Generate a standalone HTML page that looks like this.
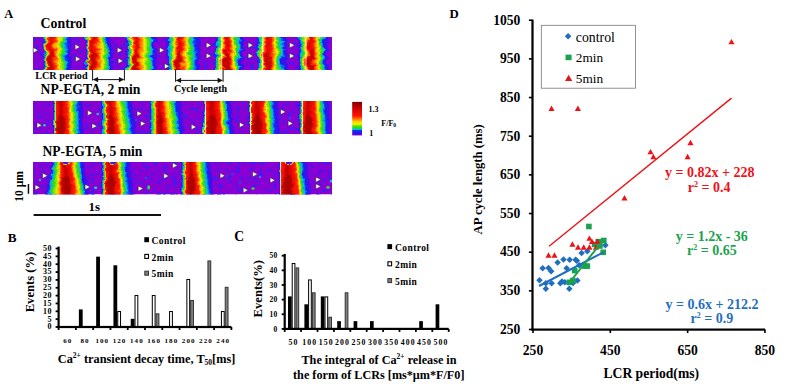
<!DOCTYPE html><html><head><meta charset="utf-8"><style>html,body{margin:0;padding:0;background:#fff;width:800px;height:388px;overflow:hidden}svg{display:block}</style></head><body>
<svg width="800" height="388" viewBox="0 0 800 388">
<rect width="800" height="388" fill="#fff"/>
<text x="4.3" y="17.8" font-family="Liberation Serif" font-weight="bold" font-size="12.4">A</text>
<text x="40.6" y="28.4" font-family="Liberation Serif" font-weight="bold" font-size="13.8">Control</text>
<filter id="sf1" color-interpolation-filters="sRGB" filterUnits="userSpaceOnUse" x="27" y="31" width="311" height="45"><feTurbulence type="turbulence" baseFrequency="0.07 0.12" numOctaves="3" seed="3" result="n"/><feDisplacementMap in="SourceGraphic" in2="n" scale="7" xChannelSelector="R" yChannelSelector="A"/></filter>
<filter id="nf1" color-interpolation-filters="sRGB" filterUnits="userSpaceOnUse" x="33" y="37" width="299" height="33"><feTurbulence type="fractalNoise" baseFrequency="0.22 0.26" numOctaves="2" seed="6"/><feColorMatrix type="matrix" values="0 0 0 0 0.25  0 0 0 0 0.1  0 0 0 0 0.94  8.0 0 0 0 -4.48"/></filter>
<clipPath id="sc1"><rect x="33" y="37" width="299" height="33"/></clipPath>
<g clip-path="url(#sc1)">
<rect x="33" y="37" width="299" height="33" fill="#8a00d2"/>
<rect x="33" y="37" width="299" height="33" filter="url(#nf1)"/>
<g filter="url(#sf1)">
<linearGradient id="sg1_0" gradientUnits="userSpaceOnUse" x1="27" x2="338" y1="0" y2="0"><stop offset="0.0000" stop-color="#8a00d2" stop-opacity="0.00"/><stop offset="0.0434" stop-color="#8a00d2" stop-opacity="0.00"/><stop offset="0.0450" stop-color="#7803d9" stop-opacity="0.23"/><stop offset="0.0466" stop-color="#4c09e9" stop-opacity="0.80"/><stop offset="0.0482" stop-color="#261aef"/><stop offset="0.0498" stop-color="#1163ee"/><stop offset="0.0514" stop-color="#04bdd4"/><stop offset="0.0531" stop-color="#1bd05f"/><stop offset="0.0547" stop-color="#47df15"/><stop offset="0.0579" stop-color="#dfee02"/><stop offset="0.0595" stop-color="#fab000"/><stop offset="0.0611" stop-color="#ff6000"/><stop offset="0.0643" stop-color="#ff1900"/><stop offset="0.0707" stop-color="#de0500"/><stop offset="0.0820" stop-color="#ff1900"/><stop offset="0.0916" stop-color="#fd9b00"/><stop offset="0.0997" stop-color="#f0ee00"/><stop offset="0.1077" stop-color="#5de112"/><stop offset="0.1109" stop-color="#32dd18"/><stop offset="0.1125" stop-color="#22d737"/><stop offset="0.1141" stop-color="#18ce6d"/><stop offset="0.1190" stop-color="#00b9eb"/><stop offset="0.1254" stop-color="#1e1ef0"/><stop offset="0.1318" stop-color="#3612ed"/><stop offset="0.1334" stop-color="#480aea" stop-opacity="0.84"/><stop offset="0.1383" stop-color="#8a00d2" stop-opacity="0.00"/><stop offset="0.1817" stop-color="#8a00d2" stop-opacity="0.00"/><stop offset="0.1833" stop-color="#7803d9" stop-opacity="0.23"/><stop offset="0.1849" stop-color="#4c09e9" stop-opacity="0.80"/><stop offset="0.1865" stop-color="#261aef"/><stop offset="0.1881" stop-color="#0a87ed"/><stop offset="0.1897" stop-color="#13ca86"/><stop offset="0.1913" stop-color="#47df15"/><stop offset="0.1929" stop-color="#ace908"/><stop offset="0.1945" stop-color="#f6c800"/><stop offset="0.1961" stop-color="#ff6000"/><stop offset="0.1994" stop-color="#ff1c00"/><stop offset="0.2074" stop-color="#dc0300"/><stop offset="0.2186" stop-color="#ff1c00"/><stop offset="0.2283" stop-color="#fd9b00"/><stop offset="0.2363" stop-color="#f0ee00"/><stop offset="0.2444" stop-color="#5de112"/><stop offset="0.2476" stop-color="#32dd18"/><stop offset="0.2492" stop-color="#22d737"/><stop offset="0.2540" stop-color="#02bae3"/><stop offset="0.2588" stop-color="#1e1ef0"/><stop offset="0.2653" stop-color="#3612ed"/><stop offset="0.2669" stop-color="#480aea" stop-opacity="0.84"/><stop offset="0.2717" stop-color="#8a00d2" stop-opacity="0.00"/><stop offset="0.3103" stop-color="#8a00d2" stop-opacity="0.00"/><stop offset="0.3119" stop-color="#7803d9" stop-opacity="0.23"/><stop offset="0.3135" stop-color="#4c09e9" stop-opacity="0.80"/><stop offset="0.3151" stop-color="#261aef"/><stop offset="0.3167" stop-color="#183fef"/><stop offset="0.3183" stop-color="#0a87ed"/><stop offset="0.3199" stop-color="#04bdd4"/><stop offset="0.3232" stop-color="#22d738"/><stop offset="0.3248" stop-color="#47df15"/><stop offset="0.3296" stop-color="#dfee02"/><stop offset="0.3312" stop-color="#f6c800"/><stop offset="0.3344" stop-color="#ff6000"/><stop offset="0.3376" stop-color="#fc1700"/><stop offset="0.3441" stop-color="#dd0400"/><stop offset="0.3521" stop-color="#fc1700"/><stop offset="0.3553" stop-color="#ff4400"/><stop offset="0.3585" stop-color="#ff7100"/><stop offset="0.3714" stop-color="#f1e900"/><stop offset="0.3730" stop-color="#e6ef01"/><stop offset="0.3810" stop-color="#62e212"/><stop offset="0.3859" stop-color="#2bdc19"/><stop offset="0.3939" stop-color="#00b9eb"/><stop offset="0.4003" stop-color="#1e1ef0"/><stop offset="0.4068" stop-color="#3612ed"/><stop offset="0.4084" stop-color="#480aea" stop-opacity="0.84"/><stop offset="0.4132" stop-color="#8a00d2" stop-opacity="0.00"/><stop offset="0.4421" stop-color="#8a00d2" stop-opacity="0.00"/><stop offset="0.4437" stop-color="#7803d9" stop-opacity="0.23"/><stop offset="0.4453" stop-color="#4c09e9" stop-opacity="0.80"/><stop offset="0.4469" stop-color="#261aef"/><stop offset="0.4486" stop-color="#1b2df0"/><stop offset="0.4518" stop-color="#0699ec"/><stop offset="0.4534" stop-color="#04bdd4"/><stop offset="0.4582" stop-color="#26da25"/><stop offset="0.4614" stop-color="#6de310"/><stop offset="0.4662" stop-color="#dfee02"/><stop offset="0.4678" stop-color="#f4d300"/><stop offset="0.4743" stop-color="#ff3900"/><stop offset="0.4759" stop-color="#fe1800"/><stop offset="0.4823" stop-color="#db0300"/><stop offset="0.4920" stop-color="#fe1800"/><stop offset="0.5000" stop-color="#ff8900"/><stop offset="0.5096" stop-color="#f0ee00"/><stop offset="0.5177" stop-color="#5de112"/><stop offset="0.5209" stop-color="#32dd18"/><stop offset="0.5225" stop-color="#22d737"/><stop offset="0.5241" stop-color="#18ce6d"/><stop offset="0.5305" stop-color="#02bae3"/><stop offset="0.5354" stop-color="#0e6fed"/><stop offset="0.5402" stop-color="#1e1ef0"/><stop offset="0.5466" stop-color="#3612ed"/><stop offset="0.5482" stop-color="#480aea" stop-opacity="0.84"/><stop offset="0.5531" stop-color="#8a00d2" stop-opacity="0.00"/><stop offset="0.5965" stop-color="#8a00d2" stop-opacity="0.00"/><stop offset="0.5997" stop-color="#3811ed"/><stop offset="0.6013" stop-color="#211df0"/><stop offset="0.6029" stop-color="#1741ef"/><stop offset="0.6061" stop-color="#04a3ec"/><stop offset="0.6077" stop-color="#06becd"/><stop offset="0.6125" stop-color="#24d92d"/><stop offset="0.6141" stop-color="#3ede16"/><stop offset="0.6222" stop-color="#f1eb00"/><stop offset="0.6286" stop-color="#ff6000"/><stop offset="0.6318" stop-color="#fe1800"/><stop offset="0.6383" stop-color="#db0300"/><stop offset="0.6479" stop-color="#fe1800"/><stop offset="0.6592" stop-color="#f6c800"/><stop offset="0.6624" stop-color="#e6ef01"/><stop offset="0.6672" stop-color="#62e212"/><stop offset="0.6704" stop-color="#27db20"/><stop offset="0.6720" stop-color="#18ce6d"/><stop offset="0.6768" stop-color="#01b6eb"/><stop offset="0.6833" stop-color="#1f1df0"/><stop offset="0.6897" stop-color="#3a10ed"/><stop offset="0.6913" stop-color="#4d09e9" stop-opacity="0.79"/><stop offset="0.6945" stop-color="#7903d8" stop-opacity="0.23"/><stop offset="0.6961" stop-color="#8a00d2" stop-opacity="0.00"/><stop offset="0.7315" stop-color="#8a00d2" stop-opacity="0.00"/><stop offset="0.7331" stop-color="#7803d9" stop-opacity="0.23"/><stop offset="0.7347" stop-color="#4c09e9" stop-opacity="0.80"/><stop offset="0.7363" stop-color="#261aef"/><stop offset="0.7379" stop-color="#1939ef"/><stop offset="0.7412" stop-color="#01bae6"/><stop offset="0.7444" stop-color="#1cd256"/><stop offset="0.7460" stop-color="#2fdd18"/><stop offset="0.7524" stop-color="#f1ec00"/><stop offset="0.7572" stop-color="#ff6000"/><stop offset="0.7605" stop-color="#ff1c00"/><stop offset="0.7685" stop-color="#dc0300"/><stop offset="0.7797" stop-color="#ff1c00"/><stop offset="0.7910" stop-color="#f9b400"/><stop offset="0.7958" stop-color="#f1ed00"/><stop offset="0.8039" stop-color="#50e014"/><stop offset="0.8055" stop-color="#38de17"/><stop offset="0.8071" stop-color="#24d82f"/><stop offset="0.8087" stop-color="#18ce6d"/><stop offset="0.8135" stop-color="#03bcdb"/><stop offset="0.8151" stop-color="#04a6ec"/><stop offset="0.8215" stop-color="#1e1ef0"/><stop offset="0.8280" stop-color="#3612ed"/><stop offset="0.8296" stop-color="#480aea" stop-opacity="0.84"/><stop offset="0.8344" stop-color="#8a00d2" stop-opacity="0.00"/><stop offset="0.8633" stop-color="#8a00d2" stop-opacity="0.00"/><stop offset="0.8650" stop-color="#7803d9" stop-opacity="0.23"/><stop offset="0.8666" stop-color="#4c09e9" stop-opacity="0.80"/><stop offset="0.8682" stop-color="#261aef"/><stop offset="0.8698" stop-color="#1d25f0"/><stop offset="0.8746" stop-color="#02adeb"/><stop offset="0.8762" stop-color="#07bfc7"/><stop offset="0.8810" stop-color="#23d734"/><stop offset="0.8826" stop-color="#36dd17"/><stop offset="0.8907" stop-color="#d7ee03"/><stop offset="0.8923" stop-color="#f2e100"/><stop offset="0.8987" stop-color="#ff6000"/><stop offset="0.9019" stop-color="#fc1700"/><stop offset="0.9084" stop-color="#dd0400"/><stop offset="0.9164" stop-color="#fc1700"/><stop offset="0.9196" stop-color="#ff4400"/><stop offset="0.9260" stop-color="#fba600"/><stop offset="0.9309" stop-color="#f2e300"/><stop offset="0.9325" stop-color="#e6ef01"/><stop offset="0.9389" stop-color="#55e113"/><stop offset="0.9405" stop-color="#3bde17"/><stop offset="0.9421" stop-color="#25d92b"/><stop offset="0.9437" stop-color="#18ce6d"/><stop offset="0.9469" stop-color="#05becf"/><stop offset="0.9486" stop-color="#04a6ec"/><stop offset="0.9534" stop-color="#1e1ef0"/><stop offset="0.9598" stop-color="#3612ed"/><stop offset="0.9614" stop-color="#480aea" stop-opacity="0.84"/><stop offset="0.9662" stop-color="#8a00d2" stop-opacity="0.00"/><stop offset="1.0000" stop-color="#8a00d2" stop-opacity="0.00"/></linearGradient>
<rect x="27" y="31.00" width="311" height="6.83" fill="url(#sg1_0)"/>
<linearGradient id="sg1_1" gradientUnits="userSpaceOnUse" x1="27" x2="338" y1="0" y2="0"><stop offset="0.0000" stop-color="#8a00d2" stop-opacity="0.00"/><stop offset="0.0434" stop-color="#8a00d2" stop-opacity="0.00"/><stop offset="0.0450" stop-color="#7803d9" stop-opacity="0.23"/><stop offset="0.0466" stop-color="#4c09e9" stop-opacity="0.80"/><stop offset="0.0482" stop-color="#261aef"/><stop offset="0.0498" stop-color="#1163ee"/><stop offset="0.0514" stop-color="#04bdd4"/><stop offset="0.0531" stop-color="#1bd05f"/><stop offset="0.0547" stop-color="#47df15"/><stop offset="0.0579" stop-color="#dfee02"/><stop offset="0.0595" stop-color="#fab000"/><stop offset="0.0611" stop-color="#ff6000"/><stop offset="0.0643" stop-color="#ff1900"/><stop offset="0.0707" stop-color="#de0500"/><stop offset="0.0820" stop-color="#ff1900"/><stop offset="0.0916" stop-color="#fd9b00"/><stop offset="0.0997" stop-color="#f0ee00"/><stop offset="0.1077" stop-color="#5de112"/><stop offset="0.1109" stop-color="#32dd18"/><stop offset="0.1125" stop-color="#22d737"/><stop offset="0.1141" stop-color="#18ce6d"/><stop offset="0.1190" stop-color="#00b9eb"/><stop offset="0.1254" stop-color="#1e1ef0"/><stop offset="0.1318" stop-color="#3612ed"/><stop offset="0.1334" stop-color="#480aea" stop-opacity="0.84"/><stop offset="0.1383" stop-color="#8a00d2" stop-opacity="0.00"/><stop offset="0.1817" stop-color="#8a00d2" stop-opacity="0.00"/><stop offset="0.1833" stop-color="#7803d9" stop-opacity="0.23"/><stop offset="0.1849" stop-color="#4c09e9" stop-opacity="0.80"/><stop offset="0.1865" stop-color="#261aef"/><stop offset="0.1881" stop-color="#0a87ed"/><stop offset="0.1897" stop-color="#13ca86"/><stop offset="0.1913" stop-color="#47df15"/><stop offset="0.1929" stop-color="#ace908"/><stop offset="0.1945" stop-color="#f6c800"/><stop offset="0.1961" stop-color="#ff6000"/><stop offset="0.1994" stop-color="#ff1c00"/><stop offset="0.2074" stop-color="#dc0300"/><stop offset="0.2186" stop-color="#ff1c00"/><stop offset="0.2283" stop-color="#fd9b00"/><stop offset="0.2363" stop-color="#f0ee00"/><stop offset="0.2444" stop-color="#5de112"/><stop offset="0.2476" stop-color="#32dd18"/><stop offset="0.2492" stop-color="#22d737"/><stop offset="0.2540" stop-color="#02bae3"/><stop offset="0.2588" stop-color="#1e1ef0"/><stop offset="0.2653" stop-color="#3612ed"/><stop offset="0.2669" stop-color="#480aea" stop-opacity="0.84"/><stop offset="0.2717" stop-color="#8a00d2" stop-opacity="0.00"/><stop offset="0.3103" stop-color="#8a00d2" stop-opacity="0.00"/><stop offset="0.3119" stop-color="#7803d9" stop-opacity="0.23"/><stop offset="0.3135" stop-color="#4c09e9" stop-opacity="0.80"/><stop offset="0.3151" stop-color="#261aef"/><stop offset="0.3167" stop-color="#183fef"/><stop offset="0.3183" stop-color="#0a87ed"/><stop offset="0.3199" stop-color="#04bdd4"/><stop offset="0.3232" stop-color="#22d738"/><stop offset="0.3248" stop-color="#47df15"/><stop offset="0.3296" stop-color="#dfee02"/><stop offset="0.3312" stop-color="#f6c800"/><stop offset="0.3344" stop-color="#ff6000"/><stop offset="0.3376" stop-color="#fc1700"/><stop offset="0.3441" stop-color="#dd0400"/><stop offset="0.3521" stop-color="#fc1700"/><stop offset="0.3553" stop-color="#ff4400"/><stop offset="0.3585" stop-color="#ff7100"/><stop offset="0.3714" stop-color="#f1e900"/><stop offset="0.3730" stop-color="#e6ef01"/><stop offset="0.3810" stop-color="#62e212"/><stop offset="0.3859" stop-color="#2bdc19"/><stop offset="0.3939" stop-color="#00b9eb"/><stop offset="0.4003" stop-color="#1e1ef0"/><stop offset="0.4068" stop-color="#3612ed"/><stop offset="0.4084" stop-color="#480aea" stop-opacity="0.84"/><stop offset="0.4132" stop-color="#8a00d2" stop-opacity="0.00"/><stop offset="0.4421" stop-color="#8a00d2" stop-opacity="0.00"/><stop offset="0.4437" stop-color="#7803d9" stop-opacity="0.23"/><stop offset="0.4453" stop-color="#4c09e9" stop-opacity="0.80"/><stop offset="0.4469" stop-color="#261aef"/><stop offset="0.4486" stop-color="#1b2df0"/><stop offset="0.4518" stop-color="#0699ec"/><stop offset="0.4534" stop-color="#04bdd4"/><stop offset="0.4582" stop-color="#26da25"/><stop offset="0.4614" stop-color="#6de310"/><stop offset="0.4662" stop-color="#dfee02"/><stop offset="0.4678" stop-color="#f4d300"/><stop offset="0.4743" stop-color="#ff3900"/><stop offset="0.4759" stop-color="#fe1800"/><stop offset="0.4823" stop-color="#db0300"/><stop offset="0.4920" stop-color="#fe1800"/><stop offset="0.5000" stop-color="#ff8900"/><stop offset="0.5096" stop-color="#f0ee00"/><stop offset="0.5177" stop-color="#5de112"/><stop offset="0.5209" stop-color="#32dd18"/><stop offset="0.5225" stop-color="#22d737"/><stop offset="0.5241" stop-color="#18ce6d"/><stop offset="0.5305" stop-color="#02bae3"/><stop offset="0.5354" stop-color="#0e6fed"/><stop offset="0.5402" stop-color="#1e1ef0"/><stop offset="0.5466" stop-color="#3612ed"/><stop offset="0.5482" stop-color="#480aea" stop-opacity="0.84"/><stop offset="0.5531" stop-color="#8a00d2" stop-opacity="0.00"/><stop offset="0.5965" stop-color="#8a00d2" stop-opacity="0.00"/><stop offset="0.5997" stop-color="#3811ed"/><stop offset="0.6013" stop-color="#211df0"/><stop offset="0.6029" stop-color="#1741ef"/><stop offset="0.6061" stop-color="#04a3ec"/><stop offset="0.6077" stop-color="#06becd"/><stop offset="0.6125" stop-color="#24d92d"/><stop offset="0.6141" stop-color="#3ede16"/><stop offset="0.6222" stop-color="#f1eb00"/><stop offset="0.6286" stop-color="#ff6000"/><stop offset="0.6318" stop-color="#fe1800"/><stop offset="0.6383" stop-color="#db0300"/><stop offset="0.6479" stop-color="#fe1800"/><stop offset="0.6592" stop-color="#f6c800"/><stop offset="0.6624" stop-color="#e6ef01"/><stop offset="0.6672" stop-color="#62e212"/><stop offset="0.6704" stop-color="#27db20"/><stop offset="0.6720" stop-color="#18ce6d"/><stop offset="0.6768" stop-color="#01b6eb"/><stop offset="0.6833" stop-color="#1f1df0"/><stop offset="0.6897" stop-color="#3a10ed"/><stop offset="0.6913" stop-color="#4d09e9" stop-opacity="0.79"/><stop offset="0.6945" stop-color="#7903d8" stop-opacity="0.23"/><stop offset="0.6961" stop-color="#8a00d2" stop-opacity="0.00"/><stop offset="0.7315" stop-color="#8a00d2" stop-opacity="0.00"/><stop offset="0.7331" stop-color="#7803d9" stop-opacity="0.23"/><stop offset="0.7347" stop-color="#4c09e9" stop-opacity="0.80"/><stop offset="0.7363" stop-color="#261aef"/><stop offset="0.7379" stop-color="#1939ef"/><stop offset="0.7412" stop-color="#01bae6"/><stop offset="0.7444" stop-color="#1cd256"/><stop offset="0.7460" stop-color="#2fdd18"/><stop offset="0.7524" stop-color="#f1ec00"/><stop offset="0.7572" stop-color="#ff6000"/><stop offset="0.7605" stop-color="#ff1c00"/><stop offset="0.7685" stop-color="#dc0300"/><stop offset="0.7797" stop-color="#ff1c00"/><stop offset="0.7910" stop-color="#f9b400"/><stop offset="0.7958" stop-color="#f1ed00"/><stop offset="0.8039" stop-color="#50e014"/><stop offset="0.8055" stop-color="#38de17"/><stop offset="0.8071" stop-color="#24d82f"/><stop offset="0.8087" stop-color="#18ce6d"/><stop offset="0.8135" stop-color="#03bcdb"/><stop offset="0.8151" stop-color="#04a6ec"/><stop offset="0.8215" stop-color="#1e1ef0"/><stop offset="0.8280" stop-color="#3612ed"/><stop offset="0.8296" stop-color="#480aea" stop-opacity="0.84"/><stop offset="0.8344" stop-color="#8a00d2" stop-opacity="0.00"/><stop offset="0.8633" stop-color="#8a00d2" stop-opacity="0.00"/><stop offset="0.8650" stop-color="#7803d9" stop-opacity="0.23"/><stop offset="0.8666" stop-color="#4c09e9" stop-opacity="0.80"/><stop offset="0.8682" stop-color="#261aef"/><stop offset="0.8698" stop-color="#1d25f0"/><stop offset="0.8746" stop-color="#02adeb"/><stop offset="0.8762" stop-color="#07bfc7"/><stop offset="0.8810" stop-color="#23d734"/><stop offset="0.8826" stop-color="#36dd17"/><stop offset="0.8907" stop-color="#d7ee03"/><stop offset="0.8923" stop-color="#f2e100"/><stop offset="0.8987" stop-color="#ff6000"/><stop offset="0.9019" stop-color="#fc1700"/><stop offset="0.9084" stop-color="#dd0400"/><stop offset="0.9164" stop-color="#fc1700"/><stop offset="0.9196" stop-color="#ff4400"/><stop offset="0.9260" stop-color="#fba600"/><stop offset="0.9309" stop-color="#f2e300"/><stop offset="0.9325" stop-color="#e6ef01"/><stop offset="0.9389" stop-color="#55e113"/><stop offset="0.9405" stop-color="#3bde17"/><stop offset="0.9421" stop-color="#25d92b"/><stop offset="0.9437" stop-color="#18ce6d"/><stop offset="0.9469" stop-color="#05becf"/><stop offset="0.9486" stop-color="#04a6ec"/><stop offset="0.9534" stop-color="#1e1ef0"/><stop offset="0.9598" stop-color="#3612ed"/><stop offset="0.9614" stop-color="#480aea" stop-opacity="0.84"/><stop offset="0.9662" stop-color="#8a00d2" stop-opacity="0.00"/><stop offset="1.0000" stop-color="#8a00d2" stop-opacity="0.00"/></linearGradient>
<rect x="27" y="36.62" width="311" height="6.83" fill="url(#sg1_1)"/>
<linearGradient id="sg1_2" gradientUnits="userSpaceOnUse" x1="27" x2="338" y1="0" y2="0"><stop offset="0.0000" stop-color="#8a00d2" stop-opacity="0.00"/><stop offset="0.0434" stop-color="#8a00d2" stop-opacity="0.00"/><stop offset="0.0450" stop-color="#7803d9" stop-opacity="0.23"/><stop offset="0.0466" stop-color="#4c09e9" stop-opacity="0.80"/><stop offset="0.0482" stop-color="#261aef"/><stop offset="0.0498" stop-color="#1163ee"/><stop offset="0.0514" stop-color="#04bdd4"/><stop offset="0.0531" stop-color="#1bd05f"/><stop offset="0.0547" stop-color="#47df15"/><stop offset="0.0579" stop-color="#dfee02"/><stop offset="0.0595" stop-color="#fab000"/><stop offset="0.0611" stop-color="#ff6000"/><stop offset="0.0643" stop-color="#ff1900"/><stop offset="0.0707" stop-color="#de0500"/><stop offset="0.0820" stop-color="#ff1900"/><stop offset="0.0916" stop-color="#fd9b00"/><stop offset="0.0997" stop-color="#f0ee00"/><stop offset="0.1077" stop-color="#5de112"/><stop offset="0.1109" stop-color="#32dd18"/><stop offset="0.1125" stop-color="#22d737"/><stop offset="0.1141" stop-color="#18ce6d"/><stop offset="0.1190" stop-color="#00b9eb"/><stop offset="0.1254" stop-color="#1e1ef0"/><stop offset="0.1318" stop-color="#3612ed"/><stop offset="0.1334" stop-color="#480aea" stop-opacity="0.84"/><stop offset="0.1383" stop-color="#8a00d2" stop-opacity="0.00"/><stop offset="0.1817" stop-color="#8a00d2" stop-opacity="0.00"/><stop offset="0.1833" stop-color="#7803d9" stop-opacity="0.23"/><stop offset="0.1849" stop-color="#4c09e9" stop-opacity="0.80"/><stop offset="0.1865" stop-color="#261aef"/><stop offset="0.1881" stop-color="#0a87ed"/><stop offset="0.1897" stop-color="#13ca86"/><stop offset="0.1913" stop-color="#47df15"/><stop offset="0.1929" stop-color="#ace908"/><stop offset="0.1945" stop-color="#f6c800"/><stop offset="0.1961" stop-color="#ff6000"/><stop offset="0.1994" stop-color="#ff1c00"/><stop offset="0.2074" stop-color="#dc0300"/><stop offset="0.2186" stop-color="#ff1c00"/><stop offset="0.2283" stop-color="#fd9b00"/><stop offset="0.2363" stop-color="#f0ee00"/><stop offset="0.2444" stop-color="#5de112"/><stop offset="0.2476" stop-color="#32dd18"/><stop offset="0.2492" stop-color="#22d737"/><stop offset="0.2540" stop-color="#02bae3"/><stop offset="0.2588" stop-color="#1e1ef0"/><stop offset="0.2653" stop-color="#3612ed"/><stop offset="0.2669" stop-color="#480aea" stop-opacity="0.84"/><stop offset="0.2717" stop-color="#8a00d2" stop-opacity="0.00"/><stop offset="0.3103" stop-color="#8a00d2" stop-opacity="0.00"/><stop offset="0.3119" stop-color="#7803d9" stop-opacity="0.23"/><stop offset="0.3135" stop-color="#4c09e9" stop-opacity="0.80"/><stop offset="0.3151" stop-color="#261aef"/><stop offset="0.3167" stop-color="#183fef"/><stop offset="0.3183" stop-color="#0a87ed"/><stop offset="0.3199" stop-color="#04bdd4"/><stop offset="0.3232" stop-color="#22d738"/><stop offset="0.3248" stop-color="#47df15"/><stop offset="0.3296" stop-color="#dfee02"/><stop offset="0.3312" stop-color="#f6c800"/><stop offset="0.3344" stop-color="#ff6000"/><stop offset="0.3376" stop-color="#fc1700"/><stop offset="0.3441" stop-color="#dd0400"/><stop offset="0.3521" stop-color="#fc1700"/><stop offset="0.3553" stop-color="#ff4400"/><stop offset="0.3585" stop-color="#ff7100"/><stop offset="0.3714" stop-color="#f1e900"/><stop offset="0.3730" stop-color="#e6ef01"/><stop offset="0.3810" stop-color="#62e212"/><stop offset="0.3859" stop-color="#2bdc19"/><stop offset="0.3939" stop-color="#00b9eb"/><stop offset="0.4003" stop-color="#1e1ef0"/><stop offset="0.4068" stop-color="#3612ed"/><stop offset="0.4084" stop-color="#480aea" stop-opacity="0.84"/><stop offset="0.4132" stop-color="#8a00d2" stop-opacity="0.00"/><stop offset="0.4421" stop-color="#8a00d2" stop-opacity="0.00"/><stop offset="0.4437" stop-color="#7803d9" stop-opacity="0.23"/><stop offset="0.4453" stop-color="#4c09e9" stop-opacity="0.80"/><stop offset="0.4469" stop-color="#261aef"/><stop offset="0.4486" stop-color="#1b2df0"/><stop offset="0.4518" stop-color="#0699ec"/><stop offset="0.4534" stop-color="#04bdd4"/><stop offset="0.4582" stop-color="#26da25"/><stop offset="0.4614" stop-color="#6de310"/><stop offset="0.4662" stop-color="#dfee02"/><stop offset="0.4678" stop-color="#f4d300"/><stop offset="0.4743" stop-color="#ff3900"/><stop offset="0.4759" stop-color="#fe1800"/><stop offset="0.4823" stop-color="#db0300"/><stop offset="0.4920" stop-color="#fe1800"/><stop offset="0.5000" stop-color="#ff8900"/><stop offset="0.5096" stop-color="#f0ee00"/><stop offset="0.5177" stop-color="#5de112"/><stop offset="0.5209" stop-color="#32dd18"/><stop offset="0.5225" stop-color="#22d737"/><stop offset="0.5241" stop-color="#18ce6d"/><stop offset="0.5305" stop-color="#02bae3"/><stop offset="0.5354" stop-color="#0e6fed"/><stop offset="0.5402" stop-color="#1e1ef0"/><stop offset="0.5466" stop-color="#3612ed"/><stop offset="0.5482" stop-color="#480aea" stop-opacity="0.84"/><stop offset="0.5531" stop-color="#8a00d2" stop-opacity="0.00"/><stop offset="0.5965" stop-color="#8a00d2" stop-opacity="0.00"/><stop offset="0.5997" stop-color="#3811ed"/><stop offset="0.6013" stop-color="#211df0"/><stop offset="0.6029" stop-color="#1741ef"/><stop offset="0.6061" stop-color="#04a3ec"/><stop offset="0.6077" stop-color="#06becd"/><stop offset="0.6125" stop-color="#24d92d"/><stop offset="0.6141" stop-color="#3ede16"/><stop offset="0.6222" stop-color="#f1eb00"/><stop offset="0.6286" stop-color="#ff6000"/><stop offset="0.6318" stop-color="#fe1800"/><stop offset="0.6383" stop-color="#db0300"/><stop offset="0.6479" stop-color="#fe1800"/><stop offset="0.6592" stop-color="#f6c800"/><stop offset="0.6624" stop-color="#e6ef01"/><stop offset="0.6672" stop-color="#62e212"/><stop offset="0.6704" stop-color="#27db20"/><stop offset="0.6720" stop-color="#18ce6d"/><stop offset="0.6768" stop-color="#01b6eb"/><stop offset="0.6833" stop-color="#1f1df0"/><stop offset="0.6897" stop-color="#3a10ed"/><stop offset="0.6913" stop-color="#4d09e9" stop-opacity="0.79"/><stop offset="0.6945" stop-color="#7903d8" stop-opacity="0.23"/><stop offset="0.6961" stop-color="#8a00d2" stop-opacity="0.00"/><stop offset="0.7315" stop-color="#8a00d2" stop-opacity="0.00"/><stop offset="0.7331" stop-color="#7803d9" stop-opacity="0.23"/><stop offset="0.7347" stop-color="#4c09e9" stop-opacity="0.80"/><stop offset="0.7363" stop-color="#261aef"/><stop offset="0.7379" stop-color="#1939ef"/><stop offset="0.7412" stop-color="#01bae6"/><stop offset="0.7444" stop-color="#1cd256"/><stop offset="0.7460" stop-color="#2fdd18"/><stop offset="0.7524" stop-color="#f1ec00"/><stop offset="0.7572" stop-color="#ff6000"/><stop offset="0.7605" stop-color="#ff1c00"/><stop offset="0.7685" stop-color="#dc0300"/><stop offset="0.7797" stop-color="#ff1c00"/><stop offset="0.7910" stop-color="#f9b400"/><stop offset="0.7958" stop-color="#f1ed00"/><stop offset="0.8039" stop-color="#50e014"/><stop offset="0.8055" stop-color="#38de17"/><stop offset="0.8071" stop-color="#24d82f"/><stop offset="0.8087" stop-color="#18ce6d"/><stop offset="0.8135" stop-color="#03bcdb"/><stop offset="0.8151" stop-color="#04a6ec"/><stop offset="0.8215" stop-color="#1e1ef0"/><stop offset="0.8280" stop-color="#3612ed"/><stop offset="0.8296" stop-color="#480aea" stop-opacity="0.84"/><stop offset="0.8344" stop-color="#8a00d2" stop-opacity="0.00"/><stop offset="0.8633" stop-color="#8a00d2" stop-opacity="0.00"/><stop offset="0.8650" stop-color="#7803d9" stop-opacity="0.23"/><stop offset="0.8666" stop-color="#4c09e9" stop-opacity="0.80"/><stop offset="0.8682" stop-color="#261aef"/><stop offset="0.8698" stop-color="#1d25f0"/><stop offset="0.8746" stop-color="#02adeb"/><stop offset="0.8762" stop-color="#07bfc7"/><stop offset="0.8810" stop-color="#23d734"/><stop offset="0.8826" stop-color="#36dd17"/><stop offset="0.8907" stop-color="#d7ee03"/><stop offset="0.8923" stop-color="#f2e100"/><stop offset="0.8987" stop-color="#ff6000"/><stop offset="0.9019" stop-color="#fc1700"/><stop offset="0.9084" stop-color="#dd0400"/><stop offset="0.9164" stop-color="#fc1700"/><stop offset="0.9196" stop-color="#ff4400"/><stop offset="0.9260" stop-color="#fba600"/><stop offset="0.9309" stop-color="#f2e300"/><stop offset="0.9325" stop-color="#e6ef01"/><stop offset="0.9389" stop-color="#55e113"/><stop offset="0.9405" stop-color="#3bde17"/><stop offset="0.9421" stop-color="#25d92b"/><stop offset="0.9437" stop-color="#18ce6d"/><stop offset="0.9469" stop-color="#05becf"/><stop offset="0.9486" stop-color="#04a6ec"/><stop offset="0.9534" stop-color="#1e1ef0"/><stop offset="0.9598" stop-color="#3612ed"/><stop offset="0.9614" stop-color="#480aea" stop-opacity="0.84"/><stop offset="0.9662" stop-color="#8a00d2" stop-opacity="0.00"/><stop offset="1.0000" stop-color="#8a00d2" stop-opacity="0.00"/></linearGradient>
<rect x="27" y="42.25" width="311" height="6.83" fill="url(#sg1_2)"/>
<linearGradient id="sg1_3" gradientUnits="userSpaceOnUse" x1="27" x2="338" y1="0" y2="0"><stop offset="0.0000" stop-color="#8a00d2" stop-opacity="0.00"/><stop offset="0.0434" stop-color="#8a00d2" stop-opacity="0.00"/><stop offset="0.0450" stop-color="#7803d9" stop-opacity="0.23"/><stop offset="0.0466" stop-color="#4c09e9" stop-opacity="0.80"/><stop offset="0.0482" stop-color="#261aef"/><stop offset="0.0498" stop-color="#1163ee"/><stop offset="0.0514" stop-color="#04bdd4"/><stop offset="0.0531" stop-color="#1bd05f"/><stop offset="0.0547" stop-color="#47df15"/><stop offset="0.0579" stop-color="#dfee02"/><stop offset="0.0595" stop-color="#fab000"/><stop offset="0.0611" stop-color="#ff6000"/><stop offset="0.0643" stop-color="#ff1900"/><stop offset="0.0707" stop-color="#de0500"/><stop offset="0.0820" stop-color="#ff1900"/><stop offset="0.0916" stop-color="#fd9b00"/><stop offset="0.0997" stop-color="#f0ee00"/><stop offset="0.1077" stop-color="#5de112"/><stop offset="0.1109" stop-color="#32dd18"/><stop offset="0.1125" stop-color="#22d737"/><stop offset="0.1141" stop-color="#18ce6d"/><stop offset="0.1190" stop-color="#00b9eb"/><stop offset="0.1254" stop-color="#1e1ef0"/><stop offset="0.1318" stop-color="#3612ed"/><stop offset="0.1334" stop-color="#480aea" stop-opacity="0.84"/><stop offset="0.1383" stop-color="#8a00d2" stop-opacity="0.00"/><stop offset="0.1817" stop-color="#8a00d2" stop-opacity="0.00"/><stop offset="0.1833" stop-color="#7803d9" stop-opacity="0.23"/><stop offset="0.1849" stop-color="#4c09e9" stop-opacity="0.80"/><stop offset="0.1865" stop-color="#261aef"/><stop offset="0.1881" stop-color="#0a87ed"/><stop offset="0.1897" stop-color="#13ca86"/><stop offset="0.1913" stop-color="#47df15"/><stop offset="0.1929" stop-color="#ace908"/><stop offset="0.1945" stop-color="#f6c800"/><stop offset="0.1961" stop-color="#ff6000"/><stop offset="0.1994" stop-color="#ff1c00"/><stop offset="0.2074" stop-color="#dc0300"/><stop offset="0.2186" stop-color="#ff1c00"/><stop offset="0.2283" stop-color="#fd9b00"/><stop offset="0.2363" stop-color="#f0ee00"/><stop offset="0.2444" stop-color="#5de112"/><stop offset="0.2476" stop-color="#32dd18"/><stop offset="0.2492" stop-color="#22d737"/><stop offset="0.2540" stop-color="#02bae3"/><stop offset="0.2588" stop-color="#1e1ef0"/><stop offset="0.2653" stop-color="#3612ed"/><stop offset="0.2669" stop-color="#480aea" stop-opacity="0.84"/><stop offset="0.2717" stop-color="#8a00d2" stop-opacity="0.00"/><stop offset="0.3103" stop-color="#8a00d2" stop-opacity="0.00"/><stop offset="0.3119" stop-color="#7803d9" stop-opacity="0.23"/><stop offset="0.3135" stop-color="#4c09e9" stop-opacity="0.80"/><stop offset="0.3151" stop-color="#261aef"/><stop offset="0.3167" stop-color="#183fef"/><stop offset="0.3183" stop-color="#0a87ed"/><stop offset="0.3199" stop-color="#04bdd4"/><stop offset="0.3232" stop-color="#22d738"/><stop offset="0.3248" stop-color="#47df15"/><stop offset="0.3296" stop-color="#dfee02"/><stop offset="0.3312" stop-color="#f6c800"/><stop offset="0.3344" stop-color="#ff6000"/><stop offset="0.3376" stop-color="#fc1700"/><stop offset="0.3441" stop-color="#dd0400"/><stop offset="0.3521" stop-color="#fc1700"/><stop offset="0.3553" stop-color="#ff4400"/><stop offset="0.3585" stop-color="#ff7100"/><stop offset="0.3714" stop-color="#f1e900"/><stop offset="0.3730" stop-color="#e6ef01"/><stop offset="0.3810" stop-color="#62e212"/><stop offset="0.3859" stop-color="#2bdc19"/><stop offset="0.3939" stop-color="#00b9eb"/><stop offset="0.4003" stop-color="#1e1ef0"/><stop offset="0.4068" stop-color="#3612ed"/><stop offset="0.4084" stop-color="#480aea" stop-opacity="0.84"/><stop offset="0.4132" stop-color="#8a00d2" stop-opacity="0.00"/><stop offset="0.4421" stop-color="#8a00d2" stop-opacity="0.00"/><stop offset="0.4437" stop-color="#7803d9" stop-opacity="0.23"/><stop offset="0.4453" stop-color="#4c09e9" stop-opacity="0.80"/><stop offset="0.4469" stop-color="#261aef"/><stop offset="0.4486" stop-color="#1b2df0"/><stop offset="0.4518" stop-color="#0699ec"/><stop offset="0.4534" stop-color="#04bdd4"/><stop offset="0.4582" stop-color="#26da25"/><stop offset="0.4614" stop-color="#6de310"/><stop offset="0.4662" stop-color="#dfee02"/><stop offset="0.4678" stop-color="#f4d300"/><stop offset="0.4743" stop-color="#ff3900"/><stop offset="0.4759" stop-color="#fe1800"/><stop offset="0.4823" stop-color="#db0300"/><stop offset="0.4920" stop-color="#fe1800"/><stop offset="0.5000" stop-color="#ff8900"/><stop offset="0.5096" stop-color="#f0ee00"/><stop offset="0.5177" stop-color="#5de112"/><stop offset="0.5209" stop-color="#32dd18"/><stop offset="0.5225" stop-color="#22d737"/><stop offset="0.5241" stop-color="#18ce6d"/><stop offset="0.5305" stop-color="#02bae3"/><stop offset="0.5354" stop-color="#0e6fed"/><stop offset="0.5402" stop-color="#1e1ef0"/><stop offset="0.5466" stop-color="#3612ed"/><stop offset="0.5482" stop-color="#480aea" stop-opacity="0.84"/><stop offset="0.5531" stop-color="#8a00d2" stop-opacity="0.00"/><stop offset="0.5965" stop-color="#8a00d2" stop-opacity="0.00"/><stop offset="0.5997" stop-color="#3811ed"/><stop offset="0.6013" stop-color="#211df0"/><stop offset="0.6029" stop-color="#1741ef"/><stop offset="0.6061" stop-color="#04a3ec"/><stop offset="0.6077" stop-color="#06becd"/><stop offset="0.6125" stop-color="#24d92d"/><stop offset="0.6141" stop-color="#3ede16"/><stop offset="0.6222" stop-color="#f1eb00"/><stop offset="0.6286" stop-color="#ff6000"/><stop offset="0.6318" stop-color="#fe1800"/><stop offset="0.6383" stop-color="#db0300"/><stop offset="0.6479" stop-color="#fe1800"/><stop offset="0.6592" stop-color="#f6c800"/><stop offset="0.6624" stop-color="#e6ef01"/><stop offset="0.6672" stop-color="#62e212"/><stop offset="0.6704" stop-color="#27db20"/><stop offset="0.6720" stop-color="#18ce6d"/><stop offset="0.6768" stop-color="#01b6eb"/><stop offset="0.6833" stop-color="#1f1df0"/><stop offset="0.6897" stop-color="#3a10ed"/><stop offset="0.6913" stop-color="#4d09e9" stop-opacity="0.79"/><stop offset="0.6945" stop-color="#7903d8" stop-opacity="0.23"/><stop offset="0.6961" stop-color="#8a00d2" stop-opacity="0.00"/><stop offset="0.7315" stop-color="#8a00d2" stop-opacity="0.00"/><stop offset="0.7331" stop-color="#7803d9" stop-opacity="0.23"/><stop offset="0.7347" stop-color="#4c09e9" stop-opacity="0.80"/><stop offset="0.7363" stop-color="#261aef"/><stop offset="0.7379" stop-color="#1939ef"/><stop offset="0.7412" stop-color="#01bae6"/><stop offset="0.7444" stop-color="#1cd256"/><stop offset="0.7460" stop-color="#2fdd18"/><stop offset="0.7524" stop-color="#f1ec00"/><stop offset="0.7572" stop-color="#ff6000"/><stop offset="0.7605" stop-color="#ff1c00"/><stop offset="0.7685" stop-color="#dc0300"/><stop offset="0.7797" stop-color="#ff1c00"/><stop offset="0.7910" stop-color="#f9b400"/><stop offset="0.7958" stop-color="#f1ed00"/><stop offset="0.8039" stop-color="#50e014"/><stop offset="0.8055" stop-color="#38de17"/><stop offset="0.8071" stop-color="#24d82f"/><stop offset="0.8087" stop-color="#18ce6d"/><stop offset="0.8135" stop-color="#03bcdb"/><stop offset="0.8151" stop-color="#04a6ec"/><stop offset="0.8215" stop-color="#1e1ef0"/><stop offset="0.8280" stop-color="#3612ed"/><stop offset="0.8296" stop-color="#480aea" stop-opacity="0.84"/><stop offset="0.8344" stop-color="#8a00d2" stop-opacity="0.00"/><stop offset="0.8633" stop-color="#8a00d2" stop-opacity="0.00"/><stop offset="0.8650" stop-color="#7803d9" stop-opacity="0.23"/><stop offset="0.8666" stop-color="#4c09e9" stop-opacity="0.80"/><stop offset="0.8682" stop-color="#261aef"/><stop offset="0.8698" stop-color="#1d25f0"/><stop offset="0.8746" stop-color="#02adeb"/><stop offset="0.8762" stop-color="#07bfc7"/><stop offset="0.8810" stop-color="#23d734"/><stop offset="0.8826" stop-color="#36dd17"/><stop offset="0.8907" stop-color="#d7ee03"/><stop offset="0.8923" stop-color="#f2e100"/><stop offset="0.8987" stop-color="#ff6000"/><stop offset="0.9019" stop-color="#fc1700"/><stop offset="0.9084" stop-color="#dd0400"/><stop offset="0.9164" stop-color="#fc1700"/><stop offset="0.9196" stop-color="#ff4400"/><stop offset="0.9260" stop-color="#fba600"/><stop offset="0.9309" stop-color="#f2e300"/><stop offset="0.9325" stop-color="#e6ef01"/><stop offset="0.9389" stop-color="#55e113"/><stop offset="0.9405" stop-color="#3bde17"/><stop offset="0.9421" stop-color="#25d92b"/><stop offset="0.9437" stop-color="#18ce6d"/><stop offset="0.9469" stop-color="#05becf"/><stop offset="0.9486" stop-color="#04a6ec"/><stop offset="0.9534" stop-color="#1e1ef0"/><stop offset="0.9598" stop-color="#3612ed"/><stop offset="0.9614" stop-color="#480aea" stop-opacity="0.84"/><stop offset="0.9662" stop-color="#8a00d2" stop-opacity="0.00"/><stop offset="1.0000" stop-color="#8a00d2" stop-opacity="0.00"/></linearGradient>
<rect x="27" y="47.88" width="311" height="6.83" fill="url(#sg1_3)"/>
<linearGradient id="sg1_4" gradientUnits="userSpaceOnUse" x1="27" x2="338" y1="0" y2="0"><stop offset="0.0000" stop-color="#8a00d2" stop-opacity="0.00"/><stop offset="0.0434" stop-color="#8a00d2" stop-opacity="0.00"/><stop offset="0.0450" stop-color="#7803d9" stop-opacity="0.23"/><stop offset="0.0466" stop-color="#4c09e9" stop-opacity="0.80"/><stop offset="0.0482" stop-color="#261aef"/><stop offset="0.0498" stop-color="#1163ee"/><stop offset="0.0514" stop-color="#04bdd4"/><stop offset="0.0531" stop-color="#1bd05f"/><stop offset="0.0547" stop-color="#47df15"/><stop offset="0.0579" stop-color="#dfee02"/><stop offset="0.0595" stop-color="#fab000"/><stop offset="0.0611" stop-color="#ff6000"/><stop offset="0.0643" stop-color="#ff1900"/><stop offset="0.0707" stop-color="#de0500"/><stop offset="0.0820" stop-color="#ff1900"/><stop offset="0.0916" stop-color="#fd9b00"/><stop offset="0.0997" stop-color="#f0ee00"/><stop offset="0.1077" stop-color="#5de112"/><stop offset="0.1109" stop-color="#32dd18"/><stop offset="0.1125" stop-color="#22d737"/><stop offset="0.1141" stop-color="#18ce6d"/><stop offset="0.1190" stop-color="#00b9eb"/><stop offset="0.1254" stop-color="#1e1ef0"/><stop offset="0.1318" stop-color="#3612ed"/><stop offset="0.1334" stop-color="#480aea" stop-opacity="0.84"/><stop offset="0.1383" stop-color="#8a00d2" stop-opacity="0.00"/><stop offset="0.1817" stop-color="#8a00d2" stop-opacity="0.00"/><stop offset="0.1833" stop-color="#7803d9" stop-opacity="0.23"/><stop offset="0.1849" stop-color="#4c09e9" stop-opacity="0.80"/><stop offset="0.1865" stop-color="#261aef"/><stop offset="0.1881" stop-color="#0a87ed"/><stop offset="0.1897" stop-color="#13ca86"/><stop offset="0.1913" stop-color="#47df15"/><stop offset="0.1929" stop-color="#ace908"/><stop offset="0.1945" stop-color="#f6c800"/><stop offset="0.1961" stop-color="#ff6000"/><stop offset="0.1994" stop-color="#ff1c00"/><stop offset="0.2074" stop-color="#dc0300"/><stop offset="0.2186" stop-color="#ff1c00"/><stop offset="0.2283" stop-color="#fd9b00"/><stop offset="0.2363" stop-color="#f0ee00"/><stop offset="0.2444" stop-color="#5de112"/><stop offset="0.2476" stop-color="#32dd18"/><stop offset="0.2492" stop-color="#22d737"/><stop offset="0.2540" stop-color="#02bae3"/><stop offset="0.2588" stop-color="#1e1ef0"/><stop offset="0.2653" stop-color="#3612ed"/><stop offset="0.2669" stop-color="#480aea" stop-opacity="0.84"/><stop offset="0.2717" stop-color="#8a00d2" stop-opacity="0.00"/><stop offset="0.3103" stop-color="#8a00d2" stop-opacity="0.00"/><stop offset="0.3119" stop-color="#7803d9" stop-opacity="0.23"/><stop offset="0.3135" stop-color="#4c09e9" stop-opacity="0.80"/><stop offset="0.3151" stop-color="#261aef"/><stop offset="0.3167" stop-color="#183fef"/><stop offset="0.3183" stop-color="#0a87ed"/><stop offset="0.3199" stop-color="#04bdd4"/><stop offset="0.3232" stop-color="#22d738"/><stop offset="0.3248" stop-color="#47df15"/><stop offset="0.3296" stop-color="#dfee02"/><stop offset="0.3312" stop-color="#f6c800"/><stop offset="0.3344" stop-color="#ff6000"/><stop offset="0.3376" stop-color="#fc1700"/><stop offset="0.3441" stop-color="#dd0400"/><stop offset="0.3521" stop-color="#fc1700"/><stop offset="0.3553" stop-color="#ff4400"/><stop offset="0.3585" stop-color="#ff7100"/><stop offset="0.3714" stop-color="#f1e900"/><stop offset="0.3730" stop-color="#e6ef01"/><stop offset="0.3810" stop-color="#62e212"/><stop offset="0.3859" stop-color="#2bdc19"/><stop offset="0.3939" stop-color="#00b9eb"/><stop offset="0.4003" stop-color="#1e1ef0"/><stop offset="0.4068" stop-color="#3612ed"/><stop offset="0.4084" stop-color="#480aea" stop-opacity="0.84"/><stop offset="0.4132" stop-color="#8a00d2" stop-opacity="0.00"/><stop offset="0.4421" stop-color="#8a00d2" stop-opacity="0.00"/><stop offset="0.4437" stop-color="#7803d9" stop-opacity="0.23"/><stop offset="0.4453" stop-color="#4c09e9" stop-opacity="0.80"/><stop offset="0.4469" stop-color="#261aef"/><stop offset="0.4486" stop-color="#1b2df0"/><stop offset="0.4518" stop-color="#0699ec"/><stop offset="0.4534" stop-color="#04bdd4"/><stop offset="0.4582" stop-color="#26da25"/><stop offset="0.4614" stop-color="#6de310"/><stop offset="0.4662" stop-color="#dfee02"/><stop offset="0.4678" stop-color="#f4d300"/><stop offset="0.4743" stop-color="#ff3900"/><stop offset="0.4759" stop-color="#fe1800"/><stop offset="0.4823" stop-color="#db0300"/><stop offset="0.4920" stop-color="#fe1800"/><stop offset="0.5000" stop-color="#ff8900"/><stop offset="0.5096" stop-color="#f0ee00"/><stop offset="0.5177" stop-color="#5de112"/><stop offset="0.5209" stop-color="#32dd18"/><stop offset="0.5225" stop-color="#22d737"/><stop offset="0.5241" stop-color="#18ce6d"/><stop offset="0.5305" stop-color="#02bae3"/><stop offset="0.5354" stop-color="#0e6fed"/><stop offset="0.5402" stop-color="#1e1ef0"/><stop offset="0.5466" stop-color="#3612ed"/><stop offset="0.5482" stop-color="#480aea" stop-opacity="0.84"/><stop offset="0.5531" stop-color="#8a00d2" stop-opacity="0.00"/><stop offset="0.5965" stop-color="#8a00d2" stop-opacity="0.00"/><stop offset="0.5997" stop-color="#3811ed"/><stop offset="0.6013" stop-color="#211df0"/><stop offset="0.6029" stop-color="#1741ef"/><stop offset="0.6061" stop-color="#04a3ec"/><stop offset="0.6077" stop-color="#06becd"/><stop offset="0.6125" stop-color="#24d92d"/><stop offset="0.6141" stop-color="#3ede16"/><stop offset="0.6222" stop-color="#f1eb00"/><stop offset="0.6286" stop-color="#ff6000"/><stop offset="0.6318" stop-color="#fe1800"/><stop offset="0.6383" stop-color="#db0300"/><stop offset="0.6479" stop-color="#fe1800"/><stop offset="0.6592" stop-color="#f6c800"/><stop offset="0.6624" stop-color="#e6ef01"/><stop offset="0.6672" stop-color="#62e212"/><stop offset="0.6704" stop-color="#27db20"/><stop offset="0.6720" stop-color="#18ce6d"/><stop offset="0.6768" stop-color="#01b6eb"/><stop offset="0.6833" stop-color="#1f1df0"/><stop offset="0.6897" stop-color="#3a10ed"/><stop offset="0.6913" stop-color="#4d09e9" stop-opacity="0.79"/><stop offset="0.6945" stop-color="#7903d8" stop-opacity="0.23"/><stop offset="0.6961" stop-color="#8a00d2" stop-opacity="0.00"/><stop offset="0.7315" stop-color="#8a00d2" stop-opacity="0.00"/><stop offset="0.7331" stop-color="#7803d9" stop-opacity="0.23"/><stop offset="0.7347" stop-color="#4c09e9" stop-opacity="0.80"/><stop offset="0.7363" stop-color="#261aef"/><stop offset="0.7379" stop-color="#1939ef"/><stop offset="0.7412" stop-color="#01bae6"/><stop offset="0.7444" stop-color="#1cd256"/><stop offset="0.7460" stop-color="#2fdd18"/><stop offset="0.7524" stop-color="#f1ec00"/><stop offset="0.7572" stop-color="#ff6000"/><stop offset="0.7605" stop-color="#ff1c00"/><stop offset="0.7685" stop-color="#dc0300"/><stop offset="0.7797" stop-color="#ff1c00"/><stop offset="0.7910" stop-color="#f9b400"/><stop offset="0.7958" stop-color="#f1ed00"/><stop offset="0.8039" stop-color="#50e014"/><stop offset="0.8055" stop-color="#38de17"/><stop offset="0.8071" stop-color="#24d82f"/><stop offset="0.8087" stop-color="#18ce6d"/><stop offset="0.8135" stop-color="#03bcdb"/><stop offset="0.8151" stop-color="#04a6ec"/><stop offset="0.8215" stop-color="#1e1ef0"/><stop offset="0.8280" stop-color="#3612ed"/><stop offset="0.8296" stop-color="#480aea" stop-opacity="0.84"/><stop offset="0.8344" stop-color="#8a00d2" stop-opacity="0.00"/><stop offset="0.8633" stop-color="#8a00d2" stop-opacity="0.00"/><stop offset="0.8650" stop-color="#7803d9" stop-opacity="0.23"/><stop offset="0.8666" stop-color="#4c09e9" stop-opacity="0.80"/><stop offset="0.8682" stop-color="#261aef"/><stop offset="0.8698" stop-color="#1d25f0"/><stop offset="0.8746" stop-color="#02adeb"/><stop offset="0.8762" stop-color="#07bfc7"/><stop offset="0.8810" stop-color="#23d734"/><stop offset="0.8826" stop-color="#36dd17"/><stop offset="0.8907" stop-color="#d7ee03"/><stop offset="0.8923" stop-color="#f2e100"/><stop offset="0.8987" stop-color="#ff6000"/><stop offset="0.9019" stop-color="#fc1700"/><stop offset="0.9084" stop-color="#dd0400"/><stop offset="0.9164" stop-color="#fc1700"/><stop offset="0.9196" stop-color="#ff4400"/><stop offset="0.9260" stop-color="#fba600"/><stop offset="0.9309" stop-color="#f2e300"/><stop offset="0.9325" stop-color="#e6ef01"/><stop offset="0.9389" stop-color="#55e113"/><stop offset="0.9405" stop-color="#3bde17"/><stop offset="0.9421" stop-color="#25d92b"/><stop offset="0.9437" stop-color="#18ce6d"/><stop offset="0.9469" stop-color="#05becf"/><stop offset="0.9486" stop-color="#04a6ec"/><stop offset="0.9534" stop-color="#1e1ef0"/><stop offset="0.9598" stop-color="#3612ed"/><stop offset="0.9614" stop-color="#480aea" stop-opacity="0.84"/><stop offset="0.9662" stop-color="#8a00d2" stop-opacity="0.00"/><stop offset="1.0000" stop-color="#8a00d2" stop-opacity="0.00"/></linearGradient>
<rect x="27" y="53.50" width="311" height="6.83" fill="url(#sg1_4)"/>
<linearGradient id="sg1_5" gradientUnits="userSpaceOnUse" x1="27" x2="338" y1="0" y2="0"><stop offset="0.0000" stop-color="#8a00d2" stop-opacity="0.00"/><stop offset="0.0434" stop-color="#8a00d2" stop-opacity="0.00"/><stop offset="0.0450" stop-color="#7803d9" stop-opacity="0.23"/><stop offset="0.0466" stop-color="#4c09e9" stop-opacity="0.80"/><stop offset="0.0482" stop-color="#261aef"/><stop offset="0.0498" stop-color="#1163ee"/><stop offset="0.0514" stop-color="#04bdd4"/><stop offset="0.0531" stop-color="#1bd05f"/><stop offset="0.0547" stop-color="#47df15"/><stop offset="0.0579" stop-color="#dfee02"/><stop offset="0.0595" stop-color="#fab000"/><stop offset="0.0611" stop-color="#ff6000"/><stop offset="0.0643" stop-color="#ff1900"/><stop offset="0.0707" stop-color="#de0500"/><stop offset="0.0820" stop-color="#ff1900"/><stop offset="0.0916" stop-color="#fd9b00"/><stop offset="0.0997" stop-color="#f0ee00"/><stop offset="0.1077" stop-color="#5de112"/><stop offset="0.1109" stop-color="#32dd18"/><stop offset="0.1125" stop-color="#22d737"/><stop offset="0.1141" stop-color="#18ce6d"/><stop offset="0.1190" stop-color="#00b9eb"/><stop offset="0.1254" stop-color="#1e1ef0"/><stop offset="0.1318" stop-color="#3612ed"/><stop offset="0.1334" stop-color="#480aea" stop-opacity="0.84"/><stop offset="0.1383" stop-color="#8a00d2" stop-opacity="0.00"/><stop offset="0.1817" stop-color="#8a00d2" stop-opacity="0.00"/><stop offset="0.1833" stop-color="#7803d9" stop-opacity="0.23"/><stop offset="0.1849" stop-color="#4c09e9" stop-opacity="0.80"/><stop offset="0.1865" stop-color="#261aef"/><stop offset="0.1881" stop-color="#0a87ed"/><stop offset="0.1897" stop-color="#13ca86"/><stop offset="0.1913" stop-color="#47df15"/><stop offset="0.1929" stop-color="#ace908"/><stop offset="0.1945" stop-color="#f6c800"/><stop offset="0.1961" stop-color="#ff6000"/><stop offset="0.1994" stop-color="#ff1c00"/><stop offset="0.2074" stop-color="#dc0300"/><stop offset="0.2186" stop-color="#ff1c00"/><stop offset="0.2283" stop-color="#fd9b00"/><stop offset="0.2363" stop-color="#f0ee00"/><stop offset="0.2444" stop-color="#5de112"/><stop offset="0.2476" stop-color="#32dd18"/><stop offset="0.2492" stop-color="#22d737"/><stop offset="0.2540" stop-color="#02bae3"/><stop offset="0.2588" stop-color="#1e1ef0"/><stop offset="0.2653" stop-color="#3612ed"/><stop offset="0.2669" stop-color="#480aea" stop-opacity="0.84"/><stop offset="0.2717" stop-color="#8a00d2" stop-opacity="0.00"/><stop offset="0.3103" stop-color="#8a00d2" stop-opacity="0.00"/><stop offset="0.3119" stop-color="#7803d9" stop-opacity="0.23"/><stop offset="0.3135" stop-color="#4c09e9" stop-opacity="0.80"/><stop offset="0.3151" stop-color="#261aef"/><stop offset="0.3167" stop-color="#183fef"/><stop offset="0.3183" stop-color="#0a87ed"/><stop offset="0.3199" stop-color="#04bdd4"/><stop offset="0.3232" stop-color="#22d738"/><stop offset="0.3248" stop-color="#47df15"/><stop offset="0.3296" stop-color="#dfee02"/><stop offset="0.3312" stop-color="#f6c800"/><stop offset="0.3344" stop-color="#ff6000"/><stop offset="0.3376" stop-color="#fc1700"/><stop offset="0.3441" stop-color="#dd0400"/><stop offset="0.3521" stop-color="#fc1700"/><stop offset="0.3553" stop-color="#ff4400"/><stop offset="0.3585" stop-color="#ff7100"/><stop offset="0.3714" stop-color="#f1e900"/><stop offset="0.3730" stop-color="#e6ef01"/><stop offset="0.3810" stop-color="#62e212"/><stop offset="0.3859" stop-color="#2bdc19"/><stop offset="0.3939" stop-color="#00b9eb"/><stop offset="0.4003" stop-color="#1e1ef0"/><stop offset="0.4068" stop-color="#3612ed"/><stop offset="0.4084" stop-color="#480aea" stop-opacity="0.84"/><stop offset="0.4132" stop-color="#8a00d2" stop-opacity="0.00"/><stop offset="0.4421" stop-color="#8a00d2" stop-opacity="0.00"/><stop offset="0.4437" stop-color="#7803d9" stop-opacity="0.23"/><stop offset="0.4453" stop-color="#4c09e9" stop-opacity="0.80"/><stop offset="0.4469" stop-color="#261aef"/><stop offset="0.4486" stop-color="#1b2df0"/><stop offset="0.4518" stop-color="#0699ec"/><stop offset="0.4534" stop-color="#04bdd4"/><stop offset="0.4582" stop-color="#26da25"/><stop offset="0.4614" stop-color="#6de310"/><stop offset="0.4662" stop-color="#dfee02"/><stop offset="0.4678" stop-color="#f4d300"/><stop offset="0.4743" stop-color="#ff3900"/><stop offset="0.4759" stop-color="#fe1800"/><stop offset="0.4823" stop-color="#db0300"/><stop offset="0.4920" stop-color="#fe1800"/><stop offset="0.5000" stop-color="#ff8900"/><stop offset="0.5096" stop-color="#f0ee00"/><stop offset="0.5177" stop-color="#5de112"/><stop offset="0.5209" stop-color="#32dd18"/><stop offset="0.5225" stop-color="#22d737"/><stop offset="0.5241" stop-color="#18ce6d"/><stop offset="0.5305" stop-color="#02bae3"/><stop offset="0.5354" stop-color="#0e6fed"/><stop offset="0.5402" stop-color="#1e1ef0"/><stop offset="0.5466" stop-color="#3612ed"/><stop offset="0.5482" stop-color="#480aea" stop-opacity="0.84"/><stop offset="0.5531" stop-color="#8a00d2" stop-opacity="0.00"/><stop offset="0.5965" stop-color="#8a00d2" stop-opacity="0.00"/><stop offset="0.5997" stop-color="#3811ed"/><stop offset="0.6013" stop-color="#211df0"/><stop offset="0.6029" stop-color="#1741ef"/><stop offset="0.6061" stop-color="#04a3ec"/><stop offset="0.6077" stop-color="#06becd"/><stop offset="0.6125" stop-color="#24d92d"/><stop offset="0.6141" stop-color="#3ede16"/><stop offset="0.6222" stop-color="#f1eb00"/><stop offset="0.6286" stop-color="#ff6000"/><stop offset="0.6318" stop-color="#fe1800"/><stop offset="0.6383" stop-color="#db0300"/><stop offset="0.6479" stop-color="#fe1800"/><stop offset="0.6592" stop-color="#f6c800"/><stop offset="0.6624" stop-color="#e6ef01"/><stop offset="0.6672" stop-color="#62e212"/><stop offset="0.6704" stop-color="#27db20"/><stop offset="0.6720" stop-color="#18ce6d"/><stop offset="0.6768" stop-color="#01b6eb"/><stop offset="0.6833" stop-color="#1f1df0"/><stop offset="0.6897" stop-color="#3a10ed"/><stop offset="0.6913" stop-color="#4d09e9" stop-opacity="0.79"/><stop offset="0.6945" stop-color="#7903d8" stop-opacity="0.23"/><stop offset="0.6961" stop-color="#8a00d2" stop-opacity="0.00"/><stop offset="0.7315" stop-color="#8a00d2" stop-opacity="0.00"/><stop offset="0.7331" stop-color="#7803d9" stop-opacity="0.23"/><stop offset="0.7347" stop-color="#4c09e9" stop-opacity="0.80"/><stop offset="0.7363" stop-color="#261aef"/><stop offset="0.7379" stop-color="#1939ef"/><stop offset="0.7412" stop-color="#01bae6"/><stop offset="0.7444" stop-color="#1cd256"/><stop offset="0.7460" stop-color="#2fdd18"/><stop offset="0.7524" stop-color="#f1ec00"/><stop offset="0.7572" stop-color="#ff6000"/><stop offset="0.7605" stop-color="#ff1c00"/><stop offset="0.7685" stop-color="#dc0300"/><stop offset="0.7797" stop-color="#ff1c00"/><stop offset="0.7910" stop-color="#f9b400"/><stop offset="0.7958" stop-color="#f1ed00"/><stop offset="0.8039" stop-color="#50e014"/><stop offset="0.8055" stop-color="#38de17"/><stop offset="0.8071" stop-color="#24d82f"/><stop offset="0.8087" stop-color="#18ce6d"/><stop offset="0.8135" stop-color="#03bcdb"/><stop offset="0.8151" stop-color="#04a6ec"/><stop offset="0.8215" stop-color="#1e1ef0"/><stop offset="0.8280" stop-color="#3612ed"/><stop offset="0.8296" stop-color="#480aea" stop-opacity="0.84"/><stop offset="0.8344" stop-color="#8a00d2" stop-opacity="0.00"/><stop offset="0.8633" stop-color="#8a00d2" stop-opacity="0.00"/><stop offset="0.8650" stop-color="#7803d9" stop-opacity="0.23"/><stop offset="0.8666" stop-color="#4c09e9" stop-opacity="0.80"/><stop offset="0.8682" stop-color="#261aef"/><stop offset="0.8698" stop-color="#1d25f0"/><stop offset="0.8746" stop-color="#02adeb"/><stop offset="0.8762" stop-color="#07bfc7"/><stop offset="0.8810" stop-color="#23d734"/><stop offset="0.8826" stop-color="#36dd17"/><stop offset="0.8907" stop-color="#d7ee03"/><stop offset="0.8923" stop-color="#f2e100"/><stop offset="0.8987" stop-color="#ff6000"/><stop offset="0.9019" stop-color="#fc1700"/><stop offset="0.9084" stop-color="#dd0400"/><stop offset="0.9164" stop-color="#fc1700"/><stop offset="0.9196" stop-color="#ff4400"/><stop offset="0.9260" stop-color="#fba600"/><stop offset="0.9309" stop-color="#f2e300"/><stop offset="0.9325" stop-color="#e6ef01"/><stop offset="0.9389" stop-color="#55e113"/><stop offset="0.9405" stop-color="#3bde17"/><stop offset="0.9421" stop-color="#25d92b"/><stop offset="0.9437" stop-color="#18ce6d"/><stop offset="0.9469" stop-color="#05becf"/><stop offset="0.9486" stop-color="#04a6ec"/><stop offset="0.9534" stop-color="#1e1ef0"/><stop offset="0.9598" stop-color="#3612ed"/><stop offset="0.9614" stop-color="#480aea" stop-opacity="0.84"/><stop offset="0.9662" stop-color="#8a00d2" stop-opacity="0.00"/><stop offset="1.0000" stop-color="#8a00d2" stop-opacity="0.00"/></linearGradient>
<rect x="27" y="59.12" width="311" height="6.83" fill="url(#sg1_5)"/>
<linearGradient id="sg1_6" gradientUnits="userSpaceOnUse" x1="27" x2="338" y1="0" y2="0"><stop offset="0.0000" stop-color="#8a00d2" stop-opacity="0.00"/><stop offset="0.0434" stop-color="#8a00d2" stop-opacity="0.00"/><stop offset="0.0450" stop-color="#7803d9" stop-opacity="0.23"/><stop offset="0.0466" stop-color="#4c09e9" stop-opacity="0.80"/><stop offset="0.0482" stop-color="#261aef"/><stop offset="0.0498" stop-color="#1163ee"/><stop offset="0.0514" stop-color="#04bdd4"/><stop offset="0.0531" stop-color="#1bd05f"/><stop offset="0.0547" stop-color="#47df15"/><stop offset="0.0579" stop-color="#dfee02"/><stop offset="0.0595" stop-color="#fab000"/><stop offset="0.0611" stop-color="#ff6000"/><stop offset="0.0643" stop-color="#ff1900"/><stop offset="0.0707" stop-color="#de0500"/><stop offset="0.0820" stop-color="#ff1900"/><stop offset="0.0916" stop-color="#fd9b00"/><stop offset="0.0997" stop-color="#f0ee00"/><stop offset="0.1077" stop-color="#5de112"/><stop offset="0.1109" stop-color="#32dd18"/><stop offset="0.1125" stop-color="#22d737"/><stop offset="0.1141" stop-color="#18ce6d"/><stop offset="0.1190" stop-color="#00b9eb"/><stop offset="0.1254" stop-color="#1e1ef0"/><stop offset="0.1318" stop-color="#3612ed"/><stop offset="0.1334" stop-color="#480aea" stop-opacity="0.84"/><stop offset="0.1383" stop-color="#8a00d2" stop-opacity="0.00"/><stop offset="0.1817" stop-color="#8a00d2" stop-opacity="0.00"/><stop offset="0.1833" stop-color="#7803d9" stop-opacity="0.23"/><stop offset="0.1849" stop-color="#4c09e9" stop-opacity="0.80"/><stop offset="0.1865" stop-color="#261aef"/><stop offset="0.1881" stop-color="#0a87ed"/><stop offset="0.1897" stop-color="#13ca86"/><stop offset="0.1913" stop-color="#47df15"/><stop offset="0.1929" stop-color="#ace908"/><stop offset="0.1945" stop-color="#f6c800"/><stop offset="0.1961" stop-color="#ff6000"/><stop offset="0.1994" stop-color="#ff1c00"/><stop offset="0.2074" stop-color="#dc0300"/><stop offset="0.2186" stop-color="#ff1c00"/><stop offset="0.2283" stop-color="#fd9b00"/><stop offset="0.2363" stop-color="#f0ee00"/><stop offset="0.2444" stop-color="#5de112"/><stop offset="0.2476" stop-color="#32dd18"/><stop offset="0.2492" stop-color="#22d737"/><stop offset="0.2540" stop-color="#02bae3"/><stop offset="0.2588" stop-color="#1e1ef0"/><stop offset="0.2653" stop-color="#3612ed"/><stop offset="0.2669" stop-color="#480aea" stop-opacity="0.84"/><stop offset="0.2717" stop-color="#8a00d2" stop-opacity="0.00"/><stop offset="0.3103" stop-color="#8a00d2" stop-opacity="0.00"/><stop offset="0.3119" stop-color="#7803d9" stop-opacity="0.23"/><stop offset="0.3135" stop-color="#4c09e9" stop-opacity="0.80"/><stop offset="0.3151" stop-color="#261aef"/><stop offset="0.3167" stop-color="#183fef"/><stop offset="0.3183" stop-color="#0a87ed"/><stop offset="0.3199" stop-color="#04bdd4"/><stop offset="0.3232" stop-color="#22d738"/><stop offset="0.3248" stop-color="#47df15"/><stop offset="0.3296" stop-color="#dfee02"/><stop offset="0.3312" stop-color="#f6c800"/><stop offset="0.3344" stop-color="#ff6000"/><stop offset="0.3376" stop-color="#fc1700"/><stop offset="0.3441" stop-color="#dd0400"/><stop offset="0.3521" stop-color="#fc1700"/><stop offset="0.3553" stop-color="#ff4400"/><stop offset="0.3585" stop-color="#ff7100"/><stop offset="0.3714" stop-color="#f1e900"/><stop offset="0.3730" stop-color="#e6ef01"/><stop offset="0.3810" stop-color="#62e212"/><stop offset="0.3859" stop-color="#2bdc19"/><stop offset="0.3939" stop-color="#00b9eb"/><stop offset="0.4003" stop-color="#1e1ef0"/><stop offset="0.4068" stop-color="#3612ed"/><stop offset="0.4084" stop-color="#480aea" stop-opacity="0.84"/><stop offset="0.4132" stop-color="#8a00d2" stop-opacity="0.00"/><stop offset="0.4421" stop-color="#8a00d2" stop-opacity="0.00"/><stop offset="0.4437" stop-color="#7803d9" stop-opacity="0.23"/><stop offset="0.4453" stop-color="#4c09e9" stop-opacity="0.80"/><stop offset="0.4469" stop-color="#261aef"/><stop offset="0.4486" stop-color="#1b2df0"/><stop offset="0.4518" stop-color="#0699ec"/><stop offset="0.4534" stop-color="#04bdd4"/><stop offset="0.4582" stop-color="#26da25"/><stop offset="0.4614" stop-color="#6de310"/><stop offset="0.4662" stop-color="#dfee02"/><stop offset="0.4678" stop-color="#f4d300"/><stop offset="0.4743" stop-color="#ff3900"/><stop offset="0.4759" stop-color="#fe1800"/><stop offset="0.4823" stop-color="#db0300"/><stop offset="0.4920" stop-color="#fe1800"/><stop offset="0.5000" stop-color="#ff8900"/><stop offset="0.5096" stop-color="#f0ee00"/><stop offset="0.5177" stop-color="#5de112"/><stop offset="0.5209" stop-color="#32dd18"/><stop offset="0.5225" stop-color="#22d737"/><stop offset="0.5241" stop-color="#18ce6d"/><stop offset="0.5305" stop-color="#02bae3"/><stop offset="0.5354" stop-color="#0e6fed"/><stop offset="0.5402" stop-color="#1e1ef0"/><stop offset="0.5466" stop-color="#3612ed"/><stop offset="0.5482" stop-color="#480aea" stop-opacity="0.84"/><stop offset="0.5531" stop-color="#8a00d2" stop-opacity="0.00"/><stop offset="0.5965" stop-color="#8a00d2" stop-opacity="0.00"/><stop offset="0.5997" stop-color="#3811ed"/><stop offset="0.6013" stop-color="#211df0"/><stop offset="0.6029" stop-color="#1741ef"/><stop offset="0.6061" stop-color="#04a3ec"/><stop offset="0.6077" stop-color="#06becd"/><stop offset="0.6125" stop-color="#24d92d"/><stop offset="0.6141" stop-color="#3ede16"/><stop offset="0.6222" stop-color="#f1eb00"/><stop offset="0.6286" stop-color="#ff6000"/><stop offset="0.6318" stop-color="#fe1800"/><stop offset="0.6383" stop-color="#db0300"/><stop offset="0.6479" stop-color="#fe1800"/><stop offset="0.6592" stop-color="#f6c800"/><stop offset="0.6624" stop-color="#e6ef01"/><stop offset="0.6672" stop-color="#62e212"/><stop offset="0.6704" stop-color="#27db20"/><stop offset="0.6720" stop-color="#18ce6d"/><stop offset="0.6768" stop-color="#01b6eb"/><stop offset="0.6833" stop-color="#1f1df0"/><stop offset="0.6897" stop-color="#3a10ed"/><stop offset="0.6913" stop-color="#4d09e9" stop-opacity="0.79"/><stop offset="0.6945" stop-color="#7903d8" stop-opacity="0.23"/><stop offset="0.6961" stop-color="#8a00d2" stop-opacity="0.00"/><stop offset="0.7315" stop-color="#8a00d2" stop-opacity="0.00"/><stop offset="0.7331" stop-color="#7803d9" stop-opacity="0.23"/><stop offset="0.7347" stop-color="#4c09e9" stop-opacity="0.80"/><stop offset="0.7363" stop-color="#261aef"/><stop offset="0.7379" stop-color="#1939ef"/><stop offset="0.7412" stop-color="#01bae6"/><stop offset="0.7444" stop-color="#1cd256"/><stop offset="0.7460" stop-color="#2fdd18"/><stop offset="0.7524" stop-color="#f1ec00"/><stop offset="0.7572" stop-color="#ff6000"/><stop offset="0.7605" stop-color="#ff1c00"/><stop offset="0.7685" stop-color="#dc0300"/><stop offset="0.7797" stop-color="#ff1c00"/><stop offset="0.7910" stop-color="#f9b400"/><stop offset="0.7958" stop-color="#f1ed00"/><stop offset="0.8039" stop-color="#50e014"/><stop offset="0.8055" stop-color="#38de17"/><stop offset="0.8071" stop-color="#24d82f"/><stop offset="0.8087" stop-color="#18ce6d"/><stop offset="0.8135" stop-color="#03bcdb"/><stop offset="0.8151" stop-color="#04a6ec"/><stop offset="0.8215" stop-color="#1e1ef0"/><stop offset="0.8280" stop-color="#3612ed"/><stop offset="0.8296" stop-color="#480aea" stop-opacity="0.84"/><stop offset="0.8344" stop-color="#8a00d2" stop-opacity="0.00"/><stop offset="0.8633" stop-color="#8a00d2" stop-opacity="0.00"/><stop offset="0.8650" stop-color="#7803d9" stop-opacity="0.23"/><stop offset="0.8666" stop-color="#4c09e9" stop-opacity="0.80"/><stop offset="0.8682" stop-color="#261aef"/><stop offset="0.8698" stop-color="#1d25f0"/><stop offset="0.8746" stop-color="#02adeb"/><stop offset="0.8762" stop-color="#07bfc7"/><stop offset="0.8810" stop-color="#23d734"/><stop offset="0.8826" stop-color="#36dd17"/><stop offset="0.8907" stop-color="#d7ee03"/><stop offset="0.8923" stop-color="#f2e100"/><stop offset="0.8987" stop-color="#ff6000"/><stop offset="0.9019" stop-color="#fc1700"/><stop offset="0.9084" stop-color="#dd0400"/><stop offset="0.9164" stop-color="#fc1700"/><stop offset="0.9196" stop-color="#ff4400"/><stop offset="0.9260" stop-color="#fba600"/><stop offset="0.9309" stop-color="#f2e300"/><stop offset="0.9325" stop-color="#e6ef01"/><stop offset="0.9389" stop-color="#55e113"/><stop offset="0.9405" stop-color="#3bde17"/><stop offset="0.9421" stop-color="#25d92b"/><stop offset="0.9437" stop-color="#18ce6d"/><stop offset="0.9469" stop-color="#05becf"/><stop offset="0.9486" stop-color="#04a6ec"/><stop offset="0.9534" stop-color="#1e1ef0"/><stop offset="0.9598" stop-color="#3612ed"/><stop offset="0.9614" stop-color="#480aea" stop-opacity="0.84"/><stop offset="0.9662" stop-color="#8a00d2" stop-opacity="0.00"/><stop offset="1.0000" stop-color="#8a00d2" stop-opacity="0.00"/></linearGradient>
<rect x="27" y="64.75" width="311" height="6.83" fill="url(#sg1_6)"/>
<linearGradient id="sg1_7" gradientUnits="userSpaceOnUse" x1="27" x2="338" y1="0" y2="0"><stop offset="0.0000" stop-color="#8a00d2" stop-opacity="0.00"/><stop offset="0.0434" stop-color="#8a00d2" stop-opacity="0.00"/><stop offset="0.0450" stop-color="#7803d9" stop-opacity="0.23"/><stop offset="0.0466" stop-color="#4c09e9" stop-opacity="0.80"/><stop offset="0.0482" stop-color="#261aef"/><stop offset="0.0498" stop-color="#1163ee"/><stop offset="0.0514" stop-color="#04bdd4"/><stop offset="0.0531" stop-color="#1bd05f"/><stop offset="0.0547" stop-color="#47df15"/><stop offset="0.0579" stop-color="#dfee02"/><stop offset="0.0595" stop-color="#fab000"/><stop offset="0.0611" stop-color="#ff6000"/><stop offset="0.0643" stop-color="#ff1900"/><stop offset="0.0707" stop-color="#de0500"/><stop offset="0.0820" stop-color="#ff1900"/><stop offset="0.0916" stop-color="#fd9b00"/><stop offset="0.0997" stop-color="#f0ee00"/><stop offset="0.1077" stop-color="#5de112"/><stop offset="0.1109" stop-color="#32dd18"/><stop offset="0.1125" stop-color="#22d737"/><stop offset="0.1141" stop-color="#18ce6d"/><stop offset="0.1190" stop-color="#00b9eb"/><stop offset="0.1254" stop-color="#1e1ef0"/><stop offset="0.1318" stop-color="#3612ed"/><stop offset="0.1334" stop-color="#480aea" stop-opacity="0.84"/><stop offset="0.1383" stop-color="#8a00d2" stop-opacity="0.00"/><stop offset="0.1817" stop-color="#8a00d2" stop-opacity="0.00"/><stop offset="0.1833" stop-color="#7803d9" stop-opacity="0.23"/><stop offset="0.1849" stop-color="#4c09e9" stop-opacity="0.80"/><stop offset="0.1865" stop-color="#261aef"/><stop offset="0.1881" stop-color="#0a87ed"/><stop offset="0.1897" stop-color="#13ca86"/><stop offset="0.1913" stop-color="#47df15"/><stop offset="0.1929" stop-color="#ace908"/><stop offset="0.1945" stop-color="#f6c800"/><stop offset="0.1961" stop-color="#ff6000"/><stop offset="0.1994" stop-color="#ff1c00"/><stop offset="0.2074" stop-color="#dc0300"/><stop offset="0.2186" stop-color="#ff1c00"/><stop offset="0.2283" stop-color="#fd9b00"/><stop offset="0.2363" stop-color="#f0ee00"/><stop offset="0.2444" stop-color="#5de112"/><stop offset="0.2476" stop-color="#32dd18"/><stop offset="0.2492" stop-color="#22d737"/><stop offset="0.2540" stop-color="#02bae3"/><stop offset="0.2588" stop-color="#1e1ef0"/><stop offset="0.2653" stop-color="#3612ed"/><stop offset="0.2669" stop-color="#480aea" stop-opacity="0.84"/><stop offset="0.2717" stop-color="#8a00d2" stop-opacity="0.00"/><stop offset="0.3103" stop-color="#8a00d2" stop-opacity="0.00"/><stop offset="0.3119" stop-color="#7803d9" stop-opacity="0.23"/><stop offset="0.3135" stop-color="#4c09e9" stop-opacity="0.80"/><stop offset="0.3151" stop-color="#261aef"/><stop offset="0.3167" stop-color="#183fef"/><stop offset="0.3183" stop-color="#0a87ed"/><stop offset="0.3199" stop-color="#04bdd4"/><stop offset="0.3232" stop-color="#22d738"/><stop offset="0.3248" stop-color="#47df15"/><stop offset="0.3296" stop-color="#dfee02"/><stop offset="0.3312" stop-color="#f6c800"/><stop offset="0.3344" stop-color="#ff6000"/><stop offset="0.3376" stop-color="#fc1700"/><stop offset="0.3441" stop-color="#dd0400"/><stop offset="0.3521" stop-color="#fc1700"/><stop offset="0.3553" stop-color="#ff4400"/><stop offset="0.3585" stop-color="#ff7100"/><stop offset="0.3714" stop-color="#f1e900"/><stop offset="0.3730" stop-color="#e6ef01"/><stop offset="0.3810" stop-color="#62e212"/><stop offset="0.3859" stop-color="#2bdc19"/><stop offset="0.3939" stop-color="#00b9eb"/><stop offset="0.4003" stop-color="#1e1ef0"/><stop offset="0.4068" stop-color="#3612ed"/><stop offset="0.4084" stop-color="#480aea" stop-opacity="0.84"/><stop offset="0.4132" stop-color="#8a00d2" stop-opacity="0.00"/><stop offset="0.4421" stop-color="#8a00d2" stop-opacity="0.00"/><stop offset="0.4437" stop-color="#7803d9" stop-opacity="0.23"/><stop offset="0.4453" stop-color="#4c09e9" stop-opacity="0.80"/><stop offset="0.4469" stop-color="#261aef"/><stop offset="0.4486" stop-color="#1b2df0"/><stop offset="0.4518" stop-color="#0699ec"/><stop offset="0.4534" stop-color="#04bdd4"/><stop offset="0.4582" stop-color="#26da25"/><stop offset="0.4614" stop-color="#6de310"/><stop offset="0.4662" stop-color="#dfee02"/><stop offset="0.4678" stop-color="#f4d300"/><stop offset="0.4743" stop-color="#ff3900"/><stop offset="0.4759" stop-color="#fe1800"/><stop offset="0.4823" stop-color="#db0300"/><stop offset="0.4920" stop-color="#fe1800"/><stop offset="0.5000" stop-color="#ff8900"/><stop offset="0.5096" stop-color="#f0ee00"/><stop offset="0.5177" stop-color="#5de112"/><stop offset="0.5209" stop-color="#32dd18"/><stop offset="0.5225" stop-color="#22d737"/><stop offset="0.5241" stop-color="#18ce6d"/><stop offset="0.5305" stop-color="#02bae3"/><stop offset="0.5354" stop-color="#0e6fed"/><stop offset="0.5402" stop-color="#1e1ef0"/><stop offset="0.5466" stop-color="#3612ed"/><stop offset="0.5482" stop-color="#480aea" stop-opacity="0.84"/><stop offset="0.5531" stop-color="#8a00d2" stop-opacity="0.00"/><stop offset="0.5965" stop-color="#8a00d2" stop-opacity="0.00"/><stop offset="0.5997" stop-color="#3811ed"/><stop offset="0.6013" stop-color="#211df0"/><stop offset="0.6029" stop-color="#1741ef"/><stop offset="0.6061" stop-color="#04a3ec"/><stop offset="0.6077" stop-color="#06becd"/><stop offset="0.6125" stop-color="#24d92d"/><stop offset="0.6141" stop-color="#3ede16"/><stop offset="0.6222" stop-color="#f1eb00"/><stop offset="0.6286" stop-color="#ff6000"/><stop offset="0.6318" stop-color="#fe1800"/><stop offset="0.6383" stop-color="#db0300"/><stop offset="0.6479" stop-color="#fe1800"/><stop offset="0.6592" stop-color="#f6c800"/><stop offset="0.6624" stop-color="#e6ef01"/><stop offset="0.6672" stop-color="#62e212"/><stop offset="0.6704" stop-color="#27db20"/><stop offset="0.6720" stop-color="#18ce6d"/><stop offset="0.6768" stop-color="#01b6eb"/><stop offset="0.6833" stop-color="#1f1df0"/><stop offset="0.6897" stop-color="#3a10ed"/><stop offset="0.6913" stop-color="#4d09e9" stop-opacity="0.79"/><stop offset="0.6945" stop-color="#7903d8" stop-opacity="0.23"/><stop offset="0.6961" stop-color="#8a00d2" stop-opacity="0.00"/><stop offset="0.7315" stop-color="#8a00d2" stop-opacity="0.00"/><stop offset="0.7331" stop-color="#7803d9" stop-opacity="0.23"/><stop offset="0.7347" stop-color="#4c09e9" stop-opacity="0.80"/><stop offset="0.7363" stop-color="#261aef"/><stop offset="0.7379" stop-color="#1939ef"/><stop offset="0.7412" stop-color="#01bae6"/><stop offset="0.7444" stop-color="#1cd256"/><stop offset="0.7460" stop-color="#2fdd18"/><stop offset="0.7524" stop-color="#f1ec00"/><stop offset="0.7572" stop-color="#ff6000"/><stop offset="0.7605" stop-color="#ff1c00"/><stop offset="0.7685" stop-color="#dc0300"/><stop offset="0.7797" stop-color="#ff1c00"/><stop offset="0.7910" stop-color="#f9b400"/><stop offset="0.7958" stop-color="#f1ed00"/><stop offset="0.8039" stop-color="#50e014"/><stop offset="0.8055" stop-color="#38de17"/><stop offset="0.8071" stop-color="#24d82f"/><stop offset="0.8087" stop-color="#18ce6d"/><stop offset="0.8135" stop-color="#03bcdb"/><stop offset="0.8151" stop-color="#04a6ec"/><stop offset="0.8215" stop-color="#1e1ef0"/><stop offset="0.8280" stop-color="#3612ed"/><stop offset="0.8296" stop-color="#480aea" stop-opacity="0.84"/><stop offset="0.8344" stop-color="#8a00d2" stop-opacity="0.00"/><stop offset="0.8633" stop-color="#8a00d2" stop-opacity="0.00"/><stop offset="0.8650" stop-color="#7803d9" stop-opacity="0.23"/><stop offset="0.8666" stop-color="#4c09e9" stop-opacity="0.80"/><stop offset="0.8682" stop-color="#261aef"/><stop offset="0.8698" stop-color="#1d25f0"/><stop offset="0.8746" stop-color="#02adeb"/><stop offset="0.8762" stop-color="#07bfc7"/><stop offset="0.8810" stop-color="#23d734"/><stop offset="0.8826" stop-color="#36dd17"/><stop offset="0.8907" stop-color="#d7ee03"/><stop offset="0.8923" stop-color="#f2e100"/><stop offset="0.8987" stop-color="#ff6000"/><stop offset="0.9019" stop-color="#fc1700"/><stop offset="0.9084" stop-color="#dd0400"/><stop offset="0.9164" stop-color="#fc1700"/><stop offset="0.9196" stop-color="#ff4400"/><stop offset="0.9260" stop-color="#fba600"/><stop offset="0.9309" stop-color="#f2e300"/><stop offset="0.9325" stop-color="#e6ef01"/><stop offset="0.9389" stop-color="#55e113"/><stop offset="0.9405" stop-color="#3bde17"/><stop offset="0.9421" stop-color="#25d92b"/><stop offset="0.9437" stop-color="#18ce6d"/><stop offset="0.9469" stop-color="#05becf"/><stop offset="0.9486" stop-color="#04a6ec"/><stop offset="0.9534" stop-color="#1e1ef0"/><stop offset="0.9598" stop-color="#3612ed"/><stop offset="0.9614" stop-color="#480aea" stop-opacity="0.84"/><stop offset="0.9662" stop-color="#8a00d2" stop-opacity="0.00"/><stop offset="1.0000" stop-color="#8a00d2" stop-opacity="0.00"/></linearGradient>
<rect x="27" y="70.38" width="311" height="5.62" fill="url(#sg1_7)"/>
<ellipse cx="49.4" cy="61.4" rx="2.9" ry="11.9" fill="#980000" opacity="0.4"/>
<ellipse cx="91.6" cy="61.4" rx="3.1" ry="11.9" fill="#980000" opacity="0.4"/>
<ellipse cx="133.9" cy="61.4" rx="2.5" ry="11.9" fill="#980000" opacity="0.4"/>
<ellipse cx="177.2" cy="61.4" rx="2.7" ry="11.9" fill="#980000" opacity="0.4"/>
<ellipse cx="225.7" cy="61.4" rx="2.7" ry="11.9" fill="#980000" opacity="0.4"/>
<ellipse cx="266.1" cy="61.4" rx="3.1" ry="11.9" fill="#980000" opacity="0.4"/>
<ellipse cx="309.4" cy="61.4" rx="2.5" ry="11.9" fill="#980000" opacity="0.4"/>
</g></g>
<rect x="221.25" y="37" width="0.9" height="33" fill="#fff" opacity="0.75"/>
<rect x="262.2" y="37" width="0.9" height="33" fill="#fff" opacity="0.75"/>
<rect x="305.5" y="37" width="0.9" height="33" fill="#fff" opacity="0.75"/>
<path d="M33.2,47.5L38.2,50.2L33.2,53.0Z" fill="#fff" stroke="#222" stroke-width="0.55"/>
<path d="M75.1,44.3L80.1,47.0L75.1,49.7Z" fill="#fff" stroke="#222" stroke-width="0.55"/>
<path d="M75.6,56.3L80.6,59.0L75.6,61.7Z" fill="#fff" stroke="#222" stroke-width="0.55"/>
<path d="M117.3,47.5L122.3,50.2L117.3,53.0Z" fill="#fff" stroke="#222" stroke-width="0.55"/>
<path d="M118.2,58.2L123.2,60.9L118.2,63.6Z" fill="#fff" stroke="#222" stroke-width="0.55"/>
<path d="M159.5,47.5L164.5,50.2L159.5,53.0Z" fill="#fff" stroke="#222" stroke-width="0.55"/>
<path d="M164.5,63.5L169.5,66.2L164.5,69.0Z" fill="#fff" stroke="#222" stroke-width="0.55"/>
<path d="M206.3,42.5L211.3,45.2L206.3,48.0Z" fill="#fff" stroke="#222" stroke-width="0.55"/>
<path d="M206.3,53.2L211.3,55.9L206.3,58.6Z" fill="#fff" stroke="#222" stroke-width="0.55"/>
<path d="M248.2,42.5L253.2,45.2L248.2,48.0Z" fill="#fff" stroke="#222" stroke-width="0.55"/>
<path d="M248.2,53.2L253.2,55.9L248.2,58.6Z" fill="#fff" stroke="#222" stroke-width="0.55"/>
<path d="M289.6,42.5L294.6,45.2L289.6,48.0Z" fill="#fff" stroke="#222" stroke-width="0.55"/>
<path d="M289.6,53.2L294.6,55.9L289.6,58.6Z" fill="#fff" stroke="#222" stroke-width="0.55"/>
<text x="35.2" y="79.4" font-family="Liberation Serif" font-weight="bold" font-size="10.2">LCR period</text>
<text x="40.6" y="93.6" font-family="Liberation Serif" font-weight="bold" font-size="13.6">NP-EGTA, 2 min</text>
<text x="174" y="92.4" font-family="Liberation Serif" font-weight="bold" font-size="10">Cycle length</text>
<path d="M92.6,70V80.6M124.4,70V80.6M93.6,79.6H123.4" stroke="#111" stroke-width="1" fill="none"/>
<path d="M92.89999999999999,79.6l5.2,-2.6v5.2z M124.10000000000001,79.6l-5.2,-2.6v5.2z" fill="#111"/>
<path d="M175.6,70V81.8M223.1,70V81.8M176.6,80.4H222.1" stroke="#111" stroke-width="1" fill="none"/>
<path d="M175.9,80.4l5.2,-2.6v5.2z M222.79999999999998,80.4l-5.2,-2.6v5.2z" fill="#111"/>
<filter id="sf2" color-interpolation-filters="sRGB" filterUnits="userSpaceOnUse" x="27" y="95" width="311" height="45"><feTurbulence type="turbulence" baseFrequency="0.1 0.15" numOctaves="3" seed="6" result="n"/><feDisplacementMap in="SourceGraphic" in2="n" scale="3.5" xChannelSelector="R" yChannelSelector="A"/></filter>
<filter id="nf2" color-interpolation-filters="sRGB" filterUnits="userSpaceOnUse" x="33" y="101" width="299" height="33"><feTurbulence type="fractalNoise" baseFrequency="0.22 0.26" numOctaves="2" seed="11"/><feColorMatrix type="matrix" values="0 0 0 0 0.25  0 0 0 0 0.1  0 0 0 0 0.94  8.0 0 0 0 -4.48"/></filter>
<clipPath id="sc2"><rect x="33" y="101" width="299" height="33"/></clipPath>
<g clip-path="url(#sc2)">
<rect x="33" y="101" width="299" height="33" fill="#8a00d2"/>
<rect x="33" y="101" width="299" height="33" filter="url(#nf2)"/>
<ellipse cx="44.5" cy="125.2" rx="1.3" ry="1.2" fill="#20c8d8"/>
<ellipse cx="97.8" cy="114" rx="1.5" ry="1.3" fill="#20b0e0"/>
<ellipse cx="96" cy="127" rx="1.2" ry="1.2" fill="#3040f0"/>
<ellipse cx="136" cy="120" rx="1.5" ry="1.2" fill="#3040f0"/>
<ellipse cx="290" cy="118" rx="1.4" ry="1.2" fill="#3040f0"/>
<ellipse cx="231" cy="115" rx="1.2" ry="1.5" fill="#3040f0"/>
<g filter="url(#sf2)">
<linearGradient id="sg2_0" gradientUnits="userSpaceOnUse" x1="27" x2="338" y1="0" y2="0"><stop offset="0.0000" stop-color="#8a00d2" stop-opacity="0.00"/><stop offset="0.0788" stop-color="#8a00d2" stop-opacity="0.00"/><stop offset="0.0804" stop-color="#6f04dc" stop-opacity="0.34"/><stop offset="0.0820" stop-color="#430beb" stop-opacity="0.92"/><stop offset="0.0836" stop-color="#1e1ef0"/><stop offset="0.0852" stop-color="#06bfca"/><stop offset="0.0868" stop-color="#39de17"/><stop offset="0.0884" stop-color="#beeb06"/><stop offset="0.0900" stop-color="#ff7b00"/><stop offset="0.0916" stop-color="#ff1b00"/><stop offset="0.1029" stop-color="#d20000"/><stop offset="0.1061" stop-color="#be0000"/><stop offset="0.1141" stop-color="#e10600"/><stop offset="0.1254" stop-color="#fd1800"/><stop offset="0.1270" stop-color="#ff2300"/><stop offset="0.1318" stop-color="#fe9500"/><stop offset="0.1383" stop-color="#f1e800"/><stop offset="0.1399" stop-color="#dfee02"/><stop offset="0.1463" stop-color="#56e113"/><stop offset="0.1495" stop-color="#26db22"/><stop offset="0.1511" stop-color="#1ad060"/><stop offset="0.1559" stop-color="#03bcdc"/><stop offset="0.1576" stop-color="#04a2ec"/><stop offset="0.1624" stop-color="#1a34ef"/><stop offset="0.1640" stop-color="#201df0"/><stop offset="0.1720" stop-color="#3612ed"/><stop offset="0.1736" stop-color="#420cec" stop-opacity="0.94"/><stop offset="0.1801" stop-color="#8001d6" stop-opacity="0.12"/><stop offset="0.1817" stop-color="#8a00d2" stop-opacity="0.00"/><stop offset="0.2347" stop-color="#8a00d2" stop-opacity="0.00"/><stop offset="0.2363" stop-color="#7803d9" stop-opacity="0.23"/><stop offset="0.2379" stop-color="#4c09e9" stop-opacity="0.80"/><stop offset="0.2395" stop-color="#261aef"/><stop offset="0.2412" stop-color="#154dee"/><stop offset="0.2428" stop-color="#04a3ec"/><stop offset="0.2444" stop-color="#0dc5a5"/><stop offset="0.2460" stop-color="#1fd448"/><stop offset="0.2476" stop-color="#47df15"/><stop offset="0.2508" stop-color="#c1eb06"/><stop offset="0.2524" stop-color="#f4d200"/><stop offset="0.2540" stop-color="#ff8700"/><stop offset="0.2556" stop-color="#ff2b00"/><stop offset="0.2572" stop-color="#f91500"/><stop offset="0.2621" stop-color="#d90100"/><stop offset="0.2637" stop-color="#c30000"/><stop offset="0.2653" stop-color="#c50000"/><stop offset="0.2685" stop-color="#dd0400"/><stop offset="0.2765" stop-color="#ff1f00"/><stop offset="0.2830" stop-color="#fd9c00"/><stop offset="0.2910" stop-color="#f1ea00"/><stop offset="0.2926" stop-color="#e3ef02"/><stop offset="0.3006" stop-color="#5be113"/><stop offset="0.3039" stop-color="#35dd17"/><stop offset="0.3055" stop-color="#25d929"/><stop offset="0.3087" stop-color="#14ca83"/><stop offset="0.3135" stop-color="#01b3eb"/><stop offset="0.3199" stop-color="#1b2bf0"/><stop offset="0.3215" stop-color="#211df0"/><stop offset="0.3296" stop-color="#3711ed"/><stop offset="0.3312" stop-color="#450beb" stop-opacity="0.90"/><stop offset="0.3376" stop-color="#8401d4" stop-opacity="0.08"/><stop offset="0.3392" stop-color="#8a00d2" stop-opacity="0.00"/><stop offset="0.3891" stop-color="#8a00d2" stop-opacity="0.00"/><stop offset="0.3907" stop-color="#7803d9" stop-opacity="0.23"/><stop offset="0.3923" stop-color="#4c09e9" stop-opacity="0.80"/><stop offset="0.3939" stop-color="#261aef"/><stop offset="0.3955" stop-color="#183fef"/><stop offset="0.3971" stop-color="#0a87ed"/><stop offset="0.3987" stop-color="#04bdd4"/><stop offset="0.4019" stop-color="#22d738"/><stop offset="0.4035" stop-color="#47df15"/><stop offset="0.4084" stop-color="#dfee02"/><stop offset="0.4100" stop-color="#f8b900"/><stop offset="0.4132" stop-color="#ff2b00"/><stop offset="0.4148" stop-color="#f71400"/><stop offset="0.4212" stop-color="#c20000"/><stop offset="0.4244" stop-color="#de0500"/><stop offset="0.4309" stop-color="#ff1900"/><stop offset="0.4373" stop-color="#fe9000"/><stop offset="0.4453" stop-color="#f3dc00"/><stop offset="0.4486" stop-color="#e7ef01"/><stop offset="0.4582" stop-color="#55e113"/><stop offset="0.4614" stop-color="#33dd18"/><stop offset="0.4630" stop-color="#25d92a"/><stop offset="0.4695" stop-color="#01bae7"/><stop offset="0.4743" stop-color="#1a35ef"/><stop offset="0.4759" stop-color="#201df0"/><stop offset="0.4839" stop-color="#3612ed"/><stop offset="0.4855" stop-color="#430ceb" stop-opacity="0.92"/><stop offset="0.4920" stop-color="#8201d5" stop-opacity="0.10"/><stop offset="0.4936" stop-color="#8a00d2" stop-opacity="0.00"/><stop offset="0.5659" stop-color="#8a00d2" stop-opacity="0.00"/><stop offset="0.5675" stop-color="#6505df" stop-opacity="0.47"/><stop offset="0.5691" stop-color="#3b0fec"/><stop offset="0.5707" stop-color="#098dec"/><stop offset="0.5723" stop-color="#7ce40f"/><stop offset="0.5740" stop-color="#ff2b00"/><stop offset="0.5756" stop-color="#fd1800"/><stop offset="0.5868" stop-color="#d30000"/><stop offset="0.5900" stop-color="#bd0000"/><stop offset="0.5965" stop-color="#db0300"/><stop offset="0.6109" stop-color="#fe1800"/><stop offset="0.6125" stop-color="#ff2400"/><stop offset="0.6141" stop-color="#ff4b00"/><stop offset="0.6158" stop-color="#ff8400"/><stop offset="0.6174" stop-color="#faab00"/><stop offset="0.6206" stop-color="#f3df00"/><stop offset="0.6222" stop-color="#e2ef02"/><stop offset="0.6270" stop-color="#57e113"/><stop offset="0.6286" stop-color="#36dd17"/><stop offset="0.6302" stop-color="#1fd44a"/><stop offset="0.6318" stop-color="#13c989"/><stop offset="0.6350" stop-color="#00b9eb"/><stop offset="0.6399" stop-color="#1a31ef"/><stop offset="0.6415" stop-color="#211df0"/><stop offset="0.6495" stop-color="#3711ed"/><stop offset="0.6511" stop-color="#440beb" stop-opacity="0.90"/><stop offset="0.6576" stop-color="#8301d4" stop-opacity="0.09"/><stop offset="0.6592" stop-color="#8a00d2" stop-opacity="0.00"/><stop offset="0.7074" stop-color="#8a00d2" stop-opacity="0.00"/><stop offset="0.7090" stop-color="#7803d9" stop-opacity="0.23"/><stop offset="0.7106" stop-color="#4c09e9" stop-opacity="0.80"/><stop offset="0.7122" stop-color="#261aef"/><stop offset="0.7138" stop-color="#0797ec"/><stop offset="0.7154" stop-color="#1ad063"/><stop offset="0.7170" stop-color="#69e211"/><stop offset="0.7186" stop-color="#daee03"/><stop offset="0.7203" stop-color="#ff6f00"/><stop offset="0.7219" stop-color="#ff1b00"/><stop offset="0.7331" stop-color="#d70000"/><stop offset="0.7363" stop-color="#bc0000"/><stop offset="0.7444" stop-color="#de0400"/><stop offset="0.7588" stop-color="#ff2000"/><stop offset="0.7605" stop-color="#ff4000"/><stop offset="0.7637" stop-color="#fba600"/><stop offset="0.7685" stop-color="#ecf001"/><stop offset="0.7733" stop-color="#5ee112"/><stop offset="0.7749" stop-color="#3cde16"/><stop offset="0.7765" stop-color="#22d739"/><stop offset="0.7781" stop-color="#15cc7b"/><stop offset="0.7830" stop-color="#00b9e9"/><stop offset="0.7894" stop-color="#1a33ef"/><stop offset="0.7910" stop-color="#201df0"/><stop offset="0.7990" stop-color="#3612ed"/><stop offset="0.8006" stop-color="#420cec" stop-opacity="0.94"/><stop offset="0.8071" stop-color="#8001d6" stop-opacity="0.13"/><stop offset="0.8087" stop-color="#8a00d2" stop-opacity="0.00"/><stop offset="0.8698" stop-color="#8a00d2" stop-opacity="0.00"/><stop offset="0.8714" stop-color="#7803d9" stop-opacity="0.23"/><stop offset="0.8730" stop-color="#4c09e9" stop-opacity="0.80"/><stop offset="0.8746" stop-color="#261aef"/><stop offset="0.8762" stop-color="#0e72ed"/><stop offset="0.8778" stop-color="#0bc2b2"/><stop offset="0.8794" stop-color="#24d92d"/><stop offset="0.8810" stop-color="#72e310"/><stop offset="0.8826" stop-color="#caec05"/><stop offset="0.8842" stop-color="#fba800"/><stop offset="0.8859" stop-color="#ff2b00"/><stop offset="0.8875" stop-color="#fd1800"/><stop offset="0.8971" stop-color="#d80000"/><stop offset="0.9003" stop-color="#bb0000"/><stop offset="0.9068" stop-color="#db0300"/><stop offset="0.9212" stop-color="#ff1f00"/><stop offset="0.9228" stop-color="#ff3d00"/><stop offset="0.9260" stop-color="#fd9900"/><stop offset="0.9325" stop-color="#ebef01"/><stop offset="0.9389" stop-color="#50e014"/><stop offset="0.9405" stop-color="#34dd17"/><stop offset="0.9421" stop-color="#20d541"/><stop offset="0.9437" stop-color="#15cb7d"/><stop offset="0.9469" stop-color="#05bdd1"/><stop offset="0.9486" stop-color="#03aaeb"/><stop offset="0.9534" stop-color="#1936ef"/><stop offset="0.9550" stop-color="#201df0"/><stop offset="0.9630" stop-color="#3612ed"/><stop offset="0.9646" stop-color="#420cec" stop-opacity="0.94"/><stop offset="0.9711" stop-color="#8001d6" stop-opacity="0.13"/><stop offset="0.9727" stop-color="#8a00d2" stop-opacity="0.00"/><stop offset="1.0000" stop-color="#8a00d2" stop-opacity="0.00"/></linearGradient>
<rect x="27" y="95.00" width="311" height="6.83" fill="url(#sg2_0)"/>
<linearGradient id="sg2_1" gradientUnits="userSpaceOnUse" x1="27" x2="338" y1="0" y2="0"><stop offset="0.0000" stop-color="#8a00d2" stop-opacity="0.00"/><stop offset="0.0788" stop-color="#8a00d2" stop-opacity="0.00"/><stop offset="0.0804" stop-color="#6f04dc" stop-opacity="0.34"/><stop offset="0.0820" stop-color="#430beb" stop-opacity="0.92"/><stop offset="0.0836" stop-color="#1e1ef0"/><stop offset="0.0852" stop-color="#06bfca"/><stop offset="0.0868" stop-color="#39de17"/><stop offset="0.0884" stop-color="#beeb06"/><stop offset="0.0900" stop-color="#ff7b00"/><stop offset="0.0916" stop-color="#ff1b00"/><stop offset="0.1029" stop-color="#d30000"/><stop offset="0.1061" stop-color="#bd0000"/><stop offset="0.1125" stop-color="#dc0300"/><stop offset="0.1270" stop-color="#ff1d00"/><stop offset="0.1286" stop-color="#ff3500"/><stop offset="0.1318" stop-color="#ff8900"/><stop offset="0.1350" stop-color="#f8ba00"/><stop offset="0.1399" stop-color="#ecf001"/><stop offset="0.1463" stop-color="#5fe112"/><stop offset="0.1495" stop-color="#2ddd18"/><stop offset="0.1527" stop-color="#15cb7f"/><stop offset="0.1559" stop-color="#05bece"/><stop offset="0.1576" stop-color="#02afeb"/><stop offset="0.1640" stop-color="#1e1ef0"/><stop offset="0.1736" stop-color="#3d0eec"/><stop offset="0.1817" stop-color="#8a00d2" stop-opacity="0.00"/><stop offset="0.2347" stop-color="#8a00d2" stop-opacity="0.00"/><stop offset="0.2363" stop-color="#7803d9" stop-opacity="0.23"/><stop offset="0.2379" stop-color="#4c09e9" stop-opacity="0.80"/><stop offset="0.2395" stop-color="#261aef"/><stop offset="0.2412" stop-color="#154dee"/><stop offset="0.2428" stop-color="#04a3ec"/><stop offset="0.2444" stop-color="#0dc5a5"/><stop offset="0.2460" stop-color="#1fd448"/><stop offset="0.2476" stop-color="#47df15"/><stop offset="0.2508" stop-color="#c1eb06"/><stop offset="0.2524" stop-color="#f4d200"/><stop offset="0.2540" stop-color="#ff8700"/><stop offset="0.2556" stop-color="#ff2b00"/><stop offset="0.2572" stop-color="#fa1600"/><stop offset="0.2637" stop-color="#d10000"/><stop offset="0.2653" stop-color="#bb0000"/><stop offset="0.2701" stop-color="#de0400"/><stop offset="0.2781" stop-color="#fd1800"/><stop offset="0.2797" stop-color="#ff2b00"/><stop offset="0.2846" stop-color="#ff8d00"/><stop offset="0.2894" stop-color="#f7c300"/><stop offset="0.2942" stop-color="#f0ee00"/><stop offset="0.3039" stop-color="#54e014"/><stop offset="0.3071" stop-color="#2ddd18"/><stop offset="0.3087" stop-color="#21d63d"/><stop offset="0.3119" stop-color="#11c892"/><stop offset="0.3151" stop-color="#03bcdb"/><stop offset="0.3167" stop-color="#04a5ec"/><stop offset="0.3232" stop-color="#1e1ef0"/><stop offset="0.3328" stop-color="#3d0fec"/><stop offset="0.3408" stop-color="#8a00d2" stop-opacity="0.00"/><stop offset="0.3891" stop-color="#8a00d2" stop-opacity="0.00"/><stop offset="0.3907" stop-color="#7803d9" stop-opacity="0.23"/><stop offset="0.3923" stop-color="#4c09e9" stop-opacity="0.80"/><stop offset="0.3939" stop-color="#261aef"/><stop offset="0.3955" stop-color="#183fef"/><stop offset="0.3971" stop-color="#0a87ed"/><stop offset="0.3987" stop-color="#04bdd4"/><stop offset="0.4019" stop-color="#22d738"/><stop offset="0.4035" stop-color="#47df15"/><stop offset="0.4084" stop-color="#dfee02"/><stop offset="0.4100" stop-color="#f8b900"/><stop offset="0.4132" stop-color="#ff2b00"/><stop offset="0.4148" stop-color="#f81500"/><stop offset="0.4196" stop-color="#d80100"/><stop offset="0.4212" stop-color="#c00000"/><stop offset="0.4309" stop-color="#f41200"/><stop offset="0.4325" stop-color="#fb1700"/><stop offset="0.4341" stop-color="#ff2800"/><stop offset="0.4405" stop-color="#fd9b00"/><stop offset="0.4502" stop-color="#f0ee00"/><stop offset="0.4614" stop-color="#4ee014"/><stop offset="0.4646" stop-color="#2bdc19"/><stop offset="0.4678" stop-color="#19cf69"/><stop offset="0.4711" stop-color="#06becb"/><stop offset="0.4727" stop-color="#03a9ec"/><stop offset="0.4775" stop-color="#1d22f0"/><stop offset="0.4871" stop-color="#3c0fec"/><stop offset="0.4904" stop-color="#5907e4" stop-opacity="0.63"/><stop offset="0.4952" stop-color="#8900d2" stop-opacity="0.02"/><stop offset="0.5643" stop-color="#8a00d2" stop-opacity="0.00"/><stop offset="0.5675" stop-color="#3a10ec"/><stop offset="0.5691" stop-color="#1066ee"/><stop offset="0.5707" stop-color="#23d736"/><stop offset="0.5723" stop-color="#c7ec05"/><stop offset="0.5740" stop-color="#ff2b00"/><stop offset="0.5756" stop-color="#fd1800"/><stop offset="0.5868" stop-color="#d70000"/><stop offset="0.5900" stop-color="#bd0000"/><stop offset="0.6013" stop-color="#e40800"/><stop offset="0.6125" stop-color="#fe1800"/><stop offset="0.6141" stop-color="#ff2400"/><stop offset="0.6158" stop-color="#ff4a00"/><stop offset="0.6174" stop-color="#ff8200"/><stop offset="0.6190" stop-color="#faab00"/><stop offset="0.6222" stop-color="#f3df00"/><stop offset="0.6238" stop-color="#e4ef02"/><stop offset="0.6286" stop-color="#58e113"/><stop offset="0.6302" stop-color="#37dd17"/><stop offset="0.6318" stop-color="#1fd448"/><stop offset="0.6334" stop-color="#13c988"/><stop offset="0.6367" stop-color="#00b9ea"/><stop offset="0.6415" stop-color="#1a32ef"/><stop offset="0.6431" stop-color="#201df0"/><stop offset="0.6511" stop-color="#3712ed"/><stop offset="0.6527" stop-color="#440beb" stop-opacity="0.91"/><stop offset="0.6592" stop-color="#8301d5" stop-opacity="0.09"/><stop offset="0.6608" stop-color="#8a00d2" stop-opacity="0.00"/><stop offset="0.7074" stop-color="#8a00d2" stop-opacity="0.00"/><stop offset="0.7090" stop-color="#7803d9" stop-opacity="0.23"/><stop offset="0.7106" stop-color="#4c09e9" stop-opacity="0.80"/><stop offset="0.7122" stop-color="#261aef"/><stop offset="0.7138" stop-color="#0797ec"/><stop offset="0.7154" stop-color="#1ad063"/><stop offset="0.7170" stop-color="#69e211"/><stop offset="0.7186" stop-color="#daee03"/><stop offset="0.7203" stop-color="#ff6f00"/><stop offset="0.7219" stop-color="#ff1c00"/><stop offset="0.7347" stop-color="#cd0000"/><stop offset="0.7363" stop-color="#bf0000"/><stop offset="0.7508" stop-color="#eb0d00"/><stop offset="0.7588" stop-color="#fe1800"/><stop offset="0.7605" stop-color="#ff2600"/><stop offset="0.7637" stop-color="#ff8b00"/><stop offset="0.7669" stop-color="#f6c900"/><stop offset="0.7685" stop-color="#f2e200"/><stop offset="0.7701" stop-color="#dcee02"/><stop offset="0.7749" stop-color="#53e014"/><stop offset="0.7765" stop-color="#32dd18"/><stop offset="0.7797" stop-color="#13ca87"/><stop offset="0.7830" stop-color="#05bdd0"/><stop offset="0.7846" stop-color="#02b0eb"/><stop offset="0.7910" stop-color="#1c28f0"/><stop offset="0.7942" stop-color="#251aef"/><stop offset="0.8006" stop-color="#3911ed"/><stop offset="0.8023" stop-color="#460aeb" stop-opacity="0.88"/><stop offset="0.8087" stop-color="#8501d4" stop-opacity="0.06"/><stop offset="0.8103" stop-color="#8a00d2" stop-opacity="0.00"/><stop offset="0.8698" stop-color="#8a00d2" stop-opacity="0.00"/><stop offset="0.8714" stop-color="#7803d9" stop-opacity="0.23"/><stop offset="0.8730" stop-color="#4c09e9" stop-opacity="0.80"/><stop offset="0.8746" stop-color="#261aef"/><stop offset="0.8762" stop-color="#0e72ed"/><stop offset="0.8778" stop-color="#0bc2b2"/><stop offset="0.8794" stop-color="#24d92d"/><stop offset="0.8810" stop-color="#72e310"/><stop offset="0.8826" stop-color="#caec05"/><stop offset="0.8842" stop-color="#fba800"/><stop offset="0.8859" stop-color="#ff2b00"/><stop offset="0.8875" stop-color="#fd1800"/><stop offset="0.8987" stop-color="#cd0000"/><stop offset="0.9003" stop-color="#bf0000"/><stop offset="0.9148" stop-color="#ee0e00"/><stop offset="0.9212" stop-color="#fe1800"/><stop offset="0.9228" stop-color="#ff2500"/><stop offset="0.9277" stop-color="#fba400"/><stop offset="0.9325" stop-color="#f2e600"/><stop offset="0.9341" stop-color="#deee02"/><stop offset="0.9389" stop-color="#64e211"/><stop offset="0.9421" stop-color="#2bdc19"/><stop offset="0.9437" stop-color="#1cd258"/><stop offset="0.9486" stop-color="#02bbdf"/><stop offset="0.9502" stop-color="#059eec"/><stop offset="0.9550" stop-color="#1c29f0"/><stop offset="0.9582" stop-color="#251aef"/><stop offset="0.9646" stop-color="#3911ed"/><stop offset="0.9662" stop-color="#460aeb" stop-opacity="0.88"/><stop offset="0.9727" stop-color="#8501d4" stop-opacity="0.06"/><stop offset="0.9743" stop-color="#8a00d2" stop-opacity="0.00"/><stop offset="1.0000" stop-color="#8a00d2" stop-opacity="0.00"/></linearGradient>
<rect x="27" y="100.62" width="311" height="6.83" fill="url(#sg2_1)"/>
<linearGradient id="sg2_2" gradientUnits="userSpaceOnUse" x1="27" x2="338" y1="0" y2="0"><stop offset="0.0000" stop-color="#8a00d2" stop-opacity="0.00"/><stop offset="0.0788" stop-color="#8a00d2" stop-opacity="0.00"/><stop offset="0.0804" stop-color="#6f04dc" stop-opacity="0.34"/><stop offset="0.0820" stop-color="#430beb" stop-opacity="0.92"/><stop offset="0.0836" stop-color="#1e1ef0"/><stop offset="0.0852" stop-color="#06bfca"/><stop offset="0.0868" stop-color="#39de17"/><stop offset="0.0884" stop-color="#beeb06"/><stop offset="0.0900" stop-color="#ff7b00"/><stop offset="0.0916" stop-color="#ff1b00"/><stop offset="0.1029" stop-color="#d50000"/><stop offset="0.1061" stop-color="#bc0000"/><stop offset="0.1125" stop-color="#db0300"/><stop offset="0.1270" stop-color="#ff1900"/><stop offset="0.1286" stop-color="#ff2900"/><stop offset="0.1334" stop-color="#fca000"/><stop offset="0.1399" stop-color="#f0ed00"/><stop offset="0.1479" stop-color="#4ee014"/><stop offset="0.1495" stop-color="#35dd17"/><stop offset="0.1511" stop-color="#23d736"/><stop offset="0.1527" stop-color="#17cd71"/><stop offset="0.1576" stop-color="#00b9e9"/><stop offset="0.1640" stop-color="#1c29f0"/><stop offset="0.1672" stop-color="#251aef"/><stop offset="0.1736" stop-color="#3911ed"/><stop offset="0.1752" stop-color="#460aeb" stop-opacity="0.88"/><stop offset="0.1817" stop-color="#8501d4" stop-opacity="0.06"/><stop offset="0.1833" stop-color="#8a00d2" stop-opacity="0.00"/><stop offset="0.2347" stop-color="#8a00d2" stop-opacity="0.00"/><stop offset="0.2363" stop-color="#7803d9" stop-opacity="0.23"/><stop offset="0.2379" stop-color="#4c09e9" stop-opacity="0.80"/><stop offset="0.2395" stop-color="#261aef"/><stop offset="0.2412" stop-color="#154dee"/><stop offset="0.2428" stop-color="#04a3ec"/><stop offset="0.2444" stop-color="#0dc5a5"/><stop offset="0.2460" stop-color="#1fd448"/><stop offset="0.2476" stop-color="#47df15"/><stop offset="0.2508" stop-color="#c1eb06"/><stop offset="0.2524" stop-color="#f4d200"/><stop offset="0.2540" stop-color="#ff8700"/><stop offset="0.2556" stop-color="#ff2b00"/><stop offset="0.2572" stop-color="#fb1600"/><stop offset="0.2637" stop-color="#d90100"/><stop offset="0.2669" stop-color="#bf0000"/><stop offset="0.2717" stop-color="#de0400"/><stop offset="0.2814" stop-color="#ff1c00"/><stop offset="0.2878" stop-color="#fd9700"/><stop offset="0.2958" stop-color="#f1e700"/><stop offset="0.2974" stop-color="#e9ef01"/><stop offset="0.3055" stop-color="#5fe212"/><stop offset="0.3103" stop-color="#27db1f"/><stop offset="0.3135" stop-color="#15cc7c"/><stop offset="0.3183" stop-color="#00b9ea"/><stop offset="0.3248" stop-color="#1a32ef"/><stop offset="0.3264" stop-color="#201df0"/><stop offset="0.3344" stop-color="#3612ed"/><stop offset="0.3360" stop-color="#420cec" stop-opacity="0.94"/><stop offset="0.3424" stop-color="#8101d5" stop-opacity="0.12"/><stop offset="0.3441" stop-color="#8a00d2" stop-opacity="0.00"/><stop offset="0.3891" stop-color="#8a00d2" stop-opacity="0.00"/><stop offset="0.3907" stop-color="#7803d9" stop-opacity="0.23"/><stop offset="0.3923" stop-color="#4c09e9" stop-opacity="0.80"/><stop offset="0.3939" stop-color="#261aef"/><stop offset="0.3955" stop-color="#183fef"/><stop offset="0.3971" stop-color="#0a87ed"/><stop offset="0.3987" stop-color="#04bdd4"/><stop offset="0.4019" stop-color="#22d738"/><stop offset="0.4035" stop-color="#47df15"/><stop offset="0.4084" stop-color="#dfee02"/><stop offset="0.4100" stop-color="#f8b900"/><stop offset="0.4132" stop-color="#ff2b00"/><stop offset="0.4148" stop-color="#f91600"/><stop offset="0.4212" stop-color="#ce0000"/><stop offset="0.4228" stop-color="#bd0000"/><stop offset="0.4277" stop-color="#df0500"/><stop offset="0.4357" stop-color="#ff1900"/><stop offset="0.4437" stop-color="#fba400"/><stop offset="0.4534" stop-color="#eaef01"/><stop offset="0.4630" stop-color="#58e113"/><stop offset="0.4662" stop-color="#35dd17"/><stop offset="0.4678" stop-color="#26da24"/><stop offset="0.4743" stop-color="#02bbe0"/><stop offset="0.4775" stop-color="#1068ee"/><stop offset="0.4791" stop-color="#183bef"/><stop offset="0.4807" stop-color="#201df0"/><stop offset="0.4887" stop-color="#3512ed"/><stop offset="0.4904" stop-color="#410cec" stop-opacity="0.95"/><stop offset="0.4968" stop-color="#8002d6" stop-opacity="0.13"/><stop offset="0.4984" stop-color="#8a00d2" stop-opacity="0.00"/><stop offset="0.5627" stop-color="#8a00d2" stop-opacity="0.00"/><stop offset="0.5659" stop-color="#3a10ed"/><stop offset="0.5675" stop-color="#1451ee"/><stop offset="0.5691" stop-color="#12c98b"/><stop offset="0.5707" stop-color="#66e211"/><stop offset="0.5723" stop-color="#f2e400"/><stop offset="0.5740" stop-color="#ff2b00"/><stop offset="0.5756" stop-color="#fe1800"/><stop offset="0.5884" stop-color="#ce0000"/><stop offset="0.5916" stop-color="#be0000"/><stop offset="0.5997" stop-color="#de0400"/><stop offset="0.6141" stop-color="#fe1800"/><stop offset="0.6158" stop-color="#ff2300"/><stop offset="0.6174" stop-color="#ff4900"/><stop offset="0.6190" stop-color="#ff8100"/><stop offset="0.6206" stop-color="#faaa00"/><stop offset="0.6238" stop-color="#f3de00"/><stop offset="0.6254" stop-color="#e5ef01"/><stop offset="0.6302" stop-color="#59e113"/><stop offset="0.6318" stop-color="#38de17"/><stop offset="0.6334" stop-color="#1fd546"/><stop offset="0.6350" stop-color="#13ca87"/><stop offset="0.6383" stop-color="#00b9e9"/><stop offset="0.6431" stop-color="#1a33ef"/><stop offset="0.6447" stop-color="#201df0"/><stop offset="0.6527" stop-color="#3612ed"/><stop offset="0.6543" stop-color="#440beb" stop-opacity="0.91"/><stop offset="0.6608" stop-color="#8301d5" stop-opacity="0.10"/><stop offset="0.6624" stop-color="#8a00d2" stop-opacity="0.00"/><stop offset="0.7074" stop-color="#8a00d2" stop-opacity="0.00"/><stop offset="0.7090" stop-color="#7803d9" stop-opacity="0.23"/><stop offset="0.7106" stop-color="#4c09e9" stop-opacity="0.80"/><stop offset="0.7122" stop-color="#261aef"/><stop offset="0.7138" stop-color="#0797ec"/><stop offset="0.7154" stop-color="#1ad063"/><stop offset="0.7170" stop-color="#69e211"/><stop offset="0.7186" stop-color="#daee03"/><stop offset="0.7203" stop-color="#ff6f00"/><stop offset="0.7219" stop-color="#ff1c00"/><stop offset="0.7347" stop-color="#d00000"/><stop offset="0.7379" stop-color="#be0000"/><stop offset="0.7460" stop-color="#df0500"/><stop offset="0.7605" stop-color="#ff1b00"/><stop offset="0.7621" stop-color="#ff2c00"/><stop offset="0.7653" stop-color="#fd9900"/><stop offset="0.7701" stop-color="#f1ea00"/><stop offset="0.7717" stop-color="#cded04"/><stop offset="0.7749" stop-color="#6de310"/><stop offset="0.7781" stop-color="#28dc1b"/><stop offset="0.7797" stop-color="#18ce6e"/><stop offset="0.7846" stop-color="#03bbdc"/><stop offset="0.7862" stop-color="#04a5ec"/><stop offset="0.7926" stop-color="#1e1ef0"/><stop offset="0.8023" stop-color="#3d0fec"/><stop offset="0.8103" stop-color="#8a00d2" stop-opacity="0.00"/><stop offset="0.8698" stop-color="#8a00d2" stop-opacity="0.00"/><stop offset="0.8714" stop-color="#7803d9" stop-opacity="0.23"/><stop offset="0.8730" stop-color="#4c09e9" stop-opacity="0.80"/><stop offset="0.8746" stop-color="#261aef"/><stop offset="0.8762" stop-color="#0e72ed"/><stop offset="0.8778" stop-color="#0bc2b2"/><stop offset="0.8794" stop-color="#24d92d"/><stop offset="0.8810" stop-color="#72e310"/><stop offset="0.8826" stop-color="#caec05"/><stop offset="0.8842" stop-color="#fba800"/><stop offset="0.8859" stop-color="#ff2b00"/><stop offset="0.8875" stop-color="#fd1800"/><stop offset="0.8987" stop-color="#d10000"/><stop offset="0.9019" stop-color="#be0000"/><stop offset="0.9100" stop-color="#e00600"/><stop offset="0.9228" stop-color="#ff1a00"/><stop offset="0.9244" stop-color="#ff2c00"/><stop offset="0.9277" stop-color="#ff8b00"/><stop offset="0.9309" stop-color="#f7c100"/><stop offset="0.9341" stop-color="#f1ec00"/><stop offset="0.9373" stop-color="#a8e909"/><stop offset="0.9405" stop-color="#5be113"/><stop offset="0.9421" stop-color="#3ede16"/><stop offset="0.9437" stop-color="#25da28"/><stop offset="0.9453" stop-color="#18ce6e"/><stop offset="0.9502" stop-color="#00b8eb"/><stop offset="0.9566" stop-color="#1e1ef0"/><stop offset="0.9662" stop-color="#3d0fec"/><stop offset="0.9743" stop-color="#8a00d2" stop-opacity="0.00"/><stop offset="1.0000" stop-color="#8a00d2" stop-opacity="0.00"/></linearGradient>
<rect x="27" y="106.25" width="311" height="6.83" fill="url(#sg2_2)"/>
<linearGradient id="sg2_3" gradientUnits="userSpaceOnUse" x1="27" x2="338" y1="0" y2="0"><stop offset="0.0000" stop-color="#8a00d2" stop-opacity="0.00"/><stop offset="0.0788" stop-color="#8a00d2" stop-opacity="0.00"/><stop offset="0.0804" stop-color="#6f04dc" stop-opacity="0.34"/><stop offset="0.0820" stop-color="#430beb" stop-opacity="0.92"/><stop offset="0.0836" stop-color="#1e1ef0"/><stop offset="0.0852" stop-color="#06bfca"/><stop offset="0.0868" stop-color="#39de17"/><stop offset="0.0884" stop-color="#beeb06"/><stop offset="0.0900" stop-color="#ff7b00"/><stop offset="0.0916" stop-color="#ff1b00"/><stop offset="0.1029" stop-color="#d60000"/><stop offset="0.1061" stop-color="#bb0000"/><stop offset="0.1141" stop-color="#de0500"/><stop offset="0.1270" stop-color="#fd1800"/><stop offset="0.1286" stop-color="#ff2300"/><stop offset="0.1318" stop-color="#ff6c00"/><stop offset="0.1334" stop-color="#fe9400"/><stop offset="0.1399" stop-color="#f1e700"/><stop offset="0.1415" stop-color="#e0ee02"/><stop offset="0.1479" stop-color="#57e113"/><stop offset="0.1511" stop-color="#27db20"/><stop offset="0.1527" stop-color="#1bd05f"/><stop offset="0.1576" stop-color="#03bcdb"/><stop offset="0.1592" stop-color="#04a3ec"/><stop offset="0.1640" stop-color="#1a35ef"/><stop offset="0.1656" stop-color="#201df0"/><stop offset="0.1736" stop-color="#3512ed"/><stop offset="0.1752" stop-color="#410cec" stop-opacity="0.95"/><stop offset="0.1817" stop-color="#8001d6" stop-opacity="0.13"/><stop offset="0.1833" stop-color="#8a00d2" stop-opacity="0.00"/><stop offset="0.2347" stop-color="#8a00d2" stop-opacity="0.00"/><stop offset="0.2363" stop-color="#7803d9" stop-opacity="0.23"/><stop offset="0.2379" stop-color="#4c09e9" stop-opacity="0.80"/><stop offset="0.2395" stop-color="#261aef"/><stop offset="0.2412" stop-color="#154dee"/><stop offset="0.2428" stop-color="#04a3ec"/><stop offset="0.2444" stop-color="#0dc5a5"/><stop offset="0.2460" stop-color="#1fd448"/><stop offset="0.2476" stop-color="#47df15"/><stop offset="0.2508" stop-color="#c1eb06"/><stop offset="0.2524" stop-color="#f4d200"/><stop offset="0.2540" stop-color="#ff8700"/><stop offset="0.2556" stop-color="#ff2b00"/><stop offset="0.2572" stop-color="#fb1700"/><stop offset="0.2653" stop-color="#d20000"/><stop offset="0.2669" stop-color="#c00000"/><stop offset="0.2781" stop-color="#ed0e00"/><stop offset="0.2830" stop-color="#fd1800"/><stop offset="0.2846" stop-color="#ff2600"/><stop offset="0.2910" stop-color="#fca100"/><stop offset="0.2990" stop-color="#f1ec00"/><stop offset="0.3023" stop-color="#c2eb06"/><stop offset="0.3087" stop-color="#58e113"/><stop offset="0.3119" stop-color="#31dd18"/><stop offset="0.3135" stop-color="#23d833"/><stop offset="0.3167" stop-color="#12c98a"/><stop offset="0.3199" stop-color="#04bdd4"/><stop offset="0.3215" stop-color="#02aceb"/><stop offset="0.3280" stop-color="#1d25f0"/><stop offset="0.3376" stop-color="#3a10ed"/><stop offset="0.3392" stop-color="#470aeb" stop-opacity="0.86"/><stop offset="0.3457" stop-color="#8700d3" stop-opacity="0.04"/><stop offset="0.3489" stop-color="#8a00d2" stop-opacity="0.00"/><stop offset="0.3891" stop-color="#8a00d2" stop-opacity="0.00"/><stop offset="0.3907" stop-color="#7803d9" stop-opacity="0.23"/><stop offset="0.3923" stop-color="#4c09e9" stop-opacity="0.80"/><stop offset="0.3939" stop-color="#261aef"/><stop offset="0.3955" stop-color="#183fef"/><stop offset="0.3971" stop-color="#0a87ed"/><stop offset="0.3987" stop-color="#04bdd4"/><stop offset="0.4019" stop-color="#22d738"/><stop offset="0.4035" stop-color="#47df15"/><stop offset="0.4084" stop-color="#dfee02"/><stop offset="0.4100" stop-color="#f8b900"/><stop offset="0.4132" stop-color="#ff2b00"/><stop offset="0.4148" stop-color="#fa1600"/><stop offset="0.4212" stop-color="#d80100"/><stop offset="0.4228" stop-color="#c40000"/><stop offset="0.4244" stop-color="#c20000"/><stop offset="0.4293" stop-color="#df0500"/><stop offset="0.4373" stop-color="#fc1700"/><stop offset="0.4389" stop-color="#ff2500"/><stop offset="0.4453" stop-color="#fd9800"/><stop offset="0.4550" stop-color="#f1ec00"/><stop offset="0.4614" stop-color="#94e70c"/><stop offset="0.4662" stop-color="#50e014"/><stop offset="0.4695" stop-color="#2ddd18"/><stop offset="0.4711" stop-color="#22d737"/><stop offset="0.4759" stop-color="#07bfc4"/><stop offset="0.4775" stop-color="#02afeb"/><stop offset="0.4823" stop-color="#1c28f0"/><stop offset="0.4855" stop-color="#261aef"/><stop offset="0.4920" stop-color="#3a10ed"/><stop offset="0.4936" stop-color="#470aeb" stop-opacity="0.86"/><stop offset="0.5000" stop-color="#8701d3" stop-opacity="0.04"/><stop offset="0.5032" stop-color="#8a00d2" stop-opacity="0.00"/><stop offset="0.5611" stop-color="#8a00d2" stop-opacity="0.00"/><stop offset="0.5643" stop-color="#3911ed"/><stop offset="0.5659" stop-color="#1744ef"/><stop offset="0.5675" stop-color="#08c0c0"/><stop offset="0.5691" stop-color="#2adc19"/><stop offset="0.5707" stop-color="#99e70b"/><stop offset="0.5723" stop-color="#f6c500"/><stop offset="0.5740" stop-color="#ff2b00"/><stop offset="0.5756" stop-color="#fe1800"/><stop offset="0.5884" stop-color="#d30000"/><stop offset="0.5916" stop-color="#bb0000"/><stop offset="0.6013" stop-color="#df0500"/><stop offset="0.6158" stop-color="#fe1800"/><stop offset="0.6174" stop-color="#ff2300"/><stop offset="0.6190" stop-color="#ff4700"/><stop offset="0.6206" stop-color="#ff8000"/><stop offset="0.6222" stop-color="#fbaa00"/><stop offset="0.6254" stop-color="#f3dd00"/><stop offset="0.6270" stop-color="#e6ef01"/><stop offset="0.6318" stop-color="#5ae113"/><stop offset="0.6334" stop-color="#38de17"/><stop offset="0.6350" stop-color="#20d544"/><stop offset="0.6367" stop-color="#13ca86"/><stop offset="0.6399" stop-color="#01b9e8"/><stop offset="0.6447" stop-color="#1a34ef"/><stop offset="0.6463" stop-color="#201df0"/><stop offset="0.6543" stop-color="#3612ed"/><stop offset="0.6559" stop-color="#430beb" stop-opacity="0.92"/><stop offset="0.6624" stop-color="#8201d5" stop-opacity="0.10"/><stop offset="0.6640" stop-color="#8a00d2" stop-opacity="0.00"/><stop offset="0.7074" stop-color="#8a00d2" stop-opacity="0.00"/><stop offset="0.7090" stop-color="#7803d9" stop-opacity="0.23"/><stop offset="0.7106" stop-color="#4c09e9" stop-opacity="0.80"/><stop offset="0.7122" stop-color="#261aef"/><stop offset="0.7138" stop-color="#0797ec"/><stop offset="0.7154" stop-color="#1ad063"/><stop offset="0.7170" stop-color="#69e211"/><stop offset="0.7186" stop-color="#daee03"/><stop offset="0.7203" stop-color="#ff6f00"/><stop offset="0.7219" stop-color="#ff1d00"/><stop offset="0.7347" stop-color="#d30000"/><stop offset="0.7379" stop-color="#bb0000"/><stop offset="0.7460" stop-color="#dd0400"/><stop offset="0.7621" stop-color="#ff2000"/><stop offset="0.7637" stop-color="#ff3e00"/><stop offset="0.7669" stop-color="#fba500"/><stop offset="0.7717" stop-color="#eef000"/><stop offset="0.7765" stop-color="#5fe212"/><stop offset="0.7781" stop-color="#3ede16"/><stop offset="0.7797" stop-color="#23d736"/><stop offset="0.7814" stop-color="#16cc7a"/><stop offset="0.7862" stop-color="#01bae8"/><stop offset="0.7926" stop-color="#1a34ef"/><stop offset="0.7942" stop-color="#1f1df0"/><stop offset="0.8023" stop-color="#3512ed"/><stop offset="0.8039" stop-color="#410cec" stop-opacity="0.95"/><stop offset="0.8103" stop-color="#8002d6" stop-opacity="0.13"/><stop offset="0.8119" stop-color="#8a00d2" stop-opacity="0.00"/><stop offset="0.8698" stop-color="#8a00d2" stop-opacity="0.00"/><stop offset="0.8714" stop-color="#7803d9" stop-opacity="0.23"/><stop offset="0.8730" stop-color="#4c09e9" stop-opacity="0.80"/><stop offset="0.8746" stop-color="#261aef"/><stop offset="0.8762" stop-color="#0e72ed"/><stop offset="0.8778" stop-color="#0bc2b2"/><stop offset="0.8794" stop-color="#24d92d"/><stop offset="0.8810" stop-color="#72e310"/><stop offset="0.8826" stop-color="#caec05"/><stop offset="0.8842" stop-color="#fba800"/><stop offset="0.8859" stop-color="#ff2b00"/><stop offset="0.8875" stop-color="#fd1800"/><stop offset="0.8987" stop-color="#d40000"/><stop offset="0.9019" stop-color="#bc0000"/><stop offset="0.9084" stop-color="#db0200"/><stop offset="0.9244" stop-color="#ff2000"/><stop offset="0.9260" stop-color="#ff3b00"/><stop offset="0.9293" stop-color="#fd9700"/><stop offset="0.9357" stop-color="#edf000"/><stop offset="0.9421" stop-color="#52e014"/><stop offset="0.9437" stop-color="#35dd17"/><stop offset="0.9453" stop-color="#21d63e"/><stop offset="0.9469" stop-color="#15cc7b"/><stop offset="0.9502" stop-color="#05becf"/><stop offset="0.9518" stop-color="#03aceb"/><stop offset="0.9566" stop-color="#1938ef"/><stop offset="0.9582" stop-color="#1f1df0"/><stop offset="0.9662" stop-color="#3512ed"/><stop offset="0.9678" stop-color="#410cec" stop-opacity="0.95"/><stop offset="0.9743" stop-color="#8002d6" stop-opacity="0.13"/><stop offset="0.9759" stop-color="#8a00d2" stop-opacity="0.00"/><stop offset="1.0000" stop-color="#8a00d2" stop-opacity="0.00"/></linearGradient>
<rect x="27" y="111.88" width="311" height="6.83" fill="url(#sg2_3)"/>
<linearGradient id="sg2_4" gradientUnits="userSpaceOnUse" x1="27" x2="338" y1="0" y2="0"><stop offset="0.0000" stop-color="#8a00d2" stop-opacity="0.00"/><stop offset="0.0788" stop-color="#8a00d2" stop-opacity="0.00"/><stop offset="0.0804" stop-color="#6f04dc" stop-opacity="0.34"/><stop offset="0.0820" stop-color="#430beb" stop-opacity="0.92"/><stop offset="0.0836" stop-color="#1e1ef0"/><stop offset="0.0852" stop-color="#06bfca"/><stop offset="0.0868" stop-color="#39de17"/><stop offset="0.0884" stop-color="#beeb06"/><stop offset="0.0900" stop-color="#ff7b00"/><stop offset="0.0916" stop-color="#ff1b00"/><stop offset="0.1029" stop-color="#d70000"/><stop offset="0.1061" stop-color="#bd0000"/><stop offset="0.1158" stop-color="#e10700"/><stop offset="0.1286" stop-color="#ff1e00"/><stop offset="0.1302" stop-color="#ff3400"/><stop offset="0.1334" stop-color="#ff8800"/><stop offset="0.1367" stop-color="#f8ba00"/><stop offset="0.1415" stop-color="#ecf000"/><stop offset="0.1479" stop-color="#5fe212"/><stop offset="0.1511" stop-color="#2edd18"/><stop offset="0.1543" stop-color="#15cb7e"/><stop offset="0.1576" stop-color="#06bece"/><stop offset="0.1592" stop-color="#02b0eb"/><stop offset="0.1656" stop-color="#1e1ef0"/><stop offset="0.1752" stop-color="#3d0fec"/><stop offset="0.1833" stop-color="#8a00d2" stop-opacity="0.00"/><stop offset="0.2347" stop-color="#8a00d2" stop-opacity="0.00"/><stop offset="0.2363" stop-color="#7803d9" stop-opacity="0.23"/><stop offset="0.2379" stop-color="#4c09e9" stop-opacity="0.80"/><stop offset="0.2395" stop-color="#261aef"/><stop offset="0.2412" stop-color="#154dee"/><stop offset="0.2428" stop-color="#04a3ec"/><stop offset="0.2444" stop-color="#0dc5a5"/><stop offset="0.2460" stop-color="#1fd448"/><stop offset="0.2476" stop-color="#47df15"/><stop offset="0.2508" stop-color="#c1eb06"/><stop offset="0.2524" stop-color="#f4d200"/><stop offset="0.2540" stop-color="#ff8700"/><stop offset="0.2556" stop-color="#ff2b00"/><stop offset="0.2572" stop-color="#fc1700"/><stop offset="0.2653" stop-color="#d90100"/><stop offset="0.2685" stop-color="#bb0000"/><stop offset="0.2749" stop-color="#de0500"/><stop offset="0.2862" stop-color="#ff1a00"/><stop offset="0.2894" stop-color="#ff5200"/><stop offset="0.2926" stop-color="#fe9200"/><stop offset="0.3006" stop-color="#f2e400"/><stop offset="0.3023" stop-color="#eff000"/><stop offset="0.3103" stop-color="#64e212"/><stop offset="0.3151" stop-color="#29dc19"/><stop offset="0.3199" stop-color="#10c799"/><stop offset="0.3232" stop-color="#02bae3"/><stop offset="0.3280" stop-color="#125bee"/><stop offset="0.3312" stop-color="#1f1ef0"/><stop offset="0.3408" stop-color="#3f0dec" stop-opacity="0.98"/><stop offset="0.3473" stop-color="#7d02d7" stop-opacity="0.16"/><stop offset="0.3489" stop-color="#8a00d2" stop-opacity="0.00"/><stop offset="0.3891" stop-color="#8a00d2" stop-opacity="0.00"/><stop offset="0.3907" stop-color="#7803d9" stop-opacity="0.23"/><stop offset="0.3923" stop-color="#4c09e9" stop-opacity="0.80"/><stop offset="0.3939" stop-color="#261aef"/><stop offset="0.3955" stop-color="#183fef"/><stop offset="0.3971" stop-color="#0a87ed"/><stop offset="0.3987" stop-color="#04bdd4"/><stop offset="0.4019" stop-color="#22d738"/><stop offset="0.4035" stop-color="#47df15"/><stop offset="0.4084" stop-color="#dfee02"/><stop offset="0.4100" stop-color="#f8b900"/><stop offset="0.4132" stop-color="#ff2b00"/><stop offset="0.4148" stop-color="#fb1700"/><stop offset="0.4228" stop-color="#cf0000"/><stop offset="0.4244" stop-color="#bd0000"/><stop offset="0.4325" stop-color="#e50900"/><stop offset="0.4405" stop-color="#ff1900"/><stop offset="0.4486" stop-color="#fca200"/><stop offset="0.4582" stop-color="#edf000"/><stop offset="0.4678" stop-color="#5ae113"/><stop offset="0.4727" stop-color="#27db1e"/><stop offset="0.4791" stop-color="#03bcda"/><stop offset="0.4807" stop-color="#069cec"/><stop offset="0.4839" stop-color="#1741ef"/><stop offset="0.4855" stop-color="#1f1ef0"/><stop offset="0.4952" stop-color="#3f0dec" stop-opacity="0.98"/><stop offset="0.5016" stop-color="#7e02d7" stop-opacity="0.16"/><stop offset="0.5032" stop-color="#8a00d2" stop-opacity="0.00"/><stop offset="0.5595" stop-color="#8a00d2" stop-opacity="0.00"/><stop offset="0.5627" stop-color="#3811ed"/><stop offset="0.5643" stop-color="#183bef"/><stop offset="0.5659" stop-color="#01bae4"/><stop offset="0.5675" stop-color="#1dd255"/><stop offset="0.5691" stop-color="#5fe112"/><stop offset="0.5707" stop-color="#bceb06"/><stop offset="0.5723" stop-color="#fab000"/><stop offset="0.5740" stop-color="#ff2b00"/><stop offset="0.5756" stop-color="#fe1800"/><stop offset="0.5900" stop-color="#cb0000"/><stop offset="0.5932" stop-color="#bf0000"/><stop offset="0.6013" stop-color="#dd0400"/><stop offset="0.6174" stop-color="#fe1800"/><stop offset="0.6190" stop-color="#ff2300"/><stop offset="0.6206" stop-color="#ff4600"/><stop offset="0.6222" stop-color="#ff7e00"/><stop offset="0.6238" stop-color="#fba900"/><stop offset="0.6286" stop-color="#e7ef01"/><stop offset="0.6334" stop-color="#5ae113"/><stop offset="0.6350" stop-color="#39de17"/><stop offset="0.6367" stop-color="#20d542"/><stop offset="0.6383" stop-color="#13ca85"/><stop offset="0.6415" stop-color="#01bae7"/><stop offset="0.6463" stop-color="#1a35ef"/><stop offset="0.6479" stop-color="#201df0"/><stop offset="0.6559" stop-color="#3612ed"/><stop offset="0.6576" stop-color="#430ceb" stop-opacity="0.92"/><stop offset="0.6640" stop-color="#8201d5" stop-opacity="0.10"/><stop offset="0.6656" stop-color="#8a00d2" stop-opacity="0.00"/><stop offset="0.7074" stop-color="#8a00d2" stop-opacity="0.00"/><stop offset="0.7090" stop-color="#7803d9" stop-opacity="0.23"/><stop offset="0.7106" stop-color="#4c09e9" stop-opacity="0.80"/><stop offset="0.7122" stop-color="#261aef"/><stop offset="0.7138" stop-color="#0797ec"/><stop offset="0.7154" stop-color="#1ad063"/><stop offset="0.7170" stop-color="#69e211"/><stop offset="0.7186" stop-color="#daee03"/><stop offset="0.7203" stop-color="#ff6f00"/><stop offset="0.7219" stop-color="#ff1d00"/><stop offset="0.7347" stop-color="#d50000"/><stop offset="0.7379" stop-color="#bd0000"/><stop offset="0.7492" stop-color="#e30700"/><stop offset="0.7621" stop-color="#fe1900"/><stop offset="0.7637" stop-color="#ff2500"/><stop offset="0.7653" stop-color="#ff5000"/><stop offset="0.7669" stop-color="#ff8800"/><stop offset="0.7701" stop-color="#f6c700"/><stop offset="0.7717" stop-color="#f2e100"/><stop offset="0.7733" stop-color="#dfee02"/><stop offset="0.7781" stop-color="#55e013"/><stop offset="0.7797" stop-color="#33dd18"/><stop offset="0.7830" stop-color="#13ca85"/><stop offset="0.7878" stop-color="#02b1eb"/><stop offset="0.7942" stop-color="#1c2af0"/><stop offset="0.7974" stop-color="#251aef"/><stop offset="0.8039" stop-color="#3811ed"/><stop offset="0.8055" stop-color="#450aeb" stop-opacity="0.89"/><stop offset="0.8119" stop-color="#8501d4" stop-opacity="0.07"/><stop offset="0.8135" stop-color="#8a00d2" stop-opacity="0.00"/><stop offset="0.8698" stop-color="#8a00d2" stop-opacity="0.00"/><stop offset="0.8714" stop-color="#7803d9" stop-opacity="0.23"/><stop offset="0.8730" stop-color="#4c09e9" stop-opacity="0.80"/><stop offset="0.8746" stop-color="#261aef"/><stop offset="0.8762" stop-color="#0e72ed"/><stop offset="0.8778" stop-color="#0bc2b2"/><stop offset="0.8794" stop-color="#24d92d"/><stop offset="0.8810" stop-color="#72e310"/><stop offset="0.8826" stop-color="#caec05"/><stop offset="0.8842" stop-color="#fba800"/><stop offset="0.8859" stop-color="#ff2b00"/><stop offset="0.8875" stop-color="#fd1800"/><stop offset="0.8987" stop-color="#d70000"/><stop offset="0.9019" stop-color="#bc0000"/><stop offset="0.9116" stop-color="#e10600"/><stop offset="0.9244" stop-color="#fe1800"/><stop offset="0.9260" stop-color="#ff2500"/><stop offset="0.9309" stop-color="#fca300"/><stop offset="0.9357" stop-color="#f2e500"/><stop offset="0.9373" stop-color="#e0ee02"/><stop offset="0.9421" stop-color="#66e211"/><stop offset="0.9453" stop-color="#2cdc18"/><stop offset="0.9486" stop-color="#13c989"/><stop offset="0.9518" stop-color="#03bbdd"/><stop offset="0.9534" stop-color="#059fec"/><stop offset="0.9582" stop-color="#1b2bf0"/><stop offset="0.9598" stop-color="#211df0"/><stop offset="0.9678" stop-color="#3811ed"/><stop offset="0.9695" stop-color="#450aeb" stop-opacity="0.89"/><stop offset="0.9759" stop-color="#8501d4" stop-opacity="0.07"/><stop offset="0.9775" stop-color="#8a00d2" stop-opacity="0.00"/><stop offset="1.0000" stop-color="#8a00d2" stop-opacity="0.00"/></linearGradient>
<rect x="27" y="117.50" width="311" height="6.83" fill="url(#sg2_4)"/>
<linearGradient id="sg2_5" gradientUnits="userSpaceOnUse" x1="27" x2="338" y1="0" y2="0"><stop offset="0.0000" stop-color="#8a00d2" stop-opacity="0.00"/><stop offset="0.0788" stop-color="#8a00d2" stop-opacity="0.00"/><stop offset="0.0804" stop-color="#6f04dc" stop-opacity="0.34"/><stop offset="0.0820" stop-color="#430beb" stop-opacity="0.92"/><stop offset="0.0836" stop-color="#1e1ef0"/><stop offset="0.0852" stop-color="#06bfca"/><stop offset="0.0868" stop-color="#39de17"/><stop offset="0.0884" stop-color="#beeb06"/><stop offset="0.0900" stop-color="#ff7b00"/><stop offset="0.0916" stop-color="#ff1c00"/><stop offset="0.1045" stop-color="#cc0000"/><stop offset="0.1061" stop-color="#be0000"/><stop offset="0.1190" stop-color="#e80b00"/><stop offset="0.1286" stop-color="#ff1900"/><stop offset="0.1302" stop-color="#ff2900"/><stop offset="0.1350" stop-color="#fc9f00"/><stop offset="0.1415" stop-color="#f1ec00"/><stop offset="0.1495" stop-color="#4fe014"/><stop offset="0.1511" stop-color="#36dd17"/><stop offset="0.1527" stop-color="#23d734"/><stop offset="0.1543" stop-color="#17cd71"/><stop offset="0.1592" stop-color="#01bae8"/><stop offset="0.1656" stop-color="#1c29f0"/><stop offset="0.1688" stop-color="#251aef"/><stop offset="0.1752" stop-color="#3811ed"/><stop offset="0.1768" stop-color="#460aeb" stop-opacity="0.88"/><stop offset="0.1833" stop-color="#8501d4" stop-opacity="0.06"/><stop offset="0.1849" stop-color="#8a00d2" stop-opacity="0.00"/><stop offset="0.2347" stop-color="#8a00d2" stop-opacity="0.00"/><stop offset="0.2363" stop-color="#7803d9" stop-opacity="0.23"/><stop offset="0.2379" stop-color="#4c09e9" stop-opacity="0.80"/><stop offset="0.2395" stop-color="#261aef"/><stop offset="0.2412" stop-color="#154dee"/><stop offset="0.2428" stop-color="#04a3ec"/><stop offset="0.2444" stop-color="#0dc5a5"/><stop offset="0.2460" stop-color="#1fd448"/><stop offset="0.2476" stop-color="#47df15"/><stop offset="0.2508" stop-color="#c1eb06"/><stop offset="0.2524" stop-color="#f4d200"/><stop offset="0.2540" stop-color="#ff8700"/><stop offset="0.2556" stop-color="#ff2b00"/><stop offset="0.2572" stop-color="#fc1700"/><stop offset="0.2669" stop-color="#d30000"/><stop offset="0.2701" stop-color="#bf0000"/><stop offset="0.2765" stop-color="#de0500"/><stop offset="0.2878" stop-color="#fd1800"/><stop offset="0.2894" stop-color="#ff2300"/><stop offset="0.2958" stop-color="#fd9c00"/><stop offset="0.3039" stop-color="#f1e900"/><stop offset="0.3055" stop-color="#e4ef02"/><stop offset="0.3135" stop-color="#5ce113"/><stop offset="0.3167" stop-color="#35dd17"/><stop offset="0.3183" stop-color="#25d929"/><stop offset="0.3215" stop-color="#14ca83"/><stop offset="0.3264" stop-color="#01b3eb"/><stop offset="0.3328" stop-color="#1b2cf0"/><stop offset="0.3344" stop-color="#211df0"/><stop offset="0.3424" stop-color="#3711ed"/><stop offset="0.3441" stop-color="#440beb" stop-opacity="0.90"/><stop offset="0.3505" stop-color="#8401d4" stop-opacity="0.08"/><stop offset="0.3521" stop-color="#8a00d2" stop-opacity="0.00"/><stop offset="0.3891" stop-color="#8a00d2" stop-opacity="0.00"/><stop offset="0.3907" stop-color="#7803d9" stop-opacity="0.23"/><stop offset="0.3923" stop-color="#4c09e9" stop-opacity="0.80"/><stop offset="0.3939" stop-color="#261aef"/><stop offset="0.3955" stop-color="#183fef"/><stop offset="0.3971" stop-color="#0a87ed"/><stop offset="0.3987" stop-color="#04bdd4"/><stop offset="0.4019" stop-color="#22d738"/><stop offset="0.4035" stop-color="#47df15"/><stop offset="0.4084" stop-color="#dfee02"/><stop offset="0.4100" stop-color="#f8b900"/><stop offset="0.4132" stop-color="#ff2b00"/><stop offset="0.4148" stop-color="#fc1700"/><stop offset="0.4228" stop-color="#d80000"/><stop offset="0.4260" stop-color="#bd0000"/><stop offset="0.4325" stop-color="#e00500"/><stop offset="0.4421" stop-color="#fc1700"/><stop offset="0.4437" stop-color="#ff2300"/><stop offset="0.4502" stop-color="#fe9400"/><stop offset="0.4598" stop-color="#f1eb00"/><stop offset="0.4630" stop-color="#c9ec05"/><stop offset="0.4711" stop-color="#53e014"/><stop offset="0.4743" stop-color="#30dd18"/><stop offset="0.4759" stop-color="#23d831"/><stop offset="0.4823" stop-color="#01b6eb"/><stop offset="0.4871" stop-color="#1b2eef"/><stop offset="0.4887" stop-color="#211df0"/><stop offset="0.4968" stop-color="#3811ed"/><stop offset="0.4984" stop-color="#450aeb" stop-opacity="0.89"/><stop offset="0.5048" stop-color="#8401d4" stop-opacity="0.07"/><stop offset="0.5064" stop-color="#8a00d2" stop-opacity="0.00"/><stop offset="0.5579" stop-color="#8a00d2" stop-opacity="0.00"/><stop offset="0.5595" stop-color="#6006e1" stop-opacity="0.54"/><stop offset="0.5611" stop-color="#3711ed"/><stop offset="0.5627" stop-color="#1a34ef"/><stop offset="0.5643" stop-color="#04a7ec"/><stop offset="0.5659" stop-color="#14ca83"/><stop offset="0.5675" stop-color="#34dd18"/><stop offset="0.5707" stop-color="#d6ed03"/><stop offset="0.5723" stop-color="#fca000"/><stop offset="0.5740" stop-color="#ff2b00"/><stop offset="0.5756" stop-color="#fe1900"/><stop offset="0.5900" stop-color="#cf0000"/><stop offset="0.5932" stop-color="#bc0000"/><stop offset="0.6029" stop-color="#df0500"/><stop offset="0.6190" stop-color="#fe1800"/><stop offset="0.6206" stop-color="#ff2300"/><stop offset="0.6222" stop-color="#ff4500"/><stop offset="0.6238" stop-color="#ff7d00"/><stop offset="0.6254" stop-color="#fba800"/><stop offset="0.6302" stop-color="#e8ef01"/><stop offset="0.6350" stop-color="#5be113"/><stop offset="0.6367" stop-color="#3ade17"/><stop offset="0.6383" stop-color="#21d540"/><stop offset="0.6399" stop-color="#14ca84"/><stop offset="0.6431" stop-color="#01bae6"/><stop offset="0.6479" stop-color="#1936ef"/><stop offset="0.6495" stop-color="#201df0"/><stop offset="0.6576" stop-color="#3612ed"/><stop offset="0.6592" stop-color="#430ceb" stop-opacity="0.93"/><stop offset="0.6656" stop-color="#8201d5" stop-opacity="0.11"/><stop offset="0.6672" stop-color="#8a00d2" stop-opacity="0.00"/><stop offset="0.7074" stop-color="#8a00d2" stop-opacity="0.00"/><stop offset="0.7090" stop-color="#7803d9" stop-opacity="0.23"/><stop offset="0.7106" stop-color="#4c09e9" stop-opacity="0.80"/><stop offset="0.7122" stop-color="#261aef"/><stop offset="0.7138" stop-color="#0797ec"/><stop offset="0.7154" stop-color="#1ad063"/><stop offset="0.7170" stop-color="#69e211"/><stop offset="0.7186" stop-color="#daee03"/><stop offset="0.7203" stop-color="#ff6f00"/><stop offset="0.7219" stop-color="#ff1d00"/><stop offset="0.7363" stop-color="#cc0000"/><stop offset="0.7395" stop-color="#bf0000"/><stop offset="0.7476" stop-color="#de0400"/><stop offset="0.7637" stop-color="#ff1b00"/><stop offset="0.7653" stop-color="#ff2a00"/><stop offset="0.7685" stop-color="#fd9700"/><stop offset="0.7733" stop-color="#f1e900"/><stop offset="0.7749" stop-color="#cfed04"/><stop offset="0.7781" stop-color="#6fe310"/><stop offset="0.7814" stop-color="#29dc19"/><stop offset="0.7830" stop-color="#18ce6b"/><stop offset="0.7878" stop-color="#03bcda"/><stop offset="0.7894" stop-color="#04a6ec"/><stop offset="0.7958" stop-color="#1e1ff0"/><stop offset="0.8055" stop-color="#3c0fec"/><stop offset="0.8135" stop-color="#8a00d2" stop-opacity="0.00"/><stop offset="0.8698" stop-color="#8a00d2" stop-opacity="0.00"/><stop offset="0.8714" stop-color="#7803d9" stop-opacity="0.23"/><stop offset="0.8730" stop-color="#4c09e9" stop-opacity="0.80"/><stop offset="0.8746" stop-color="#261aef"/><stop offset="0.8762" stop-color="#0e72ed"/><stop offset="0.8778" stop-color="#0bc2b2"/><stop offset="0.8794" stop-color="#24d92d"/><stop offset="0.8810" stop-color="#72e310"/><stop offset="0.8826" stop-color="#caec05"/><stop offset="0.8842" stop-color="#fba800"/><stop offset="0.8859" stop-color="#ff2b00"/><stop offset="0.8875" stop-color="#fe1800"/><stop offset="0.9003" stop-color="#cd0000"/><stop offset="0.9019" stop-color="#c00000"/><stop offset="0.9068" stop-color="#d10000"/><stop offset="0.9260" stop-color="#ff1a00"/><stop offset="0.9277" stop-color="#ff2a00"/><stop offset="0.9309" stop-color="#ff8900"/><stop offset="0.9341" stop-color="#f7c000"/><stop offset="0.9373" stop-color="#f1eb00"/><stop offset="0.9405" stop-color="#aae909"/><stop offset="0.9437" stop-color="#5ce113"/><stop offset="0.9469" stop-color="#26da24"/><stop offset="0.9486" stop-color="#18ce6b"/><stop offset="0.9534" stop-color="#00b9ea"/><stop offset="0.9598" stop-color="#1e1ff0"/><stop offset="0.9695" stop-color="#3c0fec"/><stop offset="0.9775" stop-color="#8a00d2" stop-opacity="0.00"/><stop offset="1.0000" stop-color="#8a00d2" stop-opacity="0.00"/></linearGradient>
<rect x="27" y="123.12" width="311" height="6.83" fill="url(#sg2_5)"/>
<linearGradient id="sg2_6" gradientUnits="userSpaceOnUse" x1="27" x2="338" y1="0" y2="0"><stop offset="0.0000" stop-color="#8a00d2" stop-opacity="0.00"/><stop offset="0.0788" stop-color="#8a00d2" stop-opacity="0.00"/><stop offset="0.0804" stop-color="#6f04dc" stop-opacity="0.34"/><stop offset="0.0820" stop-color="#430beb" stop-opacity="0.92"/><stop offset="0.0836" stop-color="#1e1ef0"/><stop offset="0.0852" stop-color="#06bfca"/><stop offset="0.0868" stop-color="#39de17"/><stop offset="0.0884" stop-color="#beeb06"/><stop offset="0.0900" stop-color="#ff7b00"/><stop offset="0.0916" stop-color="#ff1c00"/><stop offset="0.1045" stop-color="#cd0000"/><stop offset="0.1061" stop-color="#c00000"/><stop offset="0.1093" stop-color="#c80000"/><stop offset="0.1190" stop-color="#e70a00"/><stop offset="0.1286" stop-color="#fe1800"/><stop offset="0.1302" stop-color="#ff2300"/><stop offset="0.1334" stop-color="#ff6b00"/><stop offset="0.1350" stop-color="#fe9400"/><stop offset="0.1415" stop-color="#f1e700"/><stop offset="0.1431" stop-color="#e1ef02"/><stop offset="0.1495" stop-color="#57e113"/><stop offset="0.1527" stop-color="#27db1f"/><stop offset="0.1543" stop-color="#1bd15d"/><stop offset="0.1592" stop-color="#03bcda"/><stop offset="0.1608" stop-color="#04a4ec"/><stop offset="0.1656" stop-color="#1936ef"/><stop offset="0.1672" stop-color="#201df0"/><stop offset="0.1752" stop-color="#3512ed"/><stop offset="0.1768" stop-color="#410cec" stop-opacity="0.95"/><stop offset="0.1833" stop-color="#8002d6" stop-opacity="0.13"/><stop offset="0.1849" stop-color="#8a00d2" stop-opacity="0.00"/><stop offset="0.2347" stop-color="#8a00d2" stop-opacity="0.00"/><stop offset="0.2363" stop-color="#7803d9" stop-opacity="0.23"/><stop offset="0.2379" stop-color="#4c09e9" stop-opacity="0.80"/><stop offset="0.2395" stop-color="#261aef"/><stop offset="0.2412" stop-color="#154dee"/><stop offset="0.2428" stop-color="#04a3ec"/><stop offset="0.2444" stop-color="#0dc5a5"/><stop offset="0.2460" stop-color="#1fd448"/><stop offset="0.2476" stop-color="#47df15"/><stop offset="0.2508" stop-color="#c1eb06"/><stop offset="0.2524" stop-color="#f4d200"/><stop offset="0.2540" stop-color="#ff8700"/><stop offset="0.2556" stop-color="#ff2b00"/><stop offset="0.2572" stop-color="#fd1800"/><stop offset="0.2685" stop-color="#cc0000"/><stop offset="0.2701" stop-color="#bd0000"/><stop offset="0.2797" stop-color="#e30700"/><stop offset="0.2910" stop-color="#ff1900"/><stop offset="0.2926" stop-color="#ff2b00"/><stop offset="0.2974" stop-color="#ff8c00"/><stop offset="0.3006" stop-color="#f9b300"/><stop offset="0.3071" stop-color="#f0ee00"/><stop offset="0.3167" stop-color="#54e014"/><stop offset="0.3199" stop-color="#2ddd18"/><stop offset="0.3215" stop-color="#21d63c"/><stop offset="0.3248" stop-color="#11c892"/><stop offset="0.3280" stop-color="#03bcdb"/><stop offset="0.3296" stop-color="#04a6ec"/><stop offset="0.3360" stop-color="#1e1ef0"/><stop offset="0.3457" stop-color="#3c0fec"/><stop offset="0.3537" stop-color="#8a00d2" stop-opacity="0.00"/><stop offset="0.3891" stop-color="#8a00d2" stop-opacity="0.00"/><stop offset="0.3907" stop-color="#7803d9" stop-opacity="0.23"/><stop offset="0.3923" stop-color="#4c09e9" stop-opacity="0.80"/><stop offset="0.3939" stop-color="#261aef"/><stop offset="0.3955" stop-color="#183fef"/><stop offset="0.3971" stop-color="#0a87ed"/><stop offset="0.3987" stop-color="#04bdd4"/><stop offset="0.4019" stop-color="#22d738"/><stop offset="0.4035" stop-color="#47df15"/><stop offset="0.4084" stop-color="#dfee02"/><stop offset="0.4100" stop-color="#f8b900"/><stop offset="0.4132" stop-color="#ff2b00"/><stop offset="0.4148" stop-color="#fc1700"/><stop offset="0.4244" stop-color="#d00000"/><stop offset="0.4260" stop-color="#c00000"/><stop offset="0.4293" stop-color="#cc0000"/><stop offset="0.4453" stop-color="#ff1900"/><stop offset="0.4486" stop-color="#ff4b00"/><stop offset="0.4534" stop-color="#fc9f00"/><stop offset="0.4630" stop-color="#f0f000"/><stop offset="0.4727" stop-color="#5de112"/><stop offset="0.4775" stop-color="#28dc19"/><stop offset="0.4839" stop-color="#05bdd3"/><stop offset="0.4855" stop-color="#04a2ec"/><stop offset="0.4904" stop-color="#1e1ef0"/><stop offset="0.5000" stop-color="#3e0eec"/><stop offset="0.5080" stop-color="#8a00d2" stop-opacity="0.00"/><stop offset="0.5563" stop-color="#8a00d2" stop-opacity="0.00"/><stop offset="0.5579" stop-color="#5f06e2" stop-opacity="0.55"/><stop offset="0.5595" stop-color="#3612ed"/><stop offset="0.5611" stop-color="#1b2fef"/><stop offset="0.5627" stop-color="#0794ec"/><stop offset="0.5643" stop-color="#0dc4a6"/><stop offset="0.5659" stop-color="#22d739"/><stop offset="0.5675" stop-color="#5ae113"/><stop offset="0.5707" stop-color="#f1eb00"/><stop offset="0.5723" stop-color="#fe9400"/><stop offset="0.5740" stop-color="#ff2b00"/><stop offset="0.5756" stop-color="#fe1900"/><stop offset="0.5900" stop-color="#d30000"/><stop offset="0.5932" stop-color="#bd0000"/><stop offset="0.6045" stop-color="#e00500"/><stop offset="0.6206" stop-color="#fe1900"/><stop offset="0.6222" stop-color="#ff2300"/><stop offset="0.6238" stop-color="#ff4400"/><stop offset="0.6254" stop-color="#ff7c00"/><stop offset="0.6270" stop-color="#fba800"/><stop offset="0.6318" stop-color="#e9ef01"/><stop offset="0.6367" stop-color="#5ce113"/><stop offset="0.6383" stop-color="#3bde17"/><stop offset="0.6399" stop-color="#21d63e"/><stop offset="0.6415" stop-color="#14ca83"/><stop offset="0.6447" stop-color="#01bae5"/><stop offset="0.6495" stop-color="#1937ef"/><stop offset="0.6511" stop-color="#201df0"/><stop offset="0.6592" stop-color="#3612ed"/><stop offset="0.6608" stop-color="#420ceb" stop-opacity="0.93"/><stop offset="0.6672" stop-color="#8101d5" stop-opacity="0.11"/><stop offset="0.6688" stop-color="#8a00d2" stop-opacity="0.00"/><stop offset="0.7074" stop-color="#8a00d2" stop-opacity="0.00"/><stop offset="0.7090" stop-color="#7803d9" stop-opacity="0.23"/><stop offset="0.7106" stop-color="#4c09e9" stop-opacity="0.80"/><stop offset="0.7122" stop-color="#261aef"/><stop offset="0.7138" stop-color="#0797ec"/><stop offset="0.7154" stop-color="#1ad063"/><stop offset="0.7170" stop-color="#69e211"/><stop offset="0.7186" stop-color="#daee03"/><stop offset="0.7203" stop-color="#ff6f00"/><stop offset="0.7219" stop-color="#ff1e00"/><stop offset="0.7363" stop-color="#cf0000"/><stop offset="0.7395" stop-color="#bd0000"/><stop offset="0.7492" stop-color="#e00500"/><stop offset="0.7653" stop-color="#ff2000"/><stop offset="0.7669" stop-color="#ff3b00"/><stop offset="0.7701" stop-color="#fba400"/><stop offset="0.7749" stop-color="#f0f000"/><stop offset="0.7797" stop-color="#61e212"/><stop offset="0.7814" stop-color="#3fde16"/><stop offset="0.7830" stop-color="#23d832"/><stop offset="0.7846" stop-color="#16cc78"/><stop offset="0.7894" stop-color="#01bae6"/><stop offset="0.7958" stop-color="#1936ef"/><stop offset="0.7974" stop-color="#1f1df0"/><stop offset="0.8055" stop-color="#3512ed"/><stop offset="0.8071" stop-color="#400dec" stop-opacity="0.96"/><stop offset="0.8135" stop-color="#7f02d6" stop-opacity="0.14"/><stop offset="0.8151" stop-color="#8a00d2" stop-opacity="0.00"/><stop offset="0.8698" stop-color="#8a00d2" stop-opacity="0.00"/><stop offset="0.8714" stop-color="#7803d9" stop-opacity="0.23"/><stop offset="0.8730" stop-color="#4c09e9" stop-opacity="0.80"/><stop offset="0.8746" stop-color="#261aef"/><stop offset="0.8762" stop-color="#0e72ed"/><stop offset="0.8778" stop-color="#0bc2b2"/><stop offset="0.8794" stop-color="#24d92d"/><stop offset="0.8810" stop-color="#72e310"/><stop offset="0.8826" stop-color="#caec05"/><stop offset="0.8842" stop-color="#fba800"/><stop offset="0.8859" stop-color="#ff2b00"/><stop offset="0.8875" stop-color="#fe1800"/><stop offset="0.9003" stop-color="#cf0000"/><stop offset="0.9035" stop-color="#bd0000"/><stop offset="0.9116" stop-color="#de0400"/><stop offset="0.9277" stop-color="#ff2000"/><stop offset="0.9293" stop-color="#ff3900"/><stop offset="0.9325" stop-color="#fe9600"/><stop offset="0.9389" stop-color="#eff000"/><stop offset="0.9453" stop-color="#53e014"/><stop offset="0.9469" stop-color="#37dd17"/><stop offset="0.9486" stop-color="#22d63b"/><stop offset="0.9502" stop-color="#16cc79"/><stop offset="0.9534" stop-color="#06becd"/><stop offset="0.9550" stop-color="#02aeeb"/><stop offset="0.9598" stop-color="#1939ef"/><stop offset="0.9614" stop-color="#1f1df0"/><stop offset="0.9695" stop-color="#3512ed"/><stop offset="0.9711" stop-color="#400dec" stop-opacity="0.96"/><stop offset="0.9775" stop-color="#7f02d6" stop-opacity="0.14"/><stop offset="0.9791" stop-color="#8a00d2" stop-opacity="0.00"/><stop offset="1.0000" stop-color="#8a00d2" stop-opacity="0.00"/></linearGradient>
<rect x="27" y="128.75" width="311" height="6.83" fill="url(#sg2_6)"/>
<linearGradient id="sg2_7" gradientUnits="userSpaceOnUse" x1="27" x2="338" y1="0" y2="0"><stop offset="0.0000" stop-color="#8a00d2" stop-opacity="0.00"/><stop offset="0.0788" stop-color="#8a00d2" stop-opacity="0.00"/><stop offset="0.0804" stop-color="#6f04dc" stop-opacity="0.34"/><stop offset="0.0820" stop-color="#430beb" stop-opacity="0.92"/><stop offset="0.0836" stop-color="#1e1ef0"/><stop offset="0.0852" stop-color="#06bfca"/><stop offset="0.0868" stop-color="#39de17"/><stop offset="0.0884" stop-color="#beeb06"/><stop offset="0.0900" stop-color="#ff7b00"/><stop offset="0.0916" stop-color="#ff1c00"/><stop offset="0.1045" stop-color="#cf0000"/><stop offset="0.1077" stop-color="#be0000"/><stop offset="0.1158" stop-color="#df0500"/><stop offset="0.1302" stop-color="#ff1e00"/><stop offset="0.1318" stop-color="#ff3300"/><stop offset="0.1350" stop-color="#ff8700"/><stop offset="0.1383" stop-color="#f8b900"/><stop offset="0.1431" stop-color="#edf000"/><stop offset="0.1495" stop-color="#60e212"/><stop offset="0.1527" stop-color="#2edd18"/><stop offset="0.1559" stop-color="#15cb7d"/><stop offset="0.1592" stop-color="#06becd"/><stop offset="0.1608" stop-color="#02b0eb"/><stop offset="0.1672" stop-color="#1e1ef0"/><stop offset="0.1768" stop-color="#3d0fec"/><stop offset="0.1849" stop-color="#8a00d2" stop-opacity="0.00"/><stop offset="0.2347" stop-color="#8a00d2" stop-opacity="0.00"/><stop offset="0.2363" stop-color="#7803d9" stop-opacity="0.23"/><stop offset="0.2379" stop-color="#4c09e9" stop-opacity="0.80"/><stop offset="0.2395" stop-color="#261aef"/><stop offset="0.2412" stop-color="#154dee"/><stop offset="0.2428" stop-color="#04a3ec"/><stop offset="0.2444" stop-color="#0dc5a5"/><stop offset="0.2460" stop-color="#1fd448"/><stop offset="0.2476" stop-color="#47df15"/><stop offset="0.2508" stop-color="#c1eb06"/><stop offset="0.2524" stop-color="#f4d200"/><stop offset="0.2540" stop-color="#ff8700"/><stop offset="0.2556" stop-color="#ff2b00"/><stop offset="0.2572" stop-color="#fd1800"/><stop offset="0.2685" stop-color="#d30000"/><stop offset="0.2717" stop-color="#bc0000"/><stop offset="0.2781" stop-color="#db0200"/><stop offset="0.2942" stop-color="#ff2000"/><stop offset="0.2974" stop-color="#ff5800"/><stop offset="0.3006" stop-color="#fd9700"/><stop offset="0.3103" stop-color="#e9ef01"/><stop offset="0.3183" stop-color="#60e212"/><stop offset="0.3232" stop-color="#27db1f"/><stop offset="0.3264" stop-color="#15cc7b"/><stop offset="0.3312" stop-color="#00b9ea"/><stop offset="0.3376" stop-color="#1a33ef"/><stop offset="0.3392" stop-color="#201df0"/><stop offset="0.3473" stop-color="#3612ed"/><stop offset="0.3489" stop-color="#420cec" stop-opacity="0.94"/><stop offset="0.3553" stop-color="#8001d6" stop-opacity="0.12"/><stop offset="0.3569" stop-color="#8a00d2" stop-opacity="0.00"/><stop offset="0.3891" stop-color="#8a00d2" stop-opacity="0.00"/><stop offset="0.3907" stop-color="#7803d9" stop-opacity="0.23"/><stop offset="0.3923" stop-color="#4c09e9" stop-opacity="0.80"/><stop offset="0.3939" stop-color="#261aef"/><stop offset="0.3955" stop-color="#183fef"/><stop offset="0.3971" stop-color="#0a87ed"/><stop offset="0.3987" stop-color="#04bdd4"/><stop offset="0.4019" stop-color="#22d738"/><stop offset="0.4035" stop-color="#47df15"/><stop offset="0.4084" stop-color="#dfee02"/><stop offset="0.4100" stop-color="#f8b900"/><stop offset="0.4132" stop-color="#ff2b00"/><stop offset="0.4148" stop-color="#fd1800"/><stop offset="0.4244" stop-color="#d70000"/><stop offset="0.4277" stop-color="#bb0000"/><stop offset="0.4341" stop-color="#dc0300"/><stop offset="0.4469" stop-color="#fd1800"/><stop offset="0.4486" stop-color="#ff2200"/><stop offset="0.4566" stop-color="#fba600"/><stop offset="0.4646" stop-color="#f1ea00"/><stop offset="0.4662" stop-color="#e6ef01"/><stop offset="0.4759" stop-color="#55e113"/><stop offset="0.4791" stop-color="#32dd18"/><stop offset="0.4807" stop-color="#24d92b"/><stop offset="0.4871" stop-color="#01b9e8"/><stop offset="0.4920" stop-color="#1a34ef"/><stop offset="0.4936" stop-color="#201df0"/><stop offset="0.5016" stop-color="#3612ed"/><stop offset="0.5032" stop-color="#430beb" stop-opacity="0.92"/><stop offset="0.5096" stop-color="#8201d5" stop-opacity="0.10"/><stop offset="0.5113" stop-color="#8a00d2" stop-opacity="0.00"/><stop offset="0.5547" stop-color="#8a00d2" stop-opacity="0.00"/><stop offset="0.5563" stop-color="#5e06e2" stop-opacity="0.56"/><stop offset="0.5579" stop-color="#3512ed"/><stop offset="0.5595" stop-color="#1b2bf0"/><stop offset="0.5611" stop-color="#0a85ed"/><stop offset="0.5627" stop-color="#08c0c2"/><stop offset="0.5643" stop-color="#1ad060"/><stop offset="0.5659" stop-color="#39de17"/><stop offset="0.5691" stop-color="#b9ea07"/><stop offset="0.5707" stop-color="#f4d900"/><stop offset="0.5723" stop-color="#ff8b00"/><stop offset="0.5740" stop-color="#ff2b00"/><stop offset="0.5756" stop-color="#ff1900"/><stop offset="0.5916" stop-color="#cc0000"/><stop offset="0.5949" stop-color="#bd0000"/><stop offset="0.6045" stop-color="#de0400"/><stop offset="0.6222" stop-color="#fe1900"/><stop offset="0.6238" stop-color="#ff2300"/><stop offset="0.6254" stop-color="#ff4200"/><stop offset="0.6286" stop-color="#fba700"/><stop offset="0.6334" stop-color="#eaef01"/><stop offset="0.6383" stop-color="#5de112"/><stop offset="0.6399" stop-color="#3bde17"/><stop offset="0.6415" stop-color="#21d63c"/><stop offset="0.6431" stop-color="#14cb82"/><stop offset="0.6463" stop-color="#01bae4"/><stop offset="0.6511" stop-color="#1938ef"/><stop offset="0.6527" stop-color="#201df0"/><stop offset="0.6608" stop-color="#3612ed"/><stop offset="0.6624" stop-color="#420ceb" stop-opacity="0.94"/><stop offset="0.6688" stop-color="#8101d5" stop-opacity="0.12"/><stop offset="0.6704" stop-color="#8a00d2" stop-opacity="0.00"/><stop offset="0.7074" stop-color="#8a00d2" stop-opacity="0.00"/><stop offset="0.7090" stop-color="#7803d9" stop-opacity="0.23"/><stop offset="0.7106" stop-color="#4c09e9" stop-opacity="0.80"/><stop offset="0.7122" stop-color="#261aef"/><stop offset="0.7138" stop-color="#0797ec"/><stop offset="0.7154" stop-color="#1ad063"/><stop offset="0.7170" stop-color="#69e211"/><stop offset="0.7186" stop-color="#daee03"/><stop offset="0.7203" stop-color="#ff6f00"/><stop offset="0.7219" stop-color="#ff1e00"/><stop offset="0.7363" stop-color="#d10000"/><stop offset="0.7395" stop-color="#bb0000"/><stop offset="0.7492" stop-color="#de0500"/><stop offset="0.7653" stop-color="#ff1900"/><stop offset="0.7669" stop-color="#ff2500"/><stop offset="0.7685" stop-color="#ff4d00"/><stop offset="0.7701" stop-color="#ff8600"/><stop offset="0.7717" stop-color="#faac00"/><stop offset="0.7749" stop-color="#f2e000"/><stop offset="0.7765" stop-color="#e1ee02"/><stop offset="0.7814" stop-color="#56e113"/><stop offset="0.7830" stop-color="#35dd17"/><stop offset="0.7846" stop-color="#1ed34d"/><stop offset="0.7862" stop-color="#14ca84"/><stop offset="0.7910" stop-color="#01b3eb"/><stop offset="0.7974" stop-color="#1b2bf0"/><stop offset="0.7990" stop-color="#211df0"/><stop offset="0.8071" stop-color="#3711ed"/><stop offset="0.8087" stop-color="#450beb" stop-opacity="0.90"/><stop offset="0.8151" stop-color="#8401d4" stop-opacity="0.08"/><stop offset="0.8167" stop-color="#8a00d2" stop-opacity="0.00"/><stop offset="0.8698" stop-color="#8a00d2" stop-opacity="0.00"/><stop offset="0.8714" stop-color="#7803d9" stop-opacity="0.23"/><stop offset="0.8730" stop-color="#4c09e9" stop-opacity="0.80"/><stop offset="0.8746" stop-color="#261aef"/><stop offset="0.8762" stop-color="#0e72ed"/><stop offset="0.8778" stop-color="#0bc2b2"/><stop offset="0.8794" stop-color="#24d92d"/><stop offset="0.8810" stop-color="#72e310"/><stop offset="0.8826" stop-color="#caec05"/><stop offset="0.8842" stop-color="#fba800"/><stop offset="0.8859" stop-color="#ff2b00"/><stop offset="0.8875" stop-color="#fe1800"/><stop offset="0.9003" stop-color="#d20000"/><stop offset="0.9035" stop-color="#bb0000"/><stop offset="0.9132" stop-color="#e00500"/><stop offset="0.9277" stop-color="#fe1900"/><stop offset="0.9293" stop-color="#ff2500"/><stop offset="0.9309" stop-color="#ff4800"/><stop offset="0.9341" stop-color="#fca200"/><stop offset="0.9389" stop-color="#f2e400"/><stop offset="0.9405" stop-color="#e2ef02"/><stop offset="0.9453" stop-color="#68e211"/><stop offset="0.9486" stop-color="#2edd18"/><stop offset="0.9518" stop-color="#13ca87"/><stop offset="0.9550" stop-color="#03bcdb"/><stop offset="0.9566" stop-color="#05a1ec"/><stop offset="0.9614" stop-color="#1b2df0"/><stop offset="0.9630" stop-color="#211df0"/><stop offset="0.9711" stop-color="#3711ed"/><stop offset="0.9727" stop-color="#450beb" stop-opacity="0.90"/><stop offset="0.9791" stop-color="#8401d4" stop-opacity="0.08"/><stop offset="0.9807" stop-color="#8a00d2" stop-opacity="0.00"/><stop offset="1.0000" stop-color="#8a00d2" stop-opacity="0.00"/></linearGradient>
<rect x="27" y="134.38" width="311" height="5.62" fill="url(#sg2_7)"/>
<ellipse cx="60.3" cy="125.4" rx="4.4" ry="11.9" fill="#980000" opacity="0.55"/>
<ellipse cx="110.5" cy="125.4" rx="3.4" ry="11.9" fill="#980000" opacity="0.55"/>
<ellipse cx="159.1" cy="125.4" rx="3.1" ry="11.9" fill="#980000" opacity="0.55"/>
<ellipse cx="211.4" cy="125.4" rx="5.0" ry="11.9" fill="#980000" opacity="0.55"/>
<ellipse cx="256.8" cy="125.4" rx="4.8" ry="11.9" fill="#980000" opacity="0.55"/>
<ellipse cx="307.8" cy="125.4" rx="4.5" ry="11.9" fill="#980000" opacity="0.55"/>
</g></g>
<rect x="205" y="101" width="0.9" height="33" fill="#fff" opacity="0.75"/>
<rect x="250" y="101" width="0.9" height="33" fill="#fff" opacity="0.75"/>
<rect x="302" y="101" width="0.9" height="33" fill="#fff" opacity="0.75"/>
<path d="M37.0,122.5L42.0,125.2L37.0,128.0Z" fill="#fff" stroke="#222" stroke-width="0.55"/>
<path d="M87.6,110.3L92.6,113.0L87.6,115.7Z" fill="#fff" stroke="#222" stroke-width="0.55"/>
<path d="M92.0,123.4L97.0,126.1L92.0,128.8Z" fill="#fff" stroke="#222" stroke-width="0.55"/>
<path d="M137.0,110.9L142.0,113.6L137.0,116.3Z" fill="#fff" stroke="#222" stroke-width="0.55"/>
<path d="M140.6,120.9L145.6,123.6L140.6,126.3Z" fill="#fff" stroke="#222" stroke-width="0.55"/>
<path d="M191.3,124.3L196.3,127.0L191.3,129.7Z" fill="#fff" stroke="#222" stroke-width="0.55"/>
<path d="M239.5,122.2L244.5,124.9L239.5,127.6Z" fill="#fff" stroke="#222" stroke-width="0.55"/>
<path d="M280.7,109.2L285.7,111.9L280.7,114.6Z" fill="#fff" stroke="#222" stroke-width="0.55"/>
<path d="M288.1,120.7L293.1,123.4L288.1,126.1Z" fill="#fff" stroke="#222" stroke-width="0.55"/>
<linearGradient id="cb" x1="0" y1="1" x2="0" y2="0"><stop offset="0" stop-color="#6e00dc"/><stop offset="0.05" stop-color="#460aeb"/><stop offset="0.1" stop-color="#1e1ef0"/><stop offset="0.15" stop-color="#1432f0"/><stop offset="0.18" stop-color="#00c8e6"/><stop offset="0.22" stop-color="#1edc1e"/><stop offset="0.28" stop-color="#50e600"/><stop offset="0.33" stop-color="#f0f000"/><stop offset="0.4" stop-color="#ffdc00"/><stop offset="0.48" stop-color="#ff8200"/><stop offset="0.58" stop-color="#ff1400"/><stop offset="0.84" stop-color="#c80000"/><stop offset="1.0" stop-color="#780000"/></linearGradient>
<rect x="352.2" y="101.9" width="9.8" height="33.5" fill="url(#cb)"/>
<text x="368.4" y="111.6" font-family="Liberation Serif" font-weight="bold" font-size="8">1.3</text>
<text x="381.3" y="126.3" font-family="Liberation Serif" font-weight="bold" font-size="8">F/F<tspan font-size="5.5" dy="1">0</tspan></text>
<text x="369.3" y="136.4" font-family="Liberation Serif" font-weight="bold" font-size="8">1</text>
<text x="42.5" y="156.4" font-family="Liberation Serif" font-weight="bold" font-size="13.6">NP-EGTA, 5 min</text>
<filter id="sf3" color-interpolation-filters="sRGB" filterUnits="userSpaceOnUse" x="27" y="156" width="311" height="44.5"><feTurbulence type="turbulence" baseFrequency="0.1 0.15" numOctaves="3" seed="9" result="n"/><feDisplacementMap in="SourceGraphic" in2="n" scale="3.5" xChannelSelector="R" yChannelSelector="A"/></filter>
<filter id="nf3" color-interpolation-filters="sRGB" filterUnits="userSpaceOnUse" x="33" y="162" width="299" height="32.5"><feTurbulence type="fractalNoise" baseFrequency="0.22 0.26" numOctaves="2" seed="16"/><feColorMatrix type="matrix" values="0 0 0 0 0.25  0 0 0 0 0.1  0 0 0 0 0.94  8.0 0 0 0 -4.48"/></filter>
<clipPath id="sc3"><rect x="33" y="162" width="299" height="32.5"/></clipPath>
<g clip-path="url(#sc3)">
<rect x="33" y="162" width="299" height="32.5" fill="#8a00d2"/>
<rect x="33" y="162" width="299" height="32.5" filter="url(#nf3)"/>
<ellipse cx="95.6" cy="187.7" rx="1.6" ry="1.3" fill="#20d0b0"/>
<ellipse cx="148.7" cy="187.4" rx="1.4" ry="2.2" fill="#40d040"/>
<ellipse cx="146" cy="178" rx="1.6" ry="1.3" fill="#3040f0"/>
<ellipse cx="232.5" cy="174.2" rx="1.5" ry="1.3" fill="#3040f0"/>
<ellipse cx="227" cy="176" rx="1.2" ry="1.2" fill="#3040f0"/>
<ellipse cx="253" cy="188.6" rx="1.6" ry="1.3" fill="#40d040"/>
<ellipse cx="328" cy="187.4" rx="1.8" ry="1.4" fill="#40d040"/>
<ellipse cx="331" cy="181.2" rx="1.3" ry="1.2" fill="#20c0d8"/>
<ellipse cx="52" cy="176" rx="1.3" ry="1.2" fill="#2060f0"/>
<ellipse cx="40" cy="180" rx="1.2" ry="1.2" fill="#20a0e8"/>
<ellipse cx="260" cy="177" rx="1.2" ry="1.2" fill="#2080f0"/>
<ellipse cx="240" cy="182" rx="1.5" ry="1.2" fill="#3040f0"/>
<g filter="url(#sf3)">
<linearGradient id="sg3_0" gradientUnits="userSpaceOnUse" x1="27" x2="338" y1="0" y2="0"><stop offset="0.0000" stop-color="#8a00d2" stop-opacity="0.00"/><stop offset="0.0804" stop-color="#8900d2" stop-opacity="0.01"/><stop offset="0.0820" stop-color="#5d07e3" stop-opacity="0.58"/><stop offset="0.0836" stop-color="#3413ed"/><stop offset="0.0852" stop-color="#1e1ef0"/><stop offset="0.0884" stop-color="#069dec"/><stop offset="0.0900" stop-color="#07bfc5"/><stop offset="0.0932" stop-color="#21d63c"/><stop offset="0.0949" stop-color="#3ede16"/><stop offset="0.0997" stop-color="#c5ec05"/><stop offset="0.1013" stop-color="#f2e100"/><stop offset="0.1045" stop-color="#ff6e00"/><stop offset="0.1061" stop-color="#ff2b00"/><stop offset="0.1077" stop-color="#fc1700"/><stop offset="0.1174" stop-color="#cd0000"/><stop offset="0.1190" stop-color="#bd0000"/><stop offset="0.1270" stop-color="#e10600"/><stop offset="0.1367" stop-color="#fd1800"/><stop offset="0.1383" stop-color="#ff2300"/><stop offset="0.1431" stop-color="#fca200"/><stop offset="0.1479" stop-color="#f2e400"/><stop offset="0.1495" stop-color="#e1ee02"/><stop offset="0.1543" stop-color="#67e211"/><stop offset="0.1576" stop-color="#2ddd18"/><stop offset="0.1624" stop-color="#06becd"/><stop offset="0.1640" stop-color="#059fec"/><stop offset="0.1672" stop-color="#1a32ef"/><stop offset="0.1688" stop-color="#211df0"/><stop offset="0.1768" stop-color="#3811ed"/><stop offset="0.1785" stop-color="#450beb" stop-opacity="0.89"/><stop offset="0.1849" stop-color="#8401d4" stop-opacity="0.08"/><stop offset="0.1865" stop-color="#8a00d2" stop-opacity="0.00"/><stop offset="0.2363" stop-color="#8a00d2" stop-opacity="0.00"/><stop offset="0.2379" stop-color="#7803d9" stop-opacity="0.23"/><stop offset="0.2395" stop-color="#4c09e9" stop-opacity="0.80"/><stop offset="0.2412" stop-color="#261aef"/><stop offset="0.2428" stop-color="#0a87ed"/><stop offset="0.2444" stop-color="#13ca86"/><stop offset="0.2460" stop-color="#47df15"/><stop offset="0.2476" stop-color="#ace908"/><stop offset="0.2492" stop-color="#f8b900"/><stop offset="0.2508" stop-color="#ff2b00"/><stop offset="0.2524" stop-color="#fd1800"/><stop offset="0.2621" stop-color="#d70000"/><stop offset="0.2653" stop-color="#bb0000"/><stop offset="0.2717" stop-color="#dc0300"/><stop offset="0.2846" stop-color="#fd1800"/><stop offset="0.2862" stop-color="#ff2300"/><stop offset="0.2878" stop-color="#ff4f00"/><stop offset="0.2894" stop-color="#ff8d00"/><stop offset="0.2942" stop-color="#f1eb00"/><stop offset="0.2974" stop-color="#92e70c"/><stop offset="0.2990" stop-color="#5fe112"/><stop offset="0.3006" stop-color="#3ade17"/><stop offset="0.3023" stop-color="#1fd448"/><stop offset="0.3039" stop-color="#14ca83"/><stop offset="0.3087" stop-color="#01b3eb"/><stop offset="0.3151" stop-color="#1b2cf0"/><stop offset="0.3167" stop-color="#211df0"/><stop offset="0.3248" stop-color="#3711ed"/><stop offset="0.3264" stop-color="#440beb" stop-opacity="0.90"/><stop offset="0.3328" stop-color="#8401d4" stop-opacity="0.08"/><stop offset="0.3344" stop-color="#8a00d2" stop-opacity="0.00"/><stop offset="0.4904" stop-color="#8a00d2" stop-opacity="0.00"/><stop offset="0.4920" stop-color="#7803d9" stop-opacity="0.23"/><stop offset="0.4936" stop-color="#4c09e9" stop-opacity="0.80"/><stop offset="0.4952" stop-color="#261aef"/><stop offset="0.4968" stop-color="#125eee"/><stop offset="0.4984" stop-color="#02bbdf"/><stop offset="0.5000" stop-color="#17ce70"/><stop offset="0.5016" stop-color="#38de17"/><stop offset="0.5048" stop-color="#caec05"/><stop offset="0.5064" stop-color="#f8b900"/><stop offset="0.5080" stop-color="#ff5700"/><stop offset="0.5096" stop-color="#ff1900"/><stop offset="0.5193" stop-color="#cd0000"/><stop offset="0.5209" stop-color="#bc0000"/><stop offset="0.5273" stop-color="#de0400"/><stop offset="0.5386" stop-color="#ff1e00"/><stop offset="0.5402" stop-color="#ff3f00"/><stop offset="0.5434" stop-color="#fd9b00"/><stop offset="0.5498" stop-color="#e9ef01"/><stop offset="0.5547" stop-color="#6fe310"/><stop offset="0.5579" stop-color="#33dd18"/><stop offset="0.5611" stop-color="#15cb7d"/><stop offset="0.5659" stop-color="#00b9eb"/><stop offset="0.5723" stop-color="#1a31ef"/><stop offset="0.5740" stop-color="#201df0"/><stop offset="0.5820" stop-color="#3612ed"/><stop offset="0.5836" stop-color="#420ceb" stop-opacity="0.93"/><stop offset="0.5900" stop-color="#8101d5" stop-opacity="0.12"/><stop offset="0.5916" stop-color="#8a00d2" stop-opacity="0.00"/><stop offset="0.8055" stop-color="#8a00d2" stop-opacity="0.00"/><stop offset="0.8071" stop-color="#7803d9" stop-opacity="0.23"/><stop offset="0.8087" stop-color="#4c09e9" stop-opacity="0.80"/><stop offset="0.8103" stop-color="#261aef"/><stop offset="0.8119" stop-color="#13ca86"/><stop offset="0.8135" stop-color="#ace908"/><stop offset="0.8151" stop-color="#ff2b00"/><stop offset="0.8167" stop-color="#fe1800"/><stop offset="0.8296" stop-color="#cf0000"/><stop offset="0.8328" stop-color="#be0000"/><stop offset="0.8408" stop-color="#de0400"/><stop offset="0.8553" stop-color="#fd1800"/><stop offset="0.8569" stop-color="#ff2200"/><stop offset="0.8585" stop-color="#ff4800"/><stop offset="0.8601" stop-color="#ff8d00"/><stop offset="0.8633" stop-color="#f4d500"/><stop offset="0.8650" stop-color="#eaef01"/><stop offset="0.8682" stop-color="#75e40f"/><stop offset="0.8698" stop-color="#47df15"/><stop offset="0.8714" stop-color="#23d833"/><stop offset="0.8730" stop-color="#15cb7f"/><stop offset="0.8762" stop-color="#05bdd3"/><stop offset="0.8778" stop-color="#03a8ec"/><stop offset="0.8826" stop-color="#1a34ef"/><stop offset="0.8842" stop-color="#201df0"/><stop offset="0.8923" stop-color="#3612ed"/><stop offset="0.8939" stop-color="#420ceb" stop-opacity="0.93"/><stop offset="0.9003" stop-color="#8101d5" stop-opacity="0.12"/><stop offset="0.9019" stop-color="#8a00d2" stop-opacity="0.00"/><stop offset="1.0000" stop-color="#8a00d2" stop-opacity="0.00"/></linearGradient>
<rect x="27" y="156.00" width="311" height="6.76" fill="url(#sg3_0)"/>
<linearGradient id="sg3_1" gradientUnits="userSpaceOnUse" x1="27" x2="338" y1="0" y2="0"><stop offset="0.0000" stop-color="#8a00d2" stop-opacity="0.00"/><stop offset="0.0756" stop-color="#8a00d2" stop-opacity="0.00"/><stop offset="0.0772" stop-color="#7803d9" stop-opacity="0.23"/><stop offset="0.0788" stop-color="#4b09e9" stop-opacity="0.81"/><stop offset="0.0804" stop-color="#261aef"/><stop offset="0.0820" stop-color="#1b2eef"/><stop offset="0.0852" stop-color="#0699ec"/><stop offset="0.0868" stop-color="#05bdd3"/><stop offset="0.0916" stop-color="#26da24"/><stop offset="0.0949" stop-color="#6de310"/><stop offset="0.0997" stop-color="#e0ee02"/><stop offset="0.1013" stop-color="#f6c900"/><stop offset="0.1045" stop-color="#ff6400"/><stop offset="0.1061" stop-color="#ff2b00"/><stop offset="0.1077" stop-color="#fd1800"/><stop offset="0.1174" stop-color="#d60000"/><stop offset="0.1206" stop-color="#bd0000"/><stop offset="0.1270" stop-color="#dd0400"/><stop offset="0.1399" stop-color="#ff1900"/><stop offset="0.1415" stop-color="#ff2c00"/><stop offset="0.1447" stop-color="#ff8b00"/><stop offset="0.1479" stop-color="#f7c100"/><stop offset="0.1511" stop-color="#f1ec00"/><stop offset="0.1543" stop-color="#a8e909"/><stop offset="0.1576" stop-color="#5be113"/><stop offset="0.1592" stop-color="#3ede16"/><stop offset="0.1608" stop-color="#25da27"/><stop offset="0.1624" stop-color="#18ce6e"/><stop offset="0.1656" stop-color="#01bae4"/><stop offset="0.1704" stop-color="#1e1ef0"/><stop offset="0.1801" stop-color="#3d0fec"/><stop offset="0.1881" stop-color="#8a00d2" stop-opacity="0.00"/><stop offset="0.2363" stop-color="#8a00d2" stop-opacity="0.00"/><stop offset="0.2379" stop-color="#7803d9" stop-opacity="0.23"/><stop offset="0.2395" stop-color="#4c09e9" stop-opacity="0.80"/><stop offset="0.2412" stop-color="#261aef"/><stop offset="0.2428" stop-color="#0a87ed"/><stop offset="0.2444" stop-color="#13ca86"/><stop offset="0.2460" stop-color="#47df15"/><stop offset="0.2476" stop-color="#ace908"/><stop offset="0.2492" stop-color="#f8b900"/><stop offset="0.2508" stop-color="#ff2b00"/><stop offset="0.2524" stop-color="#fd1800"/><stop offset="0.2637" stop-color="#ce0000"/><stop offset="0.2653" stop-color="#c00000"/><stop offset="0.2814" stop-color="#f11000"/><stop offset="0.2862" stop-color="#fd1800"/><stop offset="0.2878" stop-color="#ff2300"/><stop offset="0.2894" stop-color="#ff4e00"/><stop offset="0.2910" stop-color="#ff8c00"/><stop offset="0.2942" stop-color="#f5ce00"/><stop offset="0.2958" stop-color="#f1ea00"/><stop offset="0.2974" stop-color="#c8ec05"/><stop offset="0.3006" stop-color="#60e212"/><stop offset="0.3023" stop-color="#3bde17"/><stop offset="0.3039" stop-color="#20d545"/><stop offset="0.3055" stop-color="#14cb82"/><stop offset="0.3103" stop-color="#01b4eb"/><stop offset="0.3167" stop-color="#1b2df0"/><stop offset="0.3183" stop-color="#201df0"/><stop offset="0.3264" stop-color="#3712ed"/><stop offset="0.3280" stop-color="#440beb" stop-opacity="0.91"/><stop offset="0.3344" stop-color="#8301d5" stop-opacity="0.09"/><stop offset="0.3360" stop-color="#8a00d2" stop-opacity="0.00"/><stop offset="0.4904" stop-color="#8a00d2" stop-opacity="0.00"/><stop offset="0.4920" stop-color="#7803d9" stop-opacity="0.23"/><stop offset="0.4936" stop-color="#4c09e9" stop-opacity="0.80"/><stop offset="0.4952" stop-color="#261aef"/><stop offset="0.4968" stop-color="#125eee"/><stop offset="0.4984" stop-color="#02bbdf"/><stop offset="0.5000" stop-color="#17ce70"/><stop offset="0.5016" stop-color="#38de17"/><stop offset="0.5048" stop-color="#caec05"/><stop offset="0.5064" stop-color="#f8b900"/><stop offset="0.5080" stop-color="#ff5700"/><stop offset="0.5096" stop-color="#ff1900"/><stop offset="0.5193" stop-color="#d40000"/><stop offset="0.5225" stop-color="#bf0000"/><stop offset="0.5289" stop-color="#df0500"/><stop offset="0.5402" stop-color="#ff1a00"/><stop offset="0.5418" stop-color="#ff3300"/><stop offset="0.5450" stop-color="#fe9100"/><stop offset="0.5514" stop-color="#f0ee00"/><stop offset="0.5579" stop-color="#57e113"/><stop offset="0.5595" stop-color="#3ade17"/><stop offset="0.5611" stop-color="#23d832"/><stop offset="0.5627" stop-color="#17cd73"/><stop offset="0.5675" stop-color="#02bbe1"/><stop offset="0.5707" stop-color="#0b7eed"/><stop offset="0.5756" stop-color="#1f1ef0"/><stop offset="0.5852" stop-color="#3f0eec" stop-opacity="0.99"/><stop offset="0.5916" stop-color="#7d02d7" stop-opacity="0.17"/><stop offset="0.5932" stop-color="#8a00d2" stop-opacity="0.00"/><stop offset="0.8055" stop-color="#8a00d2" stop-opacity="0.00"/><stop offset="0.8071" stop-color="#7803d9" stop-opacity="0.23"/><stop offset="0.8087" stop-color="#4c09e9" stop-opacity="0.80"/><stop offset="0.8103" stop-color="#261aef"/><stop offset="0.8119" stop-color="#13ca86"/><stop offset="0.8135" stop-color="#ace908"/><stop offset="0.8151" stop-color="#ff2b00"/><stop offset="0.8167" stop-color="#fe1800"/><stop offset="0.8296" stop-color="#d40000"/><stop offset="0.8328" stop-color="#bc0000"/><stop offset="0.8424" stop-color="#df0500"/><stop offset="0.8585" stop-color="#ff1e00"/><stop offset="0.8601" stop-color="#ff3600"/><stop offset="0.8617" stop-color="#ff7b00"/><stop offset="0.8633" stop-color="#faad00"/><stop offset="0.8666" stop-color="#f1ec00"/><stop offset="0.8714" stop-color="#51e014"/><stop offset="0.8730" stop-color="#29dc19"/><stop offset="0.8746" stop-color="#17cd74"/><stop offset="0.8794" stop-color="#01b3eb"/><stop offset="0.8859" stop-color="#1f1ef0"/><stop offset="0.8955" stop-color="#3f0eec" stop-opacity="0.99"/><stop offset="0.9019" stop-color="#7d02d7" stop-opacity="0.17"/><stop offset="0.9035" stop-color="#8a00d2" stop-opacity="0.00"/><stop offset="1.0000" stop-color="#8a00d2" stop-opacity="0.00"/></linearGradient>
<rect x="27" y="161.56" width="311" height="6.76" fill="url(#sg3_1)"/>
<linearGradient id="sg3_2" gradientUnits="userSpaceOnUse" x1="27" x2="338" y1="0" y2="0"><stop offset="0.0000" stop-color="#8a00d2" stop-opacity="0.00"/><stop offset="0.0723" stop-color="#8a00d2" stop-opacity="0.00"/><stop offset="0.0740" stop-color="#6605df" stop-opacity="0.46"/><stop offset="0.0756" stop-color="#3c0fec"/><stop offset="0.0772" stop-color="#221cef"/><stop offset="0.0788" stop-color="#1939ef"/><stop offset="0.0820" stop-color="#0797ec"/><stop offset="0.0836" stop-color="#03bbde"/><stop offset="0.0900" stop-color="#2cdc18"/><stop offset="0.0981" stop-color="#d2ed04"/><stop offset="0.0997" stop-color="#f3df00"/><stop offset="0.1029" stop-color="#ff8e00"/><stop offset="0.1061" stop-color="#ff2b00"/><stop offset="0.1077" stop-color="#fd1800"/><stop offset="0.1190" stop-color="#cf0000"/><stop offset="0.1206" stop-color="#c10000"/><stop offset="0.1238" stop-color="#c90000"/><stop offset="0.1367" stop-color="#f11000"/><stop offset="0.1431" stop-color="#ff2000"/><stop offset="0.1447" stop-color="#ff3e00"/><stop offset="0.1479" stop-color="#fd9a00"/><stop offset="0.1543" stop-color="#eaef01"/><stop offset="0.1592" stop-color="#70e310"/><stop offset="0.1624" stop-color="#33dd18"/><stop offset="0.1640" stop-color="#20d543"/><stop offset="0.1672" stop-color="#08c0c0"/><stop offset="0.1688" stop-color="#03aaeb"/><stop offset="0.1720" stop-color="#183eef"/><stop offset="0.1736" stop-color="#201df0"/><stop offset="0.1817" stop-color="#3612ed"/><stop offset="0.1833" stop-color="#420cec" stop-opacity="0.94"/><stop offset="0.1897" stop-color="#8101d5" stop-opacity="0.12"/><stop offset="0.1913" stop-color="#8a00d2" stop-opacity="0.00"/><stop offset="0.2363" stop-color="#8a00d2" stop-opacity="0.00"/><stop offset="0.2379" stop-color="#7803d9" stop-opacity="0.23"/><stop offset="0.2395" stop-color="#4c09e9" stop-opacity="0.80"/><stop offset="0.2412" stop-color="#261aef"/><stop offset="0.2428" stop-color="#0a87ed"/><stop offset="0.2444" stop-color="#13ca86"/><stop offset="0.2460" stop-color="#47df15"/><stop offset="0.2476" stop-color="#ace908"/><stop offset="0.2492" stop-color="#f8b900"/><stop offset="0.2508" stop-color="#ff2b00"/><stop offset="0.2524" stop-color="#fd1800"/><stop offset="0.2637" stop-color="#d30000"/><stop offset="0.2669" stop-color="#bc0000"/><stop offset="0.2733" stop-color="#db0300"/><stop offset="0.2878" stop-color="#fd1800"/><stop offset="0.2894" stop-color="#ff2300"/><stop offset="0.2910" stop-color="#ff4c00"/><stop offset="0.2926" stop-color="#ff8a00"/><stop offset="0.2958" stop-color="#f5cd00"/><stop offset="0.2974" stop-color="#f1ea00"/><stop offset="0.2990" stop-color="#caec05"/><stop offset="0.3023" stop-color="#61e212"/><stop offset="0.3039" stop-color="#3cde16"/><stop offset="0.3055" stop-color="#20d543"/><stop offset="0.3071" stop-color="#14cb81"/><stop offset="0.3119" stop-color="#01b5eb"/><stop offset="0.3183" stop-color="#1b2eef"/><stop offset="0.3199" stop-color="#201df0"/><stop offset="0.3280" stop-color="#3712ed"/><stop offset="0.3296" stop-color="#440beb" stop-opacity="0.91"/><stop offset="0.3360" stop-color="#8301d5" stop-opacity="0.09"/><stop offset="0.3376" stop-color="#8a00d2" stop-opacity="0.00"/><stop offset="0.4904" stop-color="#8a00d2" stop-opacity="0.00"/><stop offset="0.4920" stop-color="#7803d9" stop-opacity="0.23"/><stop offset="0.4936" stop-color="#4c09e9" stop-opacity="0.80"/><stop offset="0.4952" stop-color="#261aef"/><stop offset="0.4968" stop-color="#125eee"/><stop offset="0.4984" stop-color="#02bbdf"/><stop offset="0.5000" stop-color="#17ce70"/><stop offset="0.5016" stop-color="#38de17"/><stop offset="0.5048" stop-color="#caec05"/><stop offset="0.5064" stop-color="#f8b900"/><stop offset="0.5080" stop-color="#ff5700"/><stop offset="0.5096" stop-color="#ff1a00"/><stop offset="0.5209" stop-color="#cb0000"/><stop offset="0.5225" stop-color="#bc0000"/><stop offset="0.5305" stop-color="#e00600"/><stop offset="0.5418" stop-color="#fe1900"/><stop offset="0.5434" stop-color="#ff2900"/><stop offset="0.5466" stop-color="#ff8500"/><stop offset="0.5482" stop-color="#fba800"/><stop offset="0.5531" stop-color="#f1ea00"/><stop offset="0.5547" stop-color="#d6ed03"/><stop offset="0.5595" stop-color="#5ee112"/><stop offset="0.5627" stop-color="#27db1f"/><stop offset="0.5643" stop-color="#19cf66"/><stop offset="0.5691" stop-color="#04bcd8"/><stop offset="0.5707" stop-color="#03a9ec"/><stop offset="0.5772" stop-color="#1d21f0"/><stop offset="0.5868" stop-color="#3b0fec"/><stop offset="0.5900" stop-color="#5907e4" stop-opacity="0.63"/><stop offset="0.5949" stop-color="#8800d3" stop-opacity="0.02"/><stop offset="0.8055" stop-color="#8a00d2" stop-opacity="0.00"/><stop offset="0.8071" stop-color="#7803d9" stop-opacity="0.23"/><stop offset="0.8087" stop-color="#4c09e9" stop-opacity="0.80"/><stop offset="0.8103" stop-color="#261aef"/><stop offset="0.8119" stop-color="#13ca86"/><stop offset="0.8135" stop-color="#ace908"/><stop offset="0.8151" stop-color="#ff2b00"/><stop offset="0.8167" stop-color="#fe1800"/><stop offset="0.8312" stop-color="#cd0000"/><stop offset="0.8344" stop-color="#bd0000"/><stop offset="0.8441" stop-color="#df0500"/><stop offset="0.8601" stop-color="#ff1b00"/><stop offset="0.8617" stop-color="#ff2900"/><stop offset="0.8650" stop-color="#fba500"/><stop offset="0.8682" stop-color="#f2e400"/><stop offset="0.8698" stop-color="#cfed04"/><stop offset="0.8730" stop-color="#5ce112"/><stop offset="0.8746" stop-color="#33dd18"/><stop offset="0.8762" stop-color="#1ad063"/><stop offset="0.8810" stop-color="#01bae7"/><stop offset="0.8875" stop-color="#1d22f0"/><stop offset="0.8971" stop-color="#3b0fec"/><stop offset="0.9003" stop-color="#5907e4" stop-opacity="0.63"/><stop offset="0.9051" stop-color="#8800d3" stop-opacity="0.02"/><stop offset="1.0000" stop-color="#8a00d2" stop-opacity="0.00"/></linearGradient>
<rect x="27" y="167.12" width="311" height="6.76" fill="url(#sg3_2)"/>
<linearGradient id="sg3_3" gradientUnits="userSpaceOnUse" x1="27" x2="338" y1="0" y2="0"><stop offset="0.0000" stop-color="#8a00d2" stop-opacity="0.00"/><stop offset="0.0675" stop-color="#8a00d2" stop-opacity="0.00"/><stop offset="0.0691" stop-color="#8101d5" stop-opacity="0.12"/><stop offset="0.0707" stop-color="#5408e6" stop-opacity="0.69"/><stop offset="0.0723" stop-color="#2d16ee"/><stop offset="0.0740" stop-color="#1f1df0"/><stop offset="0.0804" stop-color="#01bae6"/><stop offset="0.0868" stop-color="#23d832"/><stop offset="0.0884" stop-color="#35dd17"/><stop offset="0.0965" stop-color="#c8ec05"/><stop offset="0.0981" stop-color="#f0f000"/><stop offset="0.1045" stop-color="#ff5700"/><stop offset="0.1061" stop-color="#ff2b00"/><stop offset="0.1077" stop-color="#fd1800"/><stop offset="0.1190" stop-color="#d60000"/><stop offset="0.1222" stop-color="#bc0000"/><stop offset="0.1318" stop-color="#e10600"/><stop offset="0.1447" stop-color="#ff1900"/><stop offset="0.1463" stop-color="#ff2700"/><stop offset="0.1511" stop-color="#fba600"/><stop offset="0.1559" stop-color="#f1e800"/><stop offset="0.1576" stop-color="#daee03"/><stop offset="0.1624" stop-color="#61e212"/><stop offset="0.1656" stop-color="#28dc19"/><stop offset="0.1688" stop-color="#0fc69c"/><stop offset="0.1704" stop-color="#04bcd7"/><stop offset="0.1720" stop-color="#0795ec"/><stop offset="0.1752" stop-color="#1c29f0"/><stop offset="0.1785" stop-color="#261aef"/><stop offset="0.1849" stop-color="#3a10ed"/><stop offset="0.1865" stop-color="#470aeb" stop-opacity="0.86"/><stop offset="0.1929" stop-color="#8700d3" stop-opacity="0.04"/><stop offset="0.1961" stop-color="#8a00d2" stop-opacity="0.00"/><stop offset="0.2363" stop-color="#8a00d2" stop-opacity="0.00"/><stop offset="0.2379" stop-color="#7803d9" stop-opacity="0.23"/><stop offset="0.2395" stop-color="#4c09e9" stop-opacity="0.80"/><stop offset="0.2412" stop-color="#261aef"/><stop offset="0.2428" stop-color="#0a87ed"/><stop offset="0.2444" stop-color="#13ca86"/><stop offset="0.2460" stop-color="#47df15"/><stop offset="0.2476" stop-color="#ace908"/><stop offset="0.2492" stop-color="#f8b900"/><stop offset="0.2508" stop-color="#ff2b00"/><stop offset="0.2524" stop-color="#fe1800"/><stop offset="0.2637" stop-color="#d70000"/><stop offset="0.2669" stop-color="#bd0000"/><stop offset="0.2781" stop-color="#e40800"/><stop offset="0.2894" stop-color="#fe1800"/><stop offset="0.2910" stop-color="#ff2300"/><stop offset="0.2926" stop-color="#ff4a00"/><stop offset="0.2942" stop-color="#ff8800"/><stop offset="0.2974" stop-color="#f5cd00"/><stop offset="0.2990" stop-color="#f1e900"/><stop offset="0.3006" stop-color="#cbec05"/><stop offset="0.3039" stop-color="#62e212"/><stop offset="0.3055" stop-color="#3dde16"/><stop offset="0.3071" stop-color="#21d540"/><stop offset="0.3087" stop-color="#14cb80"/><stop offset="0.3135" stop-color="#01b6eb"/><stop offset="0.3199" stop-color="#1b2eef"/><stop offset="0.3215" stop-color="#201df0"/><stop offset="0.3296" stop-color="#3612ed"/><stop offset="0.3312" stop-color="#430beb" stop-opacity="0.92"/><stop offset="0.3376" stop-color="#8201d5" stop-opacity="0.10"/><stop offset="0.3392" stop-color="#8a00d2" stop-opacity="0.00"/><stop offset="0.4904" stop-color="#8a00d2" stop-opacity="0.00"/><stop offset="0.4920" stop-color="#7803d9" stop-opacity="0.23"/><stop offset="0.4936" stop-color="#4c09e9" stop-opacity="0.80"/><stop offset="0.4952" stop-color="#261aef"/><stop offset="0.4968" stop-color="#125eee"/><stop offset="0.4984" stop-color="#02bbdf"/><stop offset="0.5000" stop-color="#17ce70"/><stop offset="0.5016" stop-color="#38de17"/><stop offset="0.5048" stop-color="#caec05"/><stop offset="0.5064" stop-color="#f8b900"/><stop offset="0.5080" stop-color="#ff5700"/><stop offset="0.5096" stop-color="#ff1b00"/><stop offset="0.5209" stop-color="#d10000"/><stop offset="0.5241" stop-color="#be0000"/><stop offset="0.5322" stop-color="#e10600"/><stop offset="0.5434" stop-color="#fd1800"/><stop offset="0.5450" stop-color="#ff2400"/><stop offset="0.5498" stop-color="#fca200"/><stop offset="0.5547" stop-color="#f2e400"/><stop offset="0.5563" stop-color="#e1ee02"/><stop offset="0.5611" stop-color="#67e211"/><stop offset="0.5643" stop-color="#2ddd18"/><stop offset="0.5675" stop-color="#14ca84"/><stop offset="0.5723" stop-color="#01b2eb"/><stop offset="0.5788" stop-color="#1c2af0"/><stop offset="0.5820" stop-color="#251aef"/><stop offset="0.5884" stop-color="#3811ed"/><stop offset="0.5900" stop-color="#450beb" stop-opacity="0.89"/><stop offset="0.5965" stop-color="#8401d4" stop-opacity="0.08"/><stop offset="0.5981" stop-color="#8a00d2" stop-opacity="0.00"/><stop offset="0.8055" stop-color="#8a00d2" stop-opacity="0.00"/><stop offset="0.8071" stop-color="#7803d9" stop-opacity="0.23"/><stop offset="0.8087" stop-color="#4c09e9" stop-opacity="0.80"/><stop offset="0.8103" stop-color="#261aef"/><stop offset="0.8119" stop-color="#13ca86"/><stop offset="0.8135" stop-color="#ace908"/><stop offset="0.8151" stop-color="#ff2b00"/><stop offset="0.8167" stop-color="#fe1900"/><stop offset="0.8312" stop-color="#d20000"/><stop offset="0.8344" stop-color="#bc0000"/><stop offset="0.8457" stop-color="#e00600"/><stop offset="0.8617" stop-color="#ff1900"/><stop offset="0.8633" stop-color="#ff2600"/><stop offset="0.8650" stop-color="#ff5600"/><stop offset="0.8666" stop-color="#fd9800"/><stop offset="0.8698" stop-color="#f3dc00"/><stop offset="0.8714" stop-color="#deee02"/><stop offset="0.8746" stop-color="#69e311"/><stop offset="0.8762" stop-color="#3ede16"/><stop offset="0.8778" stop-color="#1fd447"/><stop offset="0.8794" stop-color="#13ca88"/><stop offset="0.8826" stop-color="#03bcdc"/><stop offset="0.8842" stop-color="#05a0ec"/><stop offset="0.8891" stop-color="#1b2cf0"/><stop offset="0.8907" stop-color="#211df0"/><stop offset="0.8987" stop-color="#3811ed"/><stop offset="0.9003" stop-color="#450beb" stop-opacity="0.89"/><stop offset="0.9068" stop-color="#8401d4" stop-opacity="0.08"/><stop offset="0.9084" stop-color="#8a00d2" stop-opacity="0.00"/><stop offset="1.0000" stop-color="#8a00d2" stop-opacity="0.00"/></linearGradient>
<rect x="27" y="172.69" width="311" height="6.76" fill="url(#sg3_3)"/>
<linearGradient id="sg3_4" gradientUnits="userSpaceOnUse" x1="27" x2="338" y1="0" y2="0"><stop offset="0.0000" stop-color="#8a00d2" stop-opacity="0.00"/><stop offset="0.0643" stop-color="#8a00d2" stop-opacity="0.00"/><stop offset="0.0659" stop-color="#6f04dc" stop-opacity="0.34"/><stop offset="0.0675" stop-color="#430beb" stop-opacity="0.92"/><stop offset="0.0691" stop-color="#241bef"/><stop offset="0.0707" stop-color="#1d24f0"/><stop offset="0.0772" stop-color="#00b8eb"/><stop offset="0.0852" stop-color="#26da23"/><stop offset="0.0900" stop-color="#71e310"/><stop offset="0.0965" stop-color="#daee03"/><stop offset="0.0981" stop-color="#f3de00"/><stop offset="0.1045" stop-color="#ff5200"/><stop offset="0.1061" stop-color="#ff2b00"/><stop offset="0.1077" stop-color="#fe1800"/><stop offset="0.1206" stop-color="#d00000"/><stop offset="0.1238" stop-color="#bd0000"/><stop offset="0.1318" stop-color="#dd0400"/><stop offset="0.1479" stop-color="#ff1e00"/><stop offset="0.1495" stop-color="#ff3400"/><stop offset="0.1527" stop-color="#fe9200"/><stop offset="0.1592" stop-color="#f0ef00"/><stop offset="0.1656" stop-color="#56e113"/><stop offset="0.1672" stop-color="#3ade17"/><stop offset="0.1688" stop-color="#23d834"/><stop offset="0.1720" stop-color="#0bc2b3"/><stop offset="0.1736" stop-color="#01b6eb"/><stop offset="0.1768" stop-color="#164aef"/><stop offset="0.1785" stop-color="#1f1ef0"/><stop offset="0.1881" stop-color="#3f0dec" stop-opacity="0.98"/><stop offset="0.1945" stop-color="#7d02d7" stop-opacity="0.16"/><stop offset="0.1961" stop-color="#8a00d2" stop-opacity="0.00"/><stop offset="0.2363" stop-color="#8a00d2" stop-opacity="0.00"/><stop offset="0.2379" stop-color="#7803d9" stop-opacity="0.23"/><stop offset="0.2395" stop-color="#4c09e9" stop-opacity="0.80"/><stop offset="0.2412" stop-color="#261aef"/><stop offset="0.2428" stop-color="#0a87ed"/><stop offset="0.2444" stop-color="#13ca86"/><stop offset="0.2460" stop-color="#47df15"/><stop offset="0.2476" stop-color="#ace908"/><stop offset="0.2492" stop-color="#f8b900"/><stop offset="0.2508" stop-color="#ff2b00"/><stop offset="0.2524" stop-color="#fe1800"/><stop offset="0.2653" stop-color="#cf0000"/><stop offset="0.2685" stop-color="#be0000"/><stop offset="0.2765" stop-color="#de0400"/><stop offset="0.2910" stop-color="#fe1800"/><stop offset="0.2926" stop-color="#ff2300"/><stop offset="0.2942" stop-color="#ff4900"/><stop offset="0.2958" stop-color="#ff8700"/><stop offset="0.2974" stop-color="#faaf00"/><stop offset="0.3006" stop-color="#f1e800"/><stop offset="0.3023" stop-color="#cdec04"/><stop offset="0.3055" stop-color="#63e212"/><stop offset="0.3071" stop-color="#3ede16"/><stop offset="0.3087" stop-color="#21d63e"/><stop offset="0.3103" stop-color="#15cb7f"/><stop offset="0.3151" stop-color="#00b7eb"/><stop offset="0.3215" stop-color="#1b2fef"/><stop offset="0.3232" stop-color="#201df0"/><stop offset="0.3312" stop-color="#3612ed"/><stop offset="0.3328" stop-color="#430ceb" stop-opacity="0.92"/><stop offset="0.3392" stop-color="#8201d5" stop-opacity="0.11"/><stop offset="0.3408" stop-color="#8a00d2" stop-opacity="0.00"/><stop offset="0.4904" stop-color="#8a00d2" stop-opacity="0.00"/><stop offset="0.4920" stop-color="#7803d9" stop-opacity="0.23"/><stop offset="0.4936" stop-color="#4c09e9" stop-opacity="0.80"/><stop offset="0.4952" stop-color="#261aef"/><stop offset="0.4968" stop-color="#125eee"/><stop offset="0.4984" stop-color="#02bbdf"/><stop offset="0.5000" stop-color="#17ce70"/><stop offset="0.5016" stop-color="#38de17"/><stop offset="0.5048" stop-color="#caec05"/><stop offset="0.5064" stop-color="#f8b900"/><stop offset="0.5080" stop-color="#ff5700"/><stop offset="0.5096" stop-color="#ff1b00"/><stop offset="0.5209" stop-color="#d70000"/><stop offset="0.5241" stop-color="#bc0000"/><stop offset="0.5322" stop-color="#de0400"/><stop offset="0.5466" stop-color="#ff2000"/><stop offset="0.5482" stop-color="#ff3c00"/><stop offset="0.5514" stop-color="#fd9800"/><stop offset="0.5579" stop-color="#ecf001"/><stop offset="0.5643" stop-color="#51e014"/><stop offset="0.5659" stop-color="#35dd17"/><stop offset="0.5675" stop-color="#21d640"/><stop offset="0.5691" stop-color="#15cc7a"/><stop offset="0.5740" stop-color="#00b9e9"/><stop offset="0.5804" stop-color="#1a33ef"/><stop offset="0.5820" stop-color="#201df0"/><stop offset="0.5900" stop-color="#3512ed"/><stop offset="0.5916" stop-color="#410cec" stop-opacity="0.95"/><stop offset="0.5981" stop-color="#8001d6" stop-opacity="0.13"/><stop offset="0.5997" stop-color="#8a00d2" stop-opacity="0.00"/><stop offset="0.8055" stop-color="#8a00d2" stop-opacity="0.00"/><stop offset="0.8071" stop-color="#7803d9" stop-opacity="0.23"/><stop offset="0.8087" stop-color="#4c09e9" stop-opacity="0.80"/><stop offset="0.8103" stop-color="#261aef"/><stop offset="0.8119" stop-color="#13ca86"/><stop offset="0.8135" stop-color="#ace908"/><stop offset="0.8151" stop-color="#ff2b00"/><stop offset="0.8167" stop-color="#ff1900"/><stop offset="0.8328" stop-color="#cc0000"/><stop offset="0.8360" stop-color="#bd0000"/><stop offset="0.8457" stop-color="#de0400"/><stop offset="0.8633" stop-color="#fe1800"/><stop offset="0.8650" stop-color="#ff2200"/><stop offset="0.8666" stop-color="#ff4400"/><stop offset="0.8682" stop-color="#ff8900"/><stop offset="0.8714" stop-color="#f4d300"/><stop offset="0.8730" stop-color="#eef000"/><stop offset="0.8762" stop-color="#79e40f"/><stop offset="0.8778" stop-color="#49df15"/><stop offset="0.8794" stop-color="#24d92c"/><stop offset="0.8810" stop-color="#15cb7c"/><stop offset="0.8842" stop-color="#05bdd0"/><stop offset="0.8859" stop-color="#03abeb"/><stop offset="0.8907" stop-color="#1937ef"/><stop offset="0.8923" stop-color="#201df0"/><stop offset="0.9003" stop-color="#3512ed"/><stop offset="0.9019" stop-color="#410cec" stop-opacity="0.95"/><stop offset="0.9084" stop-color="#8001d6" stop-opacity="0.13"/><stop offset="0.9100" stop-color="#8a00d2" stop-opacity="0.00"/><stop offset="1.0000" stop-color="#8a00d2" stop-opacity="0.00"/></linearGradient>
<rect x="27" y="178.25" width="311" height="6.76" fill="url(#sg3_4)"/>
<linearGradient id="sg3_5" gradientUnits="userSpaceOnUse" x1="27" x2="338" y1="0" y2="0"><stop offset="0.0000" stop-color="#8a00d2" stop-opacity="0.00"/><stop offset="0.0611" stop-color="#8a00d2" stop-opacity="0.00"/><stop offset="0.0627" stop-color="#5e07e2" stop-opacity="0.57"/><stop offset="0.0643" stop-color="#3513ed"/><stop offset="0.0659" stop-color="#221cf0"/><stop offset="0.0675" stop-color="#1b2df0"/><stop offset="0.0740" stop-color="#01b3eb"/><stop offset="0.0836" stop-color="#2adc19"/><stop offset="0.0949" stop-color="#d1ed04"/><stop offset="0.0965" stop-color="#f1ec00"/><stop offset="0.1029" stop-color="#ff7300"/><stop offset="0.1061" stop-color="#ff2b00"/><stop offset="0.1077" stop-color="#fe1800"/><stop offset="0.1222" stop-color="#ca0000"/><stop offset="0.1238" stop-color="#bf0000"/><stop offset="0.1367" stop-color="#e40800"/><stop offset="0.1495" stop-color="#fe1900"/><stop offset="0.1511" stop-color="#ff2500"/><stop offset="0.1527" stop-color="#ff4700"/><stop offset="0.1559" stop-color="#fca100"/><stop offset="0.1608" stop-color="#f2e300"/><stop offset="0.1624" stop-color="#e3ef02"/><stop offset="0.1672" stop-color="#69e211"/><stop offset="0.1704" stop-color="#2fdd18"/><stop offset="0.1752" stop-color="#06beca"/><stop offset="0.1768" stop-color="#05a1ec"/><stop offset="0.1801" stop-color="#1a34ef"/><stop offset="0.1817" stop-color="#211df0"/><stop offset="0.1897" stop-color="#3711ed"/><stop offset="0.1913" stop-color="#440beb" stop-opacity="0.90"/><stop offset="0.1977" stop-color="#8301d4" stop-opacity="0.08"/><stop offset="0.1994" stop-color="#8a00d2" stop-opacity="0.00"/><stop offset="0.2363" stop-color="#8a00d2" stop-opacity="0.00"/><stop offset="0.2379" stop-color="#7803d9" stop-opacity="0.23"/><stop offset="0.2395" stop-color="#4c09e9" stop-opacity="0.80"/><stop offset="0.2412" stop-color="#261aef"/><stop offset="0.2428" stop-color="#0a87ed"/><stop offset="0.2444" stop-color="#13ca86"/><stop offset="0.2460" stop-color="#47df15"/><stop offset="0.2476" stop-color="#ace908"/><stop offset="0.2492" stop-color="#f8b900"/><stop offset="0.2508" stop-color="#ff2b00"/><stop offset="0.2524" stop-color="#fe1800"/><stop offset="0.2653" stop-color="#d30000"/><stop offset="0.2685" stop-color="#bb0000"/><stop offset="0.2781" stop-color="#df0500"/><stop offset="0.2926" stop-color="#fe1800"/><stop offset="0.2942" stop-color="#ff2300"/><stop offset="0.2958" stop-color="#ff4700"/><stop offset="0.2974" stop-color="#ff8500"/><stop offset="0.2990" stop-color="#faaf00"/><stop offset="0.3023" stop-color="#f1e800"/><stop offset="0.3039" stop-color="#ceed04"/><stop offset="0.3071" stop-color="#64e211"/><stop offset="0.3087" stop-color="#3fde16"/><stop offset="0.3103" stop-color="#22d63b"/><stop offset="0.3119" stop-color="#15cb7e"/><stop offset="0.3167" stop-color="#00b8eb"/><stop offset="0.3232" stop-color="#1a30ef"/><stop offset="0.3248" stop-color="#201df0"/><stop offset="0.3328" stop-color="#3612ed"/><stop offset="0.3344" stop-color="#430ceb" stop-opacity="0.93"/><stop offset="0.3408" stop-color="#8101d5" stop-opacity="0.11"/><stop offset="0.3424" stop-color="#8a00d2" stop-opacity="0.00"/><stop offset="0.4904" stop-color="#8a00d2" stop-opacity="0.00"/><stop offset="0.4920" stop-color="#7803d9" stop-opacity="0.23"/><stop offset="0.4936" stop-color="#4c09e9" stop-opacity="0.80"/><stop offset="0.4952" stop-color="#261aef"/><stop offset="0.4968" stop-color="#125eee"/><stop offset="0.4984" stop-color="#02bbdf"/><stop offset="0.5000" stop-color="#17ce70"/><stop offset="0.5016" stop-color="#38de17"/><stop offset="0.5048" stop-color="#caec05"/><stop offset="0.5064" stop-color="#f8b900"/><stop offset="0.5080" stop-color="#ff5700"/><stop offset="0.5096" stop-color="#ff1c00"/><stop offset="0.5225" stop-color="#cf0000"/><stop offset="0.5257" stop-color="#be0000"/><stop offset="0.5338" stop-color="#df0500"/><stop offset="0.5482" stop-color="#ff1c00"/><stop offset="0.5498" stop-color="#ff2f00"/><stop offset="0.5531" stop-color="#ff8e00"/><stop offset="0.5579" stop-color="#f4d800"/><stop offset="0.5595" stop-color="#f0ed00"/><stop offset="0.5659" stop-color="#58e113"/><stop offset="0.5675" stop-color="#3cde16"/><stop offset="0.5691" stop-color="#24d92d"/><stop offset="0.5707" stop-color="#17cd71"/><stop offset="0.5756" stop-color="#02bbdf"/><stop offset="0.5788" stop-color="#0b80ed"/><stop offset="0.5836" stop-color="#1e1ef0"/><stop offset="0.5932" stop-color="#3e0eec"/><stop offset="0.6013" stop-color="#8a00d2" stop-opacity="0.00"/><stop offset="0.8055" stop-color="#8a00d2" stop-opacity="0.00"/><stop offset="0.8071" stop-color="#7803d9" stop-opacity="0.23"/><stop offset="0.8087" stop-color="#4c09e9" stop-opacity="0.80"/><stop offset="0.8103" stop-color="#261aef"/><stop offset="0.8119" stop-color="#13ca86"/><stop offset="0.8135" stop-color="#ace908"/><stop offset="0.8151" stop-color="#ff2b00"/><stop offset="0.8167" stop-color="#ff1900"/><stop offset="0.8328" stop-color="#d00000"/><stop offset="0.8360" stop-color="#bc0000"/><stop offset="0.8489" stop-color="#e10600"/><stop offset="0.8666" stop-color="#ff1f00"/><stop offset="0.8682" stop-color="#ff3200"/><stop offset="0.8698" stop-color="#ff7600"/><stop offset="0.8714" stop-color="#faab00"/><stop offset="0.8746" stop-color="#f1ea00"/><stop offset="0.8762" stop-color="#c3ec06"/><stop offset="0.8794" stop-color="#54e013"/><stop offset="0.8810" stop-color="#2bdc19"/><stop offset="0.8826" stop-color="#17cd71"/><stop offset="0.8875" stop-color="#01b5eb"/><stop offset="0.8939" stop-color="#1e1ef0"/><stop offset="0.9035" stop-color="#3e0eec"/><stop offset="0.9116" stop-color="#8a00d2" stop-opacity="0.00"/><stop offset="1.0000" stop-color="#8a00d2" stop-opacity="0.00"/></linearGradient>
<rect x="27" y="183.81" width="311" height="6.76" fill="url(#sg3_5)"/>
<linearGradient id="sg3_6" gradientUnits="userSpaceOnUse" x1="27" x2="338" y1="0" y2="0"><stop offset="0.0000" stop-color="#8a00d2" stop-opacity="0.00"/><stop offset="0.0563" stop-color="#8a00d2" stop-opacity="0.00"/><stop offset="0.0579" stop-color="#7903d8" stop-opacity="0.22"/><stop offset="0.0595" stop-color="#4c09e9" stop-opacity="0.80"/><stop offset="0.0611" stop-color="#261aef"/><stop offset="0.0627" stop-color="#201df0"/><stop offset="0.0707" stop-color="#02b0eb"/><stop offset="0.0740" stop-color="#0bc2b3"/><stop offset="0.0804" stop-color="#24d92d"/><stop offset="0.0820" stop-color="#31dd18"/><stop offset="0.0949" stop-color="#dfee02"/><stop offset="0.0965" stop-color="#f3dd00"/><stop offset="0.1029" stop-color="#ff6c00"/><stop offset="0.1061" stop-color="#ff2b00"/><stop offset="0.1077" stop-color="#fe1900"/><stop offset="0.1222" stop-color="#d10000"/><stop offset="0.1254" stop-color="#bb0000"/><stop offset="0.1350" stop-color="#de0400"/><stop offset="0.1527" stop-color="#ff1d00"/><stop offset="0.1543" stop-color="#ff2a00"/><stop offset="0.1576" stop-color="#ff8900"/><stop offset="0.1608" stop-color="#f7c000"/><stop offset="0.1640" stop-color="#f1eb00"/><stop offset="0.1672" stop-color="#aae909"/><stop offset="0.1704" stop-color="#5ce113"/><stop offset="0.1736" stop-color="#26da24"/><stop offset="0.1752" stop-color="#18ce6b"/><stop offset="0.1785" stop-color="#02bbe1"/><stop offset="0.1817" stop-color="#1355ee"/><stop offset="0.1833" stop-color="#1e1ff0"/><stop offset="0.1929" stop-color="#3c0fec"/><stop offset="0.2010" stop-color="#8a00d2" stop-opacity="0.00"/><stop offset="0.2363" stop-color="#8a00d2" stop-opacity="0.00"/><stop offset="0.2379" stop-color="#7803d9" stop-opacity="0.23"/><stop offset="0.2395" stop-color="#4c09e9" stop-opacity="0.80"/><stop offset="0.2412" stop-color="#261aef"/><stop offset="0.2428" stop-color="#0a87ed"/><stop offset="0.2444" stop-color="#13ca86"/><stop offset="0.2460" stop-color="#47df15"/><stop offset="0.2476" stop-color="#ace908"/><stop offset="0.2492" stop-color="#f8b900"/><stop offset="0.2508" stop-color="#ff2b00"/><stop offset="0.2524" stop-color="#fe1800"/><stop offset="0.2669" stop-color="#cb0000"/><stop offset="0.2701" stop-color="#bf0000"/><stop offset="0.2781" stop-color="#dd0400"/><stop offset="0.2942" stop-color="#fe1800"/><stop offset="0.2958" stop-color="#ff2200"/><stop offset="0.2974" stop-color="#ff4500"/><stop offset="0.2990" stop-color="#ff8300"/><stop offset="0.3006" stop-color="#faae00"/><stop offset="0.3039" stop-color="#f1e700"/><stop offset="0.3055" stop-color="#cfed04"/><stop offset="0.3087" stop-color="#66e211"/><stop offset="0.3103" stop-color="#40de16"/><stop offset="0.3119" stop-color="#22d739"/><stop offset="0.3135" stop-color="#15cb7d"/><stop offset="0.3183" stop-color="#00b9eb"/><stop offset="0.3248" stop-color="#1a31ef"/><stop offset="0.3264" stop-color="#201df0"/><stop offset="0.3344" stop-color="#3612ed"/><stop offset="0.3360" stop-color="#420ceb" stop-opacity="0.93"/><stop offset="0.3424" stop-color="#8101d5" stop-opacity="0.12"/><stop offset="0.3441" stop-color="#8a00d2" stop-opacity="0.00"/><stop offset="0.4904" stop-color="#8a00d2" stop-opacity="0.00"/><stop offset="0.4920" stop-color="#7803d9" stop-opacity="0.23"/><stop offset="0.4936" stop-color="#4c09e9" stop-opacity="0.80"/><stop offset="0.4952" stop-color="#261aef"/><stop offset="0.4968" stop-color="#125eee"/><stop offset="0.4984" stop-color="#02bbdf"/><stop offset="0.5000" stop-color="#17ce70"/><stop offset="0.5016" stop-color="#38de17"/><stop offset="0.5048" stop-color="#caec05"/><stop offset="0.5064" stop-color="#f8b900"/><stop offset="0.5080" stop-color="#ff5700"/><stop offset="0.5096" stop-color="#ff1d00"/><stop offset="0.5225" stop-color="#d50000"/><stop offset="0.5257" stop-color="#bc0000"/><stop offset="0.5354" stop-color="#e00500"/><stop offset="0.5498" stop-color="#ff1900"/><stop offset="0.5514" stop-color="#ff2800"/><stop offset="0.5563" stop-color="#fba700"/><stop offset="0.5611" stop-color="#f1e800"/><stop offset="0.5627" stop-color="#d9ee03"/><stop offset="0.5675" stop-color="#60e212"/><stop offset="0.5707" stop-color="#28dc1a"/><stop offset="0.5723" stop-color="#1ad061"/><stop offset="0.5772" stop-color="#04bdd5"/><stop offset="0.5788" stop-color="#03abeb"/><stop offset="0.5852" stop-color="#1d24f0"/><stop offset="0.5949" stop-color="#3a10ec"/><stop offset="0.5965" stop-color="#480aea" stop-opacity="0.85"/><stop offset="0.6029" stop-color="#8700d3" stop-opacity="0.03"/><stop offset="0.6077" stop-color="#8a00d2" stop-opacity="0.00"/><stop offset="0.8055" stop-color="#8a00d2" stop-opacity="0.00"/><stop offset="0.8071" stop-color="#7803d9" stop-opacity="0.23"/><stop offset="0.8087" stop-color="#4c09e9" stop-opacity="0.80"/><stop offset="0.8103" stop-color="#261aef"/><stop offset="0.8119" stop-color="#13ca86"/><stop offset="0.8135" stop-color="#ace908"/><stop offset="0.8151" stop-color="#ff2b00"/><stop offset="0.8167" stop-color="#ff1900"/><stop offset="0.8344" stop-color="#cb0000"/><stop offset="0.8376" stop-color="#bd0000"/><stop offset="0.8473" stop-color="#dc0300"/><stop offset="0.8682" stop-color="#ff1d00"/><stop offset="0.8698" stop-color="#ff2900"/><stop offset="0.8730" stop-color="#fca200"/><stop offset="0.8762" stop-color="#f2e200"/><stop offset="0.8778" stop-color="#d3ed04"/><stop offset="0.8810" stop-color="#5fe112"/><stop offset="0.8826" stop-color="#36dd17"/><stop offset="0.8842" stop-color="#1bd15c"/><stop offset="0.8875" stop-color="#09c1ba"/><stop offset="0.8891" stop-color="#01bae4"/><stop offset="0.8955" stop-color="#1d24f0"/><stop offset="0.9051" stop-color="#3a10ec"/><stop offset="0.9068" stop-color="#480aea" stop-opacity="0.85"/><stop offset="0.9132" stop-color="#8700d3" stop-opacity="0.03"/><stop offset="0.9180" stop-color="#8a00d2" stop-opacity="0.00"/><stop offset="1.0000" stop-color="#8a00d2" stop-opacity="0.00"/></linearGradient>
<rect x="27" y="189.38" width="311" height="6.76" fill="url(#sg3_6)"/>
<linearGradient id="sg3_7" gradientUnits="userSpaceOnUse" x1="27" x2="338" y1="0" y2="0"><stop offset="0.0000" stop-color="#8a00d2" stop-opacity="0.00"/><stop offset="0.0531" stop-color="#8a00d2" stop-opacity="0.00"/><stop offset="0.0547" stop-color="#6705df" stop-opacity="0.45"/><stop offset="0.0563" stop-color="#3c0fec"/><stop offset="0.0579" stop-color="#241bef"/><stop offset="0.0595" stop-color="#1e1ff0"/><stop offset="0.0675" stop-color="#02aceb"/><stop offset="0.0691" stop-color="#03bcda"/><stop offset="0.0788" stop-color="#26db22"/><stop offset="0.0836" stop-color="#5fe112"/><stop offset="0.0949" stop-color="#f1e900"/><stop offset="0.1029" stop-color="#ff6700"/><stop offset="0.1061" stop-color="#ff2b00"/><stop offset="0.1077" stop-color="#ff1900"/><stop offset="0.1238" stop-color="#cc0000"/><stop offset="0.1270" stop-color="#bd0000"/><stop offset="0.1367" stop-color="#de0400"/><stop offset="0.1543" stop-color="#fe1800"/><stop offset="0.1559" stop-color="#ff2200"/><stop offset="0.1576" stop-color="#ff3c00"/><stop offset="0.1608" stop-color="#fd9900"/><stop offset="0.1672" stop-color="#ecf001"/><stop offset="0.1736" stop-color="#51e014"/><stop offset="0.1752" stop-color="#35dd17"/><stop offset="0.1768" stop-color="#21d540"/><stop offset="0.1801" stop-color="#09c1bd"/><stop offset="0.1817" stop-color="#02adeb"/><stop offset="0.1849" stop-color="#1740ef"/><stop offset="0.1865" stop-color="#201df0"/><stop offset="0.1945" stop-color="#3512ed"/><stop offset="0.1961" stop-color="#410cec" stop-opacity="0.95"/><stop offset="0.2026" stop-color="#8001d6" stop-opacity="0.13"/><stop offset="0.2042" stop-color="#8a00d2" stop-opacity="0.00"/><stop offset="0.2363" stop-color="#8a00d2" stop-opacity="0.00"/><stop offset="0.2379" stop-color="#7803d9" stop-opacity="0.23"/><stop offset="0.2395" stop-color="#4c09e9" stop-opacity="0.80"/><stop offset="0.2412" stop-color="#261aef"/><stop offset="0.2428" stop-color="#0a87ed"/><stop offset="0.2444" stop-color="#13ca86"/><stop offset="0.2460" stop-color="#47df15"/><stop offset="0.2476" stop-color="#ace908"/><stop offset="0.2492" stop-color="#f8b900"/><stop offset="0.2508" stop-color="#ff2b00"/><stop offset="0.2524" stop-color="#fe1900"/><stop offset="0.2669" stop-color="#cf0000"/><stop offset="0.2701" stop-color="#bc0000"/><stop offset="0.2797" stop-color="#de0500"/><stop offset="0.2958" stop-color="#fe1800"/><stop offset="0.2974" stop-color="#ff2200"/><stop offset="0.2990" stop-color="#ff4400"/><stop offset="0.3006" stop-color="#ff8200"/><stop offset="0.3023" stop-color="#faad00"/><stop offset="0.3055" stop-color="#f1e600"/><stop offset="0.3071" stop-color="#d1ed04"/><stop offset="0.3103" stop-color="#67e211"/><stop offset="0.3119" stop-color="#41df16"/><stop offset="0.3135" stop-color="#22d736"/><stop offset="0.3151" stop-color="#15cc7c"/><stop offset="0.3199" stop-color="#00b9ea"/><stop offset="0.3264" stop-color="#1a32ef"/><stop offset="0.3280" stop-color="#201df0"/><stop offset="0.3360" stop-color="#3612ed"/><stop offset="0.3376" stop-color="#420cec" stop-opacity="0.94"/><stop offset="0.3441" stop-color="#8101d5" stop-opacity="0.12"/><stop offset="0.3457" stop-color="#8a00d2" stop-opacity="0.00"/><stop offset="0.4904" stop-color="#8a00d2" stop-opacity="0.00"/><stop offset="0.4920" stop-color="#7803d9" stop-opacity="0.23"/><stop offset="0.4936" stop-color="#4c09e9" stop-opacity="0.80"/><stop offset="0.4952" stop-color="#261aef"/><stop offset="0.4968" stop-color="#125eee"/><stop offset="0.4984" stop-color="#02bbdf"/><stop offset="0.5000" stop-color="#17ce70"/><stop offset="0.5016" stop-color="#38de17"/><stop offset="0.5048" stop-color="#caec05"/><stop offset="0.5064" stop-color="#f8b900"/><stop offset="0.5080" stop-color="#ff5700"/><stop offset="0.5096" stop-color="#ff1d00"/><stop offset="0.5241" stop-color="#ce0000"/><stop offset="0.5273" stop-color="#be0000"/><stop offset="0.5354" stop-color="#dd0400"/><stop offset="0.5514" stop-color="#fe1900"/><stop offset="0.5531" stop-color="#ff2400"/><stop offset="0.5547" stop-color="#ff4600"/><stop offset="0.5579" stop-color="#fca000"/><stop offset="0.5627" stop-color="#f2e300"/><stop offset="0.5643" stop-color="#e4ef02"/><stop offset="0.5691" stop-color="#6ae311"/><stop offset="0.5723" stop-color="#2fdd18"/><stop offset="0.5756" stop-color="#14cb82"/><stop offset="0.5804" stop-color="#01b4eb"/><stop offset="0.5868" stop-color="#1b2df0"/><stop offset="0.5884" stop-color="#201df0"/><stop offset="0.5965" stop-color="#3712ed"/><stop offset="0.5981" stop-color="#440beb" stop-opacity="0.91"/><stop offset="0.6045" stop-color="#8301d5" stop-opacity="0.09"/><stop offset="0.6061" stop-color="#8a00d2" stop-opacity="0.00"/><stop offset="0.8055" stop-color="#8a00d2" stop-opacity="0.00"/><stop offset="0.8071" stop-color="#7803d9" stop-opacity="0.23"/><stop offset="0.8087" stop-color="#4c09e9" stop-opacity="0.80"/><stop offset="0.8103" stop-color="#261aef"/><stop offset="0.8119" stop-color="#13ca86"/><stop offset="0.8135" stop-color="#ace908"/><stop offset="0.8151" stop-color="#ff2b00"/><stop offset="0.8167" stop-color="#ff1900"/><stop offset="0.8344" stop-color="#cf0000"/><stop offset="0.8376" stop-color="#bc0000"/><stop offset="0.8505" stop-color="#e00500"/><stop offset="0.8698" stop-color="#ff1a00"/><stop offset="0.8714" stop-color="#ff2600"/><stop offset="0.8730" stop-color="#ff5200"/><stop offset="0.8746" stop-color="#fe9400"/><stop offset="0.8778" stop-color="#f3da00"/><stop offset="0.8794" stop-color="#e2ef02"/><stop offset="0.8826" stop-color="#6de310"/><stop offset="0.8842" stop-color="#41df16"/><stop offset="0.8859" stop-color="#20d541"/><stop offset="0.8875" stop-color="#13ca85"/><stop offset="0.8907" stop-color="#03bcd9"/><stop offset="0.8923" stop-color="#04a3ec"/><stop offset="0.8971" stop-color="#1b2fef"/><stop offset="0.8987" stop-color="#201df0"/><stop offset="0.9068" stop-color="#3712ed"/><stop offset="0.9084" stop-color="#440beb" stop-opacity="0.91"/><stop offset="0.9148" stop-color="#8301d5" stop-opacity="0.09"/><stop offset="0.9164" stop-color="#8a00d2" stop-opacity="0.00"/><stop offset="1.0000" stop-color="#8a00d2" stop-opacity="0.00"/></linearGradient>
<rect x="27" y="194.94" width="311" height="5.56" fill="url(#sg3_7)"/>
<ellipse cx="65.5" cy="186.1" rx="4.7" ry="11.7" fill="#980000" opacity="0.55"/>
<ellipse cx="110.5" cy="186.1" rx="4.7" ry="11.7" fill="#980000" opacity="0.55"/>
<ellipse cx="190.2" cy="186.1" rx="4.2" ry="11.7" fill="#980000" opacity="0.55"/>
<ellipse cx="287.0" cy="186.1" rx="5.6" ry="11.7" fill="#980000" opacity="0.55"/>
<ellipse cx="66" cy="161.4" rx="3.0" ry="2.3" fill="#4818e0" stroke="#e8d000" stroke-width="1"/>
<ellipse cx="112.5" cy="161.4" rx="3.5" ry="2.3" fill="#4818e0" stroke="#e8d000" stroke-width="1"/>
<ellipse cx="288" cy="161.4" rx="4.0" ry="2.3" fill="#4818e0" stroke="#e8d000" stroke-width="1"/>
</g></g>
<rect x="280.1" y="162" width="0.9" height="32.5" fill="#fff" opacity="0.75"/>
<path d="M42.6,173.1L47.6,175.8L42.6,178.4Z" fill="#fff" stroke="#222" stroke-width="0.55"/>
<path d="M35.1,184.7L40.1,187.4L35.1,190.1Z" fill="#fff" stroke="#222" stroke-width="0.55"/>
<path d="M85.1,184.3L90.1,187.0L85.1,189.7Z" fill="#fff" stroke="#222" stroke-width="0.55"/>
<path d="M138.2,185.9L143.2,188.6L138.2,191.3Z" fill="#fff" stroke="#222" stroke-width="0.55"/>
<path d="M163.8,173.3L168.8,176.0L163.8,178.7Z" fill="#fff" stroke="#222" stroke-width="0.55"/>
<path d="M172.6,162.8L177.6,165.5L172.6,168.2Z" fill="#fff" stroke="#222" stroke-width="0.55"/>
<path d="M220.1,173.1L225.1,175.8L220.1,178.4Z" fill="#fff" stroke="#222" stroke-width="0.55"/>
<path d="M252.6,171.6L257.6,174.2L252.6,176.9Z" fill="#fff" stroke="#222" stroke-width="0.55"/>
<path d="M243.2,187.6L248.2,190.2L243.2,192.9Z" fill="#fff" stroke="#222" stroke-width="0.55"/>
<path d="M270.1,177.6L275.1,180.3L270.1,183.0Z" fill="#fff" stroke="#222" stroke-width="0.55"/>
<path d="M315.8,176.9L320.8,179.6L315.8,182.3Z" fill="#fff" stroke="#222" stroke-width="0.55"/>
<path d="M315.8,183.7L320.8,186.4L315.8,189.1Z" fill="#fff" stroke="#222" stroke-width="0.55"/>
<text transform="translate(22.8,201.8) rotate(-90)" font-family="Liberation Serif" font-weight="bold" font-size="11.6">10 μm</text>
<rect x="27.7" y="184" width="1.5" height="9.8" fill="#111"/>
<text x="88.6" y="211" font-family="Liberation Serif" font-weight="bold" font-size="13">1s</text>
<rect x="33.6" y="214" width="127.4" height="2" fill="#111"/>
<text x="7.8" y="242.4" font-family="Liberation Serif" font-weight="bold" font-size="13.2">B</text>
<text transform="translate(34.2,312.3) rotate(-90)" font-family="Liberation Serif" font-weight="bold" font-size="12.6">Events (%)</text>
<text x="52" y="329.40" font-family="Liberation Serif" font-weight="bold" font-size="8" text-anchor="end" letter-spacing="0.5">0</text>
<rect x="55.6" y="326.10" width="3" height="1.8" fill="#000"/>
<text x="52" y="321.55" font-family="Liberation Serif" font-weight="bold" font-size="8" text-anchor="end" letter-spacing="0.5">5</text>
<rect x="55.6" y="318.25" width="3" height="1.8" fill="#000"/>
<text x="52" y="313.70" font-family="Liberation Serif" font-weight="bold" font-size="8" text-anchor="end" letter-spacing="0.5">10</text>
<rect x="55.6" y="310.40" width="3" height="1.8" fill="#000"/>
<text x="52" y="305.85" font-family="Liberation Serif" font-weight="bold" font-size="8" text-anchor="end" letter-spacing="0.5">15</text>
<rect x="55.6" y="302.55" width="3" height="1.8" fill="#000"/>
<text x="52" y="298.00" font-family="Liberation Serif" font-weight="bold" font-size="8" text-anchor="end" letter-spacing="0.5">20</text>
<rect x="55.6" y="294.70" width="3" height="1.8" fill="#000"/>
<text x="52" y="290.15" font-family="Liberation Serif" font-weight="bold" font-size="8" text-anchor="end" letter-spacing="0.5">25</text>
<rect x="55.6" y="286.85" width="3" height="1.8" fill="#000"/>
<text x="52" y="282.30" font-family="Liberation Serif" font-weight="bold" font-size="8" text-anchor="end" letter-spacing="0.5">30</text>
<rect x="55.6" y="279.00" width="3" height="1.8" fill="#000"/>
<text x="52" y="274.45" font-family="Liberation Serif" font-weight="bold" font-size="8" text-anchor="end" letter-spacing="0.5">35</text>
<rect x="55.6" y="271.15" width="3" height="1.8" fill="#000"/>
<text x="52" y="266.60" font-family="Liberation Serif" font-weight="bold" font-size="8" text-anchor="end" letter-spacing="0.5">40</text>
<rect x="55.6" y="263.30" width="3" height="1.8" fill="#000"/>
<text x="52" y="258.75" font-family="Liberation Serif" font-weight="bold" font-size="8" text-anchor="end" letter-spacing="0.5">45</text>
<rect x="55.6" y="255.45" width="3" height="1.8" fill="#000"/>
<text x="52" y="250.90" font-family="Liberation Serif" font-weight="bold" font-size="8" text-anchor="end" letter-spacing="0.5">50</text>
<rect x="55.6" y="247.60" width="3" height="1.8" fill="#000"/>
<rect x="78.88" y="309.42" width="3.8" height="17.58" fill="#000"/>
<rect x="96.16" y="256.66" width="3.8" height="70.34" fill="#000"/>
<rect x="113.44" y="265.30" width="3.8" height="61.70" fill="#000"/>
<rect x="130.72" y="318.84" width="3.8" height="8.16" fill="#000"/>
<rect x="117.74" y="311.49" width="2.8" height="15.51" fill="#fff" stroke="#000" stroke-width="1"/>
<rect x="135.02" y="295.47" width="2.8" height="31.53" fill="#fff" stroke="#000" stroke-width="1"/>
<rect x="152.30" y="295.47" width="2.8" height="31.53" fill="#fff" stroke="#000" stroke-width="1"/>
<rect x="169.58" y="311.49" width="2.8" height="15.51" fill="#fff" stroke="#000" stroke-width="1"/>
<rect x="186.86" y="279.46" width="2.8" height="47.54" fill="#fff" stroke="#000" stroke-width="1"/>
<rect x="221.42" y="311.49" width="2.8" height="15.51" fill="#fff" stroke="#000" stroke-width="1"/>
<rect x="156.10" y="313.84" width="2.8" height="13.16" fill="#808080" stroke="#333" stroke-width="1"/>
<rect x="190.66" y="300.50" width="2.8" height="26.50" fill="#808080" stroke="#333" stroke-width="1"/>
<rect x="207.94" y="260.93" width="2.8" height="66.07" fill="#808080" stroke="#333" stroke-width="1"/>
<rect x="225.22" y="287.31" width="2.8" height="39.69" fill="#808080" stroke="#333" stroke-width="1"/>
<rect x="57.5" y="246.6" width="2.2" height="81.5" fill="#000"/>
<rect x="57.5" y="325.9" width="173.9" height="2.2" fill="#000"/>
<rect x="57.70" y="327" width="1.8" height="3" fill="#000"/>
<rect x="74.98" y="327" width="1.8" height="3" fill="#000"/>
<rect x="92.26" y="327" width="1.8" height="3" fill="#000"/>
<rect x="109.54" y="327" width="1.8" height="3" fill="#000"/>
<rect x="126.82" y="327" width="1.8" height="3" fill="#000"/>
<rect x="144.10" y="327" width="1.8" height="3" fill="#000"/>
<rect x="161.38" y="327" width="1.8" height="3" fill="#000"/>
<rect x="178.66" y="327" width="1.8" height="3" fill="#000"/>
<rect x="195.94" y="327" width="1.8" height="3" fill="#000"/>
<rect x="213.22" y="327" width="1.8" height="3" fill="#000"/>
<rect x="230.50" y="327" width="1.8" height="3" fill="#000"/>
<text x="67.74" y="342.5" font-family="Liberation Serif" font-weight="bold" font-size="7" text-anchor="middle" letter-spacing="1.1">60</text>
<text x="85.02" y="342.5" font-family="Liberation Serif" font-weight="bold" font-size="7" text-anchor="middle" letter-spacing="1.1">80</text>
<text x="102.30" y="342.5" font-family="Liberation Serif" font-weight="bold" font-size="7" text-anchor="middle" letter-spacing="1.1">100</text>
<text x="119.58" y="342.5" font-family="Liberation Serif" font-weight="bold" font-size="7" text-anchor="middle" letter-spacing="1.1">120</text>
<text x="136.86" y="342.5" font-family="Liberation Serif" font-weight="bold" font-size="7" text-anchor="middle" letter-spacing="1.1">140</text>
<text x="154.14" y="342.5" font-family="Liberation Serif" font-weight="bold" font-size="7" text-anchor="middle" letter-spacing="1.1">160</text>
<text x="171.42" y="342.5" font-family="Liberation Serif" font-weight="bold" font-size="7" text-anchor="middle" letter-spacing="1.1">180</text>
<text x="188.70" y="342.5" font-family="Liberation Serif" font-weight="bold" font-size="7" text-anchor="middle" letter-spacing="1.1">200</text>
<text x="205.98" y="342.5" font-family="Liberation Serif" font-weight="bold" font-size="7" text-anchor="middle" letter-spacing="1.1">220</text>
<text x="223.26" y="342.5" font-family="Liberation Serif" font-weight="bold" font-size="7" text-anchor="middle" letter-spacing="1.1">240</text>
<rect x="144.3" y="237.20000000000002" width="4.7" height="5" fill="#000"/>
<text x="151.5" y="243.8" font-family="Liberation Serif" font-weight="bold" font-size="9.5" letter-spacing="0.4">Control</text>
<rect x="144.8" y="254.4" width="3.7" height="4" fill="#fff" stroke="#000" stroke-width="1.1"/>
<text x="151.5" y="260.5" font-family="Liberation Serif" font-weight="bold" font-size="9.5" letter-spacing="0.4">2min</text>
<rect x="144.8" y="271.2" width="3.7" height="4" fill="#808080" stroke="#333" stroke-width="1"/>
<text x="151.5" y="277.3" font-family="Liberation Serif" font-weight="bold" font-size="9.5" letter-spacing="0.4">5min</text>
<text x="57.8" y="362.5" font-family="Liberation Serif" font-weight="bold" font-size="12.3">Ca<tspan font-size="7.5" dy="-4.5">2+</tspan><tspan dy="4.5"> transient decay time, T</tspan><tspan font-size="7.5" dy="2">50</tspan><tspan dy="-2">[ms]</tspan></text>
<text x="234.3" y="240.6" font-family="Liberation Serif" font-weight="bold" font-size="13.6">C</text>
<text transform="translate(261.6,317.4) rotate(-90)" font-family="Liberation Serif" font-weight="bold" font-size="12.6">Events(%)</text>
<text x="277.5" y="331.50" font-family="Liberation Serif" font-weight="bold" font-size="7.5" text-anchor="end" letter-spacing="0.3">0</text>
<rect x="281.7" y="328.00" width="3" height="1.8" fill="#000"/>
<text x="277.5" y="316.86" font-family="Liberation Serif" font-weight="bold" font-size="7.5" text-anchor="end" letter-spacing="0.3">10</text>
<rect x="281.7" y="313.36" width="3" height="1.8" fill="#000"/>
<text x="277.5" y="302.22" font-family="Liberation Serif" font-weight="bold" font-size="7.5" text-anchor="end" letter-spacing="0.3">20</text>
<rect x="281.7" y="298.72" width="3" height="1.8" fill="#000"/>
<text x="277.5" y="287.58" font-family="Liberation Serif" font-weight="bold" font-size="7.5" text-anchor="end" letter-spacing="0.3">30</text>
<rect x="281.7" y="284.08" width="3" height="1.8" fill="#000"/>
<text x="277.5" y="272.94" font-family="Liberation Serif" font-weight="bold" font-size="7.5" text-anchor="end" letter-spacing="0.3">40</text>
<rect x="281.7" y="269.44" width="3" height="1.8" fill="#000"/>
<text x="277.5" y="258.30" font-family="Liberation Serif" font-weight="bold" font-size="7.5" text-anchor="end" letter-spacing="0.3">50</text>
<rect x="281.7" y="254.80" width="3" height="1.8" fill="#000"/>
<rect x="288.00" y="296.40" width="3.7" height="32.50" fill="#000"/>
<rect x="292.20" y="263.52" width="2.7" height="65.38" fill="#fff" stroke="#000" stroke-width="1"/>
<rect x="296.00" y="267.91" width="2.7" height="60.99" fill="#808080" stroke="#333" stroke-width="1"/>
<rect x="304.40" y="304.30" width="3.7" height="24.60" fill="#000"/>
<rect x="308.60" y="279.92" width="2.7" height="48.98" fill="#fff" stroke="#000" stroke-width="1"/>
<rect x="312.40" y="292.80" width="2.7" height="36.10" fill="#808080" stroke="#333" stroke-width="1"/>
<rect x="320.80" y="296.40" width="3.7" height="32.50" fill="#000"/>
<rect x="325.00" y="296.90" width="2.7" height="32.00" fill="#fff" stroke="#000" stroke-width="1"/>
<rect x="328.80" y="317.25" width="2.7" height="11.65" fill="#808080" stroke="#333" stroke-width="1"/>
<rect x="337.20" y="321.14" width="3.7" height="7.76" fill="#000"/>
<rect x="345.20" y="292.80" width="2.7" height="36.10" fill="#808080" stroke="#333" stroke-width="1"/>
<rect x="353.60" y="321.14" width="3.7" height="7.76" fill="#000"/>
<rect x="370.00" y="321.14" width="3.7" height="7.76" fill="#000"/>
<rect x="419.20" y="321.14" width="3.7" height="7.76" fill="#000"/>
<rect x="435.60" y="304.30" width="3.7" height="24.60" fill="#000"/>
<rect x="283.59999999999997" y="253.9" width="2.2" height="76.09999999999997" fill="#000"/>
<rect x="283.59999999999997" y="327.79999999999995" width="165.1" height="2.2" fill="#000"/>
<rect x="283.80" y="328.9" width="1.8" height="3" fill="#000"/>
<rect x="300.20" y="328.9" width="1.8" height="3" fill="#000"/>
<rect x="316.60" y="328.9" width="1.8" height="3" fill="#000"/>
<rect x="333.00" y="328.9" width="1.8" height="3" fill="#000"/>
<rect x="349.40" y="328.9" width="1.8" height="3" fill="#000"/>
<rect x="365.80" y="328.9" width="1.8" height="3" fill="#000"/>
<rect x="382.20" y="328.9" width="1.8" height="3" fill="#000"/>
<rect x="398.60" y="328.9" width="1.8" height="3" fill="#000"/>
<rect x="415.00" y="328.9" width="1.8" height="3" fill="#000"/>
<rect x="431.40" y="328.9" width="1.8" height="3" fill="#000"/>
<rect x="447.80" y="328.9" width="1.8" height="3" fill="#000"/>
<text x="293.40" y="345" font-family="Liberation Serif" font-weight="bold" font-size="7.8" text-anchor="middle" letter-spacing="1.1">50</text>
<text x="309.80" y="345" font-family="Liberation Serif" font-weight="bold" font-size="7.8" text-anchor="middle" letter-spacing="1.1">100</text>
<text x="326.20" y="345" font-family="Liberation Serif" font-weight="bold" font-size="7.8" text-anchor="middle" letter-spacing="1.1">150</text>
<text x="342.60" y="345" font-family="Liberation Serif" font-weight="bold" font-size="7.8" text-anchor="middle" letter-spacing="1.1">200</text>
<text x="359.00" y="345" font-family="Liberation Serif" font-weight="bold" font-size="7.8" text-anchor="middle" letter-spacing="1.1">250</text>
<text x="375.40" y="345" font-family="Liberation Serif" font-weight="bold" font-size="7.8" text-anchor="middle" letter-spacing="1.1">300</text>
<text x="391.80" y="345" font-family="Liberation Serif" font-weight="bold" font-size="7.8" text-anchor="middle" letter-spacing="1.1">350</text>
<text x="408.20" y="345" font-family="Liberation Serif" font-weight="bold" font-size="7.8" text-anchor="middle" letter-spacing="1.1">400</text>
<text x="424.60" y="345" font-family="Liberation Serif" font-weight="bold" font-size="7.8" text-anchor="middle" letter-spacing="1.1">450</text>
<text x="441.00" y="345" font-family="Liberation Serif" font-weight="bold" font-size="7.8" text-anchor="middle" letter-spacing="1.1">500</text>
<rect x="387.4" y="244.1" width="4.7" height="5" fill="#000"/>
<text x="395.1" y="250.7" font-family="Liberation Serif" font-weight="bold" font-size="9.5" letter-spacing="0.4">Control</text>
<rect x="387.9" y="261.79999999999995" width="3.7" height="4" fill="#fff" stroke="#000" stroke-width="1.1"/>
<text x="395.1" y="267.9" font-family="Liberation Serif" font-weight="bold" font-size="9.5" letter-spacing="0.4">2min</text>
<rect x="387.9" y="278.59999999999997" width="3.7" height="4" fill="#808080" stroke="#333" stroke-width="1"/>
<text x="395.1" y="284.7" font-family="Liberation Serif" font-weight="bold" font-size="9.5" letter-spacing="0.4">5min</text>
<text x="379" y="364.25" font-family="Liberation Serif" font-weight="bold" font-size="12.2" text-anchor="middle">The integral of Ca<tspan font-size="7.5" dy="-5">2+</tspan><tspan dy="5"> release in</tspan></text>
<text x="378.75" y="378.75" font-family="Liberation Serif" font-weight="bold" font-size="12.2" text-anchor="middle">the form of LCRs [ms*μm*F/F0]</text>
<text x="449.6" y="18.2" font-family="Liberation Serif" font-weight="bold" font-size="12.8">D</text>
<text transform="translate(481.6,234.5) rotate(-90)" font-family="Liberation Serif" font-weight="bold" font-size="12.7">AP cycle length (ms)</text>
<text x="520.4" text-anchor="end" y="333.80" font-family="Liberation Serif" font-weight="bold" font-size="13.6">250</text>
<rect x="528.9" y="328.70" width="3.5" height="1.6" fill="#000"/>
<text x="520.4" text-anchor="end" y="295.14" font-family="Liberation Serif" font-weight="bold" font-size="13.6">350</text>
<rect x="528.9" y="290.04" width="3.5" height="1.6" fill="#000"/>
<text x="520.4" text-anchor="end" y="256.48" font-family="Liberation Serif" font-weight="bold" font-size="13.6">450</text>
<rect x="528.9" y="251.38" width="3.5" height="1.6" fill="#000"/>
<text x="520.4" text-anchor="end" y="217.82" font-family="Liberation Serif" font-weight="bold" font-size="13.6">550</text>
<rect x="528.9" y="212.72" width="3.5" height="1.6" fill="#000"/>
<text x="520.4" text-anchor="end" y="179.16" font-family="Liberation Serif" font-weight="bold" font-size="13.6">650</text>
<rect x="528.9" y="174.06" width="3.5" height="1.6" fill="#000"/>
<text x="520.4" text-anchor="end" y="140.50" font-family="Liberation Serif" font-weight="bold" font-size="13.6">750</text>
<rect x="528.9" y="135.40" width="3.5" height="1.6" fill="#000"/>
<text x="520.4" text-anchor="end" y="101.84" font-family="Liberation Serif" font-weight="bold" font-size="13.6">850</text>
<rect x="528.9" y="96.74" width="3.5" height="1.6" fill="#000"/>
<text x="520.4" text-anchor="end" y="63.18" font-family="Liberation Serif" font-weight="bold" font-size="13.6">950</text>
<rect x="528.9" y="58.08" width="3.5" height="1.6" fill="#000"/>
<text x="520.4" text-anchor="end" y="24.52" font-family="Liberation Serif" font-weight="bold" font-size="13.6">1050</text>
<rect x="528.9" y="19.42" width="3.5" height="1.6" fill="#000"/>
<text x="533.00" y="354.6" font-family="Liberation Serif" font-weight="bold" font-size="13.6" text-anchor="middle">250</text>
<rect x="532.20" y="329.5" width="1.6" height="3.5" fill="#000"/>
<text x="610.32" y="354.6" font-family="Liberation Serif" font-weight="bold" font-size="13.6" text-anchor="middle">450</text>
<rect x="609.52" y="329.5" width="1.6" height="3.5" fill="#000"/>
<text x="687.64" y="354.6" font-family="Liberation Serif" font-weight="bold" font-size="13.6" text-anchor="middle">650</text>
<rect x="686.84" y="329.5" width="1.6" height="3.5" fill="#000"/>
<text x="764.96" y="354.6" font-family="Liberation Serif" font-weight="bold" font-size="13.6" text-anchor="middle">850</text>
<rect x="764.16" y="329.5" width="1.6" height="3.5" fill="#000"/>
<text x="603.5" y="377.6" font-family="Liberation Serif" font-weight="bold" font-size="13.6">LCR period(ms)</text>
<rect x="541.3" y="25.3" width="94.3" height="62.9" fill="#fff" stroke="#777" stroke-width="0.8"/>
<path d="M568.1,32.9L571.4,36.2L568.1,39.5L564.8,36.2Z" fill="#1f6fc0"/>
<text x="575.8" y="41.8" font-family="Liberation Serif" font-size="13.8">control</text>
<rect x="565.5" y="54.6" width="6.1" height="5.6" fill="#1ba24e"/>
<text x="575.8" y="62.4" font-family="Liberation Serif" font-size="13.3">2min</text>
<path d="M568.6,74.8L572.3,81L565,81Z" fill="#e8141c"/>
<text x="575.8" y="83" font-family="Liberation Serif" font-size="13.3">5min</text>
<line x1="549.1" y1="246.2" x2="731.5" y2="98.1" stroke="#ee1218" stroke-width="1.4"/>
<path d="M539.50,276.95L542.75,280.20L539.50,283.45L536.25,280.20Z" fill="#1f6fc0"/>
<path d="M545.80,279.95L549.05,283.20L545.80,286.45L542.55,283.20Z" fill="#1f6fc0"/>
<path d="M545.80,285.45L549.05,288.70L545.80,291.95L542.55,288.70Z" fill="#1f6fc0"/>
<path d="M551.60,279.95L554.85,283.20L551.60,286.45L548.35,283.20Z" fill="#1f6fc0"/>
<path d="M542.60,265.05L545.85,268.30L542.60,271.55L539.35,268.30Z" fill="#1f6fc0"/>
<path d="M548.50,264.65L551.75,267.90L548.50,271.15L545.25,267.90Z" fill="#1f6fc0"/>
<path d="M551.20,267.95L554.45,271.20L551.20,274.45L547.95,271.20Z" fill="#1f6fc0"/>
<path d="M557.60,259.25L560.85,262.50L557.60,265.75L554.35,262.50Z" fill="#1f6fc0"/>
<path d="M563.50,256.15L566.75,259.40L563.50,262.65L560.25,259.40Z" fill="#1f6fc0"/>
<path d="M569.70,256.55L572.95,259.80L569.70,263.05L566.45,259.80Z" fill="#1f6fc0"/>
<path d="M575.60,256.55L578.85,259.80L575.60,263.05L572.35,259.80Z" fill="#1f6fc0"/>
<path d="M581.60,249.85L584.85,253.10L581.60,256.35L578.35,253.10Z" fill="#1f6fc0"/>
<path d="M587.30,248.05L590.55,251.30L587.30,254.55L584.05,251.30Z" fill="#1f6fc0"/>
<path d="M566.60,265.05L569.85,268.30L566.60,271.55L563.35,268.30Z" fill="#1f6fc0"/>
<path d="M562.00,278.15L565.25,281.40L562.00,284.65L558.75,281.40Z" fill="#1f6fc0"/>
<path d="M560.30,279.95L563.55,283.20L560.30,286.45L557.05,283.20Z" fill="#1f6fc0"/>
<path d="M564.80,279.05L568.05,282.30L564.80,285.55L561.55,282.30Z" fill="#1f6fc0"/>
<path d="M569.30,285.45L572.55,288.70L569.30,291.95L566.05,288.70Z" fill="#1f6fc0"/>
<path d="M577.40,277.25L580.65,280.50L577.40,283.75L574.15,280.50Z" fill="#1f6fc0"/>
<path d="M579.20,261.95L582.45,265.20L579.20,268.45L575.95,265.20Z" fill="#1f6fc0"/>
<path d="M605.40,242.05L608.65,245.30L605.40,248.55L602.15,245.30Z" fill="#1f6fc0"/>
<path d="M576.90,257.45L580.15,260.70L576.90,263.95L573.65,260.70Z" fill="#1f6fc0"/>
<path d="M573.00,279.75L576.25,283.00L573.00,286.25L569.75,283.00Z" fill="#1f6fc0"/>
<rect x="581.80" y="263.30" width="5.6" height="5.6" fill="#1ba24e"/>
<rect x="584.50" y="263.30" width="5.6" height="5.6" fill="#1ba24e"/>
<rect x="571.90" y="267.80" width="5.6" height="5.6" fill="#1ba24e"/>
<rect x="566.50" y="279.50" width="5.6" height="5.6" fill="#1ba24e"/>
<rect x="570.10" y="277.70" width="5.6" height="5.6" fill="#1ba24e"/>
<rect x="600.40" y="249.50" width="5.6" height="5.6" fill="#1ba24e"/>
<rect x="601.00" y="237.70" width="5.6" height="5.6" fill="#1ba24e"/>
<rect x="591.80" y="241.60" width="5.6" height="5.6" fill="#1ba24e"/>
<rect x="595.40" y="238.90" width="5.6" height="5.6" fill="#1ba24e"/>
<rect x="586.10" y="223.70" width="5.6" height="5.6" fill="#1ba24e"/>
<rect x="597.20" y="243.20" width="5.6" height="5.6" fill="#1ba24e"/>
<path d="M548.50,252.28L551.55,257.77L545.45,257.77Z" fill="#ee1218"/>
<path d="M554.50,252.28L557.55,257.77L551.45,257.77Z" fill="#ee1218"/>
<path d="M572.40,241.18L575.45,246.67L569.35,246.67Z" fill="#ee1218"/>
<path d="M578.00,244.18L581.05,249.67L574.95,249.67Z" fill="#ee1218"/>
<path d="M583.70,244.18L586.75,249.67L580.65,249.67Z" fill="#ee1218"/>
<path d="M589.40,235.38L592.45,240.87L586.35,240.87Z" fill="#ee1218"/>
<path d="M589.40,244.18L592.45,249.67L586.35,249.67Z" fill="#ee1218"/>
<path d="M592.00,238.48L595.05,243.97L588.95,243.97Z" fill="#ee1218"/>
<path d="M597.60,238.48L600.65,243.97L594.55,243.97Z" fill="#ee1218"/>
<path d="M596.00,244.18L599.05,249.67L592.95,249.67Z" fill="#ee1218"/>
<path d="M551.50,105.58L554.55,111.07L548.45,111.07Z" fill="#ee1218"/>
<path d="M577.90,105.58L580.95,111.07L574.85,111.07Z" fill="#ee1218"/>
<path d="M650.50,148.88L653.55,154.37L647.45,154.37Z" fill="#ee1218"/>
<path d="M653.40,153.78L656.45,159.27L650.35,159.27Z" fill="#ee1218"/>
<path d="M690.50,139.78L693.55,145.27L687.45,145.27Z" fill="#ee1218"/>
<path d="M687.60,153.78L690.65,159.27L684.55,159.27Z" fill="#ee1218"/>
<path d="M624.50,194.98L627.55,200.47L621.45,200.47Z" fill="#ee1218"/>
<path d="M731.50,38.88L734.55,44.37L728.45,44.37Z" fill="#ee1218"/>
<line x1="539" y1="286" x2="603.3" y2="252.3" stroke="#1f6fc0" stroke-width="2"/>
<line x1="567.5" y1="285" x2="603.8" y2="239.4" stroke="#1ba24e" stroke-width="2"/>
<rect x="531.4" y="19.6" width="2.2" height="310.9" fill="#000"/>
<rect x="531.4" y="328.5" width="233.70000000000005" height="2.2" fill="#000"/>
<text x="709.7" y="176.6" font-family="Liberation Serif" font-weight="bold" font-size="14" fill="#ee1218" text-anchor="middle">y = 0.82x + 228</text>
<text x="709.2" y="191.8" font-family="Liberation Serif" font-weight="bold" font-size="14" fill="#ee1218" text-anchor="middle">r<tspan font-size="8" dy="-5">2</tspan><tspan dy="5"> = 0.4</tspan></text>
<text x="711.8" y="240.8" font-family="Liberation Serif" font-weight="bold" font-size="14" fill="#1ba24e" text-anchor="middle">y = 1.2x - 36</text>
<text x="711.8" y="255" font-family="Liberation Serif" font-weight="bold" font-size="14" fill="#1ba24e" text-anchor="middle">r<tspan font-size="8" dy="-5">2</tspan><tspan dy="5"> = 0.65</tspan></text>
<text x="712.1" y="308.6" font-family="Liberation Serif" font-weight="bold" font-size="14" fill="#1f6fc0" text-anchor="middle">y = 0.6x + 212.2</text>
<text x="711.8" y="322.8" font-family="Liberation Serif" font-weight="bold" font-size="14" fill="#1f6fc0" text-anchor="middle">r<tspan font-size="8" dy="-5">2</tspan><tspan dy="5"> = 0.9</tspan></text>
</svg></body></html>
